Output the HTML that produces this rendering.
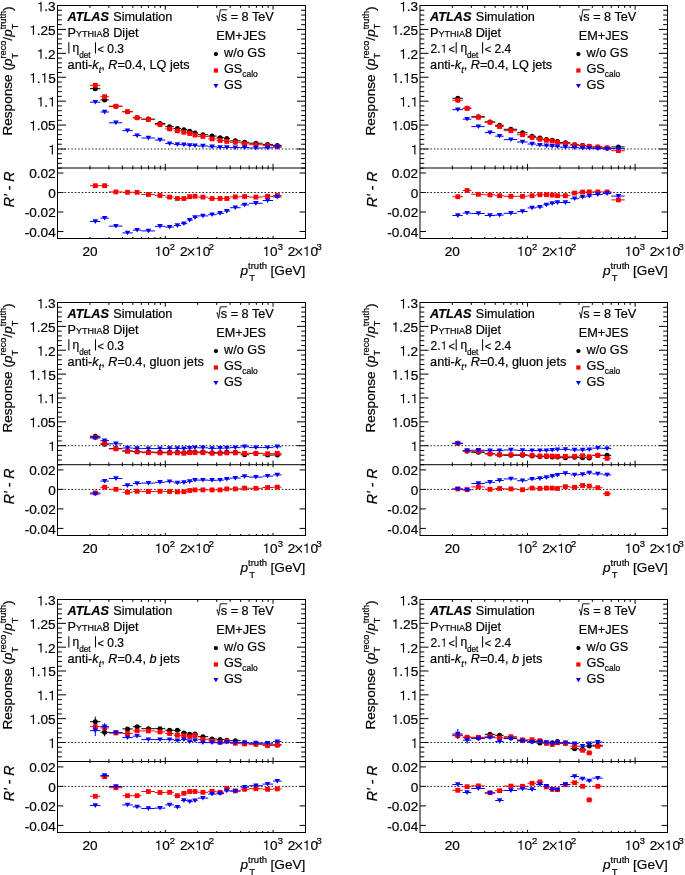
<!DOCTYPE html>
<html><head><meta charset="utf-8"><style>
html,body{margin:0;padding:0;background:#fff;width:685px;height:875px;overflow:hidden}
svg{display:block}
text{font-family:"Liberation Sans", sans-serif;fill:#000;stroke:#000;stroke-width:0.2px}
svg{will-change:transform}
.h{fill:none;stroke:none}
</style></head><body>
<svg width="685" height="875" viewBox="0 0 685 875">
<rect width="685" height="875" fill="#fff"/>
<rect x="57.5" y="5.5" width="248" height="233" fill="none" stroke="#000" stroke-width="1"/>
<line x1="57.5" y1="168" x2="305.5" y2="168" stroke="#000" stroke-width="1"/>
<line x1="57.5" y1="168.13" x2="61.8" y2="168.13" stroke="#000" stroke-width="1"/>
<line x1="305.5" y1="168.13" x2="301.2" y2="168.13" stroke="#000" stroke-width="1"/>
<line x1="57.5" y1="163.35" x2="61.8" y2="163.35" stroke="#000" stroke-width="1"/>
<line x1="305.5" y1="163.35" x2="301.2" y2="163.35" stroke="#000" stroke-width="1"/>
<line x1="57.5" y1="158.57" x2="61.8" y2="158.57" stroke="#000" stroke-width="1"/>
<line x1="305.5" y1="158.57" x2="301.2" y2="158.57" stroke="#000" stroke-width="1"/>
<line x1="57.5" y1="153.78" x2="61.8" y2="153.78" stroke="#000" stroke-width="1"/>
<line x1="305.5" y1="153.78" x2="301.2" y2="153.78" stroke="#000" stroke-width="1"/>
<line x1="57.5" y1="149" x2="66" y2="149" stroke="#000" stroke-width="1"/>
<line x1="305.5" y1="149" x2="297" y2="149" stroke="#000" stroke-width="1"/>
<line x1="57.5" y1="144.22" x2="61.8" y2="144.22" stroke="#000" stroke-width="1"/>
<line x1="305.5" y1="144.22" x2="301.2" y2="144.22" stroke="#000" stroke-width="1"/>
<line x1="57.5" y1="139.43" x2="61.8" y2="139.43" stroke="#000" stroke-width="1"/>
<line x1="305.5" y1="139.43" x2="301.2" y2="139.43" stroke="#000" stroke-width="1"/>
<line x1="57.5" y1="134.65" x2="61.8" y2="134.65" stroke="#000" stroke-width="1"/>
<line x1="305.5" y1="134.65" x2="301.2" y2="134.65" stroke="#000" stroke-width="1"/>
<line x1="57.5" y1="129.87" x2="61.8" y2="129.87" stroke="#000" stroke-width="1"/>
<line x1="305.5" y1="129.87" x2="301.2" y2="129.87" stroke="#000" stroke-width="1"/>
<line x1="57.5" y1="125.08" x2="66" y2="125.08" stroke="#000" stroke-width="1"/>
<line x1="305.5" y1="125.08" x2="297" y2="125.08" stroke="#000" stroke-width="1"/>
<line x1="57.5" y1="120.3" x2="61.8" y2="120.3" stroke="#000" stroke-width="1"/>
<line x1="305.5" y1="120.3" x2="301.2" y2="120.3" stroke="#000" stroke-width="1"/>
<line x1="57.5" y1="115.52" x2="61.8" y2="115.52" stroke="#000" stroke-width="1"/>
<line x1="305.5" y1="115.52" x2="301.2" y2="115.52" stroke="#000" stroke-width="1"/>
<line x1="57.5" y1="110.73" x2="61.8" y2="110.73" stroke="#000" stroke-width="1"/>
<line x1="305.5" y1="110.73" x2="301.2" y2="110.73" stroke="#000" stroke-width="1"/>
<line x1="57.5" y1="105.95" x2="61.8" y2="105.95" stroke="#000" stroke-width="1"/>
<line x1="305.5" y1="105.95" x2="301.2" y2="105.95" stroke="#000" stroke-width="1"/>
<line x1="57.5" y1="101.17" x2="66" y2="101.17" stroke="#000" stroke-width="1"/>
<line x1="305.5" y1="101.17" x2="297" y2="101.17" stroke="#000" stroke-width="1"/>
<line x1="57.5" y1="96.38" x2="61.8" y2="96.38" stroke="#000" stroke-width="1"/>
<line x1="305.5" y1="96.38" x2="301.2" y2="96.38" stroke="#000" stroke-width="1"/>
<line x1="57.5" y1="91.6" x2="61.8" y2="91.6" stroke="#000" stroke-width="1"/>
<line x1="305.5" y1="91.6" x2="301.2" y2="91.6" stroke="#000" stroke-width="1"/>
<line x1="57.5" y1="86.82" x2="61.8" y2="86.82" stroke="#000" stroke-width="1"/>
<line x1="305.5" y1="86.82" x2="301.2" y2="86.82" stroke="#000" stroke-width="1"/>
<line x1="57.5" y1="82.03" x2="61.8" y2="82.03" stroke="#000" stroke-width="1"/>
<line x1="305.5" y1="82.03" x2="301.2" y2="82.03" stroke="#000" stroke-width="1"/>
<line x1="57.5" y1="77.25" x2="66" y2="77.25" stroke="#000" stroke-width="1"/>
<line x1="305.5" y1="77.25" x2="297" y2="77.25" stroke="#000" stroke-width="1"/>
<line x1="57.5" y1="72.47" x2="61.8" y2="72.47" stroke="#000" stroke-width="1"/>
<line x1="305.5" y1="72.47" x2="301.2" y2="72.47" stroke="#000" stroke-width="1"/>
<line x1="57.5" y1="67.68" x2="61.8" y2="67.68" stroke="#000" stroke-width="1"/>
<line x1="305.5" y1="67.68" x2="301.2" y2="67.68" stroke="#000" stroke-width="1"/>
<line x1="57.5" y1="62.9" x2="61.8" y2="62.9" stroke="#000" stroke-width="1"/>
<line x1="305.5" y1="62.9" x2="301.2" y2="62.9" stroke="#000" stroke-width="1"/>
<line x1="57.5" y1="58.12" x2="61.8" y2="58.12" stroke="#000" stroke-width="1"/>
<line x1="305.5" y1="58.12" x2="301.2" y2="58.12" stroke="#000" stroke-width="1"/>
<line x1="57.5" y1="53.33" x2="66" y2="53.33" stroke="#000" stroke-width="1"/>
<line x1="305.5" y1="53.33" x2="297" y2="53.33" stroke="#000" stroke-width="1"/>
<line x1="57.5" y1="48.55" x2="61.8" y2="48.55" stroke="#000" stroke-width="1"/>
<line x1="305.5" y1="48.55" x2="301.2" y2="48.55" stroke="#000" stroke-width="1"/>
<line x1="57.5" y1="43.77" x2="61.8" y2="43.77" stroke="#000" stroke-width="1"/>
<line x1="305.5" y1="43.77" x2="301.2" y2="43.77" stroke="#000" stroke-width="1"/>
<line x1="57.5" y1="38.98" x2="61.8" y2="38.98" stroke="#000" stroke-width="1"/>
<line x1="305.5" y1="38.98" x2="301.2" y2="38.98" stroke="#000" stroke-width="1"/>
<line x1="57.5" y1="34.2" x2="61.8" y2="34.2" stroke="#000" stroke-width="1"/>
<line x1="305.5" y1="34.2" x2="301.2" y2="34.2" stroke="#000" stroke-width="1"/>
<line x1="57.5" y1="29.42" x2="66" y2="29.42" stroke="#000" stroke-width="1"/>
<line x1="305.5" y1="29.42" x2="297" y2="29.42" stroke="#000" stroke-width="1"/>
<line x1="57.5" y1="24.63" x2="61.8" y2="24.63" stroke="#000" stroke-width="1"/>
<line x1="305.5" y1="24.63" x2="301.2" y2="24.63" stroke="#000" stroke-width="1"/>
<line x1="57.5" y1="19.85" x2="61.8" y2="19.85" stroke="#000" stroke-width="1"/>
<line x1="305.5" y1="19.85" x2="301.2" y2="19.85" stroke="#000" stroke-width="1"/>
<line x1="57.5" y1="15.07" x2="61.8" y2="15.07" stroke="#000" stroke-width="1"/>
<line x1="305.5" y1="15.07" x2="301.2" y2="15.07" stroke="#000" stroke-width="1"/>
<line x1="57.5" y1="10.28" x2="61.8" y2="10.28" stroke="#000" stroke-width="1"/>
<line x1="305.5" y1="10.28" x2="301.2" y2="10.28" stroke="#000" stroke-width="1"/>
<line x1="57.5" y1="5.5" x2="66" y2="5.5" stroke="#000" stroke-width="1"/>
<line x1="305.5" y1="5.5" x2="297" y2="5.5" stroke="#000" stroke-width="1"/>
<line x1="57.5" y1="173" x2="63.4" y2="173" stroke="#000" stroke-width="1"/>
<line x1="305.5" y1="173" x2="299.6" y2="173" stroke="#000" stroke-width="1"/>
<line x1="57.5" y1="192.5" x2="63.4" y2="192.5" stroke="#000" stroke-width="1"/>
<line x1="305.5" y1="192.5" x2="299.6" y2="192.5" stroke="#000" stroke-width="1"/>
<line x1="57.5" y1="212" x2="63.4" y2="212" stroke="#000" stroke-width="1"/>
<line x1="305.5" y1="212" x2="299.6" y2="212" stroke="#000" stroke-width="1"/>
<line x1="57.5" y1="231.5" x2="63.4" y2="231.5" stroke="#000" stroke-width="1"/>
<line x1="305.5" y1="231.5" x2="299.6" y2="231.5" stroke="#000" stroke-width="1"/>
<line x1="89.94" y1="5.5" x2="89.94" y2="7.9" stroke="#000" stroke-width="1"/>
<line x1="89.94" y1="168" x2="89.94" y2="165.6" stroke="#000" stroke-width="1"/>
<line x1="89.94" y1="168" x2="89.94" y2="169.5" stroke="#000" stroke-width="1"/>
<line x1="89.94" y1="238.5" x2="89.94" y2="237" stroke="#000" stroke-width="1"/>
<line x1="108.92" y1="5.5" x2="108.92" y2="7.9" stroke="#000" stroke-width="1"/>
<line x1="108.92" y1="168" x2="108.92" y2="165.6" stroke="#000" stroke-width="1"/>
<line x1="108.92" y1="168" x2="108.92" y2="169.5" stroke="#000" stroke-width="1"/>
<line x1="108.92" y1="238.5" x2="108.92" y2="237" stroke="#000" stroke-width="1"/>
<line x1="122.39" y1="5.5" x2="122.39" y2="7.9" stroke="#000" stroke-width="1"/>
<line x1="122.39" y1="168" x2="122.39" y2="165.6" stroke="#000" stroke-width="1"/>
<line x1="122.39" y1="168" x2="122.39" y2="169.5" stroke="#000" stroke-width="1"/>
<line x1="122.39" y1="238.5" x2="122.39" y2="237" stroke="#000" stroke-width="1"/>
<line x1="132.83" y1="5.5" x2="132.83" y2="7.9" stroke="#000" stroke-width="1"/>
<line x1="132.83" y1="168" x2="132.83" y2="165.6" stroke="#000" stroke-width="1"/>
<line x1="132.83" y1="168" x2="132.83" y2="169.5" stroke="#000" stroke-width="1"/>
<line x1="132.83" y1="238.5" x2="132.83" y2="237" stroke="#000" stroke-width="1"/>
<line x1="141.37" y1="5.5" x2="141.37" y2="7.9" stroke="#000" stroke-width="1"/>
<line x1="141.37" y1="168" x2="141.37" y2="165.6" stroke="#000" stroke-width="1"/>
<line x1="141.37" y1="168" x2="141.37" y2="169.5" stroke="#000" stroke-width="1"/>
<line x1="141.37" y1="238.5" x2="141.37" y2="237" stroke="#000" stroke-width="1"/>
<line x1="148.58" y1="5.5" x2="148.58" y2="7.9" stroke="#000" stroke-width="1"/>
<line x1="148.58" y1="168" x2="148.58" y2="165.6" stroke="#000" stroke-width="1"/>
<line x1="148.58" y1="168" x2="148.58" y2="169.5" stroke="#000" stroke-width="1"/>
<line x1="148.58" y1="238.5" x2="148.58" y2="237" stroke="#000" stroke-width="1"/>
<line x1="154.83" y1="5.5" x2="154.83" y2="7.9" stroke="#000" stroke-width="1"/>
<line x1="154.83" y1="168" x2="154.83" y2="165.6" stroke="#000" stroke-width="1"/>
<line x1="154.83" y1="168" x2="154.83" y2="169.5" stroke="#000" stroke-width="1"/>
<line x1="154.83" y1="238.5" x2="154.83" y2="237" stroke="#000" stroke-width="1"/>
<line x1="160.35" y1="5.5" x2="160.35" y2="7.9" stroke="#000" stroke-width="1"/>
<line x1="160.35" y1="168" x2="160.35" y2="165.6" stroke="#000" stroke-width="1"/>
<line x1="160.35" y1="168" x2="160.35" y2="169.5" stroke="#000" stroke-width="1"/>
<line x1="160.35" y1="238.5" x2="160.35" y2="237" stroke="#000" stroke-width="1"/>
<line x1="165.28" y1="5.5" x2="165.28" y2="9.7" stroke="#000" stroke-width="1"/>
<line x1="165.28" y1="168" x2="165.28" y2="163.8" stroke="#000" stroke-width="1"/>
<line x1="165.28" y1="168" x2="165.28" y2="170.6" stroke="#000" stroke-width="1"/>
<line x1="165.28" y1="238.5" x2="165.28" y2="235.9" stroke="#000" stroke-width="1"/>
<line x1="197.72" y1="5.5" x2="197.72" y2="7.9" stroke="#000" stroke-width="1"/>
<line x1="197.72" y1="168" x2="197.72" y2="165.6" stroke="#000" stroke-width="1"/>
<line x1="197.72" y1="168" x2="197.72" y2="169.5" stroke="#000" stroke-width="1"/>
<line x1="197.72" y1="238.5" x2="197.72" y2="237" stroke="#000" stroke-width="1"/>
<line x1="216.7" y1="5.5" x2="216.7" y2="7.9" stroke="#000" stroke-width="1"/>
<line x1="216.7" y1="168" x2="216.7" y2="165.6" stroke="#000" stroke-width="1"/>
<line x1="216.7" y1="168" x2="216.7" y2="169.5" stroke="#000" stroke-width="1"/>
<line x1="216.7" y1="238.5" x2="216.7" y2="237" stroke="#000" stroke-width="1"/>
<line x1="230.17" y1="5.5" x2="230.17" y2="7.9" stroke="#000" stroke-width="1"/>
<line x1="230.17" y1="168" x2="230.17" y2="165.6" stroke="#000" stroke-width="1"/>
<line x1="230.17" y1="168" x2="230.17" y2="169.5" stroke="#000" stroke-width="1"/>
<line x1="230.17" y1="238.5" x2="230.17" y2="237" stroke="#000" stroke-width="1"/>
<line x1="240.61" y1="5.5" x2="240.61" y2="7.9" stroke="#000" stroke-width="1"/>
<line x1="240.61" y1="168" x2="240.61" y2="165.6" stroke="#000" stroke-width="1"/>
<line x1="240.61" y1="168" x2="240.61" y2="169.5" stroke="#000" stroke-width="1"/>
<line x1="240.61" y1="238.5" x2="240.61" y2="237" stroke="#000" stroke-width="1"/>
<line x1="249.15" y1="5.5" x2="249.15" y2="7.9" stroke="#000" stroke-width="1"/>
<line x1="249.15" y1="168" x2="249.15" y2="165.6" stroke="#000" stroke-width="1"/>
<line x1="249.15" y1="168" x2="249.15" y2="169.5" stroke="#000" stroke-width="1"/>
<line x1="249.15" y1="238.5" x2="249.15" y2="237" stroke="#000" stroke-width="1"/>
<line x1="256.36" y1="5.5" x2="256.36" y2="7.9" stroke="#000" stroke-width="1"/>
<line x1="256.36" y1="168" x2="256.36" y2="165.6" stroke="#000" stroke-width="1"/>
<line x1="256.36" y1="168" x2="256.36" y2="169.5" stroke="#000" stroke-width="1"/>
<line x1="256.36" y1="238.5" x2="256.36" y2="237" stroke="#000" stroke-width="1"/>
<line x1="262.61" y1="5.5" x2="262.61" y2="7.9" stroke="#000" stroke-width="1"/>
<line x1="262.61" y1="168" x2="262.61" y2="165.6" stroke="#000" stroke-width="1"/>
<line x1="262.61" y1="168" x2="262.61" y2="169.5" stroke="#000" stroke-width="1"/>
<line x1="262.61" y1="238.5" x2="262.61" y2="237" stroke="#000" stroke-width="1"/>
<line x1="268.12" y1="5.5" x2="268.12" y2="7.9" stroke="#000" stroke-width="1"/>
<line x1="268.12" y1="168" x2="268.12" y2="165.6" stroke="#000" stroke-width="1"/>
<line x1="268.12" y1="168" x2="268.12" y2="169.5" stroke="#000" stroke-width="1"/>
<line x1="268.12" y1="238.5" x2="268.12" y2="237" stroke="#000" stroke-width="1"/>
<line x1="273.06" y1="5.5" x2="273.06" y2="9.7" stroke="#000" stroke-width="1"/>
<line x1="273.06" y1="168" x2="273.06" y2="163.8" stroke="#000" stroke-width="1"/>
<line x1="273.06" y1="168" x2="273.06" y2="170.6" stroke="#000" stroke-width="1"/>
<line x1="273.06" y1="238.5" x2="273.06" y2="235.9" stroke="#000" stroke-width="1"/>
<line x1="57.5" y1="149" x2="305.5" y2="149" stroke="#222" stroke-width="1" stroke-dasharray="1.5 1.95"/>
<line x1="57.5" y1="192.5" x2="305.5" y2="192.5" stroke="#222" stroke-width="1" stroke-dasharray="1.65 1.8"/>
<text x="55.7" y="11.4" text-anchor="end" font-size="13.6" ><tspan class="h">1</tspan>.3</text>
<path d="M41.58,11.4 L41.58,1.76 L40.83,1.76 C40.57,2.78 40.36,2.9 39.12,3.04 L38.15,3.16 L38.15,4.06 L40.44,4.06 L40.44,11.4 Z" fill="#000"/>
<text x="55.7" y="34.82" text-anchor="end" font-size="13.6" ><tspan class="h">1</tspan>.25</text>
<path d="M34.02,34.82 L34.02,25.17 L33.27,25.17 C33.01,26.19 32.79,26.32 31.55,26.45 L30.59,26.58 L30.59,27.47 L32.87,27.47 L32.87,34.82 Z" fill="#000"/>
<text x="55.7" y="58.73" text-anchor="end" font-size="13.6" ><tspan class="h">1</tspan>.2</text>
<path d="M41.58,58.73 L41.58,49.09 L40.83,49.09 C40.57,50.11 40.36,50.23 39.12,50.37 L38.15,50.49 L38.15,51.39 L40.44,51.39 L40.44,58.73 Z" fill="#000"/>
<text x="55.7" y="82.65" text-anchor="end" font-size="13.6" ><tspan class="h">1</tspan>.<tspan class="h">1</tspan>5</text>
<path d="M34.02,82.65 L34.02,73.01 L33.27,73.01 C33.01,74.03 32.79,74.15 31.55,74.29 L30.59,74.41 L30.59,75.31 L32.87,75.31 L32.87,82.65 Z" fill="#000"/>
<path d="M45.36,82.65 L45.36,73.01 L44.61,73.01 C44.35,74.03 44.13,74.15 42.9,74.29 L41.93,74.41 L41.93,75.31 L44.22,75.31 L44.22,82.65 Z" fill="#000"/>
<text x="55.7" y="106.57" text-anchor="end" font-size="13.6" ><tspan class="h">1</tspan>.<tspan class="h">1</tspan></text>
<path d="M41.58,106.57 L41.58,96.92 L40.83,96.92 C40.57,97.94 40.36,98.07 39.12,98.2 L38.15,98.33 L38.15,99.22 L40.44,99.22 L40.44,106.57 Z" fill="#000"/>
<path d="M52.92,106.57 L52.92,96.92 L52.17,96.92 C51.92,97.94 51.7,98.07 50.46,98.2 L49.5,98.33 L49.5,99.22 L51.78,99.22 L51.78,106.57 Z" fill="#000"/>
<text x="55.7" y="130.48" text-anchor="end" font-size="13.6" ><tspan class="h">1</tspan>.05</text>
<path d="M34.02,130.48 L34.02,120.84 L33.27,120.84 C33.01,121.86 32.79,121.98 31.55,122.12 L30.59,122.24 L30.59,123.14 L32.87,123.14 L32.87,130.48 Z" fill="#000"/>
<text x="55.7" y="154.4" text-anchor="end" font-size="13.6" ><tspan class="h">1</tspan></text>
<path d="M52.92,154.4 L52.92,144.76 L52.17,144.76 C51.92,145.78 51.7,145.9 50.46,146.04 L49.5,146.16 L49.5,147.06 L51.78,147.06 L51.78,154.4 Z" fill="#000"/>
<text x="55.7" y="178.4" text-anchor="end" font-size="13.6" >0.02</text>
<text x="55.7" y="197.9" text-anchor="end" font-size="13.6" >0</text>
<text x="55.7" y="217.4" text-anchor="end" font-size="13.6" >-0.02</text>
<text x="55.7" y="236.9" text-anchor="end" font-size="13.6" >-0.04</text>
<text x="89.94" y="256" text-anchor="middle" font-size="13.6" >20</text>
<text x="154.57" y="256" text-anchor="start" font-size="13.6" ><tspan class="h">1</tspan>0</text>
<path d="M159.36,256 L159.36,246.36 L158.61,246.36 C158.35,247.38 158.13,247.5 156.9,247.64 L155.93,247.76 L155.93,248.66 L158.22,248.66 L158.22,256 Z" fill="#000"/>
<text x="169.7" y="249.8" text-anchor="start" font-size="9.5" >2</text>
<text x="262.55" y="256" text-anchor="start" font-size="13.6" ><tspan class="h">1</tspan>0</text>
<path d="M267.34,256 L267.34,246.36 L266.59,246.36 C266.33,247.38 266.11,247.5 264.87,247.64 L263.91,247.76 L263.91,248.66 L266.19,248.66 L266.19,256 Z" fill="#000"/>
<text x="277.68" y="249.8" text-anchor="start" font-size="9.5" >3</text>
<text x="180.07" y="256" text-anchor="start" font-size="13.6" >2</text>
<path d="M187.67,248.3 L194.27,255.3 M194.27,248.3 L187.67,255.3" stroke="#000" stroke-width="1.05" fill="none"/>
<text x="195.07" y="256" text-anchor="start" font-size="13.6" ><tspan class="h">1</tspan>0</text>
<path d="M199.86,256 L199.86,246.36 L199.11,246.36 C198.85,247.38 198.64,247.5 197.4,247.64 L196.43,247.76 L196.43,248.66 L198.72,248.66 L198.72,256 Z" fill="#000"/>
<text x="208.82" y="249.8" text-anchor="start" font-size="9.5" >2</text>
<text x="287.85" y="256" text-anchor="start" font-size="13.6" >2</text>
<path d="M295.45,248.3 L302.05,255.3 M302.05,248.3 L295.45,255.3" stroke="#000" stroke-width="1.05" fill="none"/>
<text x="302.85" y="256" text-anchor="start" font-size="13.6" ><tspan class="h">1</tspan>0</text>
<path d="M307.64,256 L307.64,246.36 L306.89,246.36 C306.63,247.38 306.41,247.5 305.18,247.64 L304.21,247.76 L304.21,248.66 L306.49,248.66 L306.49,256 Z" fill="#000"/>
<text x="316.6" y="249.8" text-anchor="start" font-size="9.5" >3</text>
<text x="240.5" y="274.7" font-size="13.6"><tspan font-style="italic">p</tspan><tspan font-size="9.5" dy="-5.5">truth</tspan></text>
<text x="249.3" y="281" font-size="9.5">T</text>
<text x="305.3" y="274.7" font-size="13.6" text-anchor="end">[GeV]</text>
<text transform="translate(12.4,135.6) rotate(-90)" font-size="13.6">Response (<tspan font-style="italic">p</tspan><tspan font-size="9" dy="5.4">T</tspan><tspan font-size="9.2" dx="-5.5" dy="-11.4">reco</tspan><tspan dy="6">/</tspan><tspan font-style="italic">p</tspan><tspan font-size="9" dy="5.4">T</tspan><tspan font-size="9.2" dx="-5.5" dy="-11.4">truth</tspan><tspan dy="6">)</tspan></text>
<text transform="translate(14.4,207.3) rotate(-90)" font-size="14.2" font-style="italic">R' - R</text>
<text x="67.6" y="20.7" font-size="12.7"><tspan font-weight="bold" font-style="italic">ATLAS</tspan></text>
<text x="113.2" y="20.7" font-size="12.7">Simulation</text>
<text x="67.6" y="36.7" font-size="12.7">P<tspan font-size="9.0">YTHIA</tspan>8 Dijet</text>
<text x="72.6" y="51.6" font-size="12.0">η</text>
<text x="79.2" y="57.6" font-size="8.2">det</text>
<text x="97.5" y="52.8" font-size="10.8">&lt;</text>
<text x="107.3" y="52.8" font-size="12.0">0.3</text>
<line x1="68.85" y1="42.3" x2="68.85" y2="53.4" stroke="#000" stroke-width="1.05"/>
<line x1="95.5" y1="42.3" x2="95.5" y2="53.4" stroke="#000" stroke-width="1.05"/>
<text x="67.6" y="69.3" font-size="12.7">anti-<tspan font-style="italic">k</tspan><tspan font-style="italic" font-size="9" dy="3.3">t</tspan><tspan dy="-3.3">, </tspan><tspan font-style="italic">R</tspan>=0.4, LQ jets</text>
<path d="M216.4,16.2 l0.9,-0.5 l1.3,5.6 l1.7,-11.5 h6.9" fill="none" stroke="#000" stroke-width="0.9"/>
<text x="220.8" y="20.8" font-size="12.7">s = 8 TeV</text>
<text x="216.2" y="40.2" font-size="12.7">EM+JES</text>
<circle cx="215.9" cy="54.1" r="2.15" fill="#000"/>
<text x="224" y="56.5" font-size="12.7">w/o GS</text>
<rect x="213.8" y="68.4" width="4.2" height="4.2" fill="#f00"/>
<text x="224" y="73.2" font-size="12.7">GS<tspan font-size="8.4" dy="3.6">calo</tspan></text>
<path d="M213.4,84 h5 l-2.5,4.3 z" fill="#00f"/>
<text x="224" y="89" font-size="12.7">GS</text>
<line x1="89.94" y1="88.7" x2="100.39" y2="88.7" stroke="#000" stroke-width="1"/>
<line x1="100.39" y1="99.9" x2="108.92" y2="99.9" stroke="#000" stroke-width="1"/>
<line x1="108.92" y1="106.3" x2="122.39" y2="106.3" stroke="#000" stroke-width="1"/>
<line x1="122.39" y1="111.7" x2="132.83" y2="111.7" stroke="#000" stroke-width="1"/>
<line x1="132.83" y1="117.7" x2="141.37" y2="117.7" stroke="#000" stroke-width="1"/>
<line x1="141.37" y1="119.1" x2="154.83" y2="119.1" stroke="#000" stroke-width="1"/>
<line x1="154.83" y1="123.5" x2="165.28" y2="123.5" stroke="#000" stroke-width="1"/>
<line x1="165.28" y1="126.7" x2="173.81" y2="126.7" stroke="#000" stroke-width="1"/>
<line x1="173.81" y1="128.5" x2="181.03" y2="128.5" stroke="#000" stroke-width="1"/>
<line x1="181.03" y1="129.7" x2="187.28" y2="129.7" stroke="#000" stroke-width="1"/>
<line x1="187.28" y1="131.3" x2="192.79" y2="131.3" stroke="#000" stroke-width="1"/>
<line x1="192.79" y1="132.9" x2="197.72" y2="132.9" stroke="#000" stroke-width="1"/>
<line x1="197.72" y1="134.7" x2="208.17" y2="134.7" stroke="#000" stroke-width="1"/>
<line x1="208.17" y1="136.1" x2="216.7" y2="136.1" stroke="#000" stroke-width="1"/>
<line x1="216.7" y1="137.7" x2="223.92" y2="137.7" stroke="#000" stroke-width="1"/>
<line x1="223.92" y1="138.5" x2="230.17" y2="138.5" stroke="#000" stroke-width="1"/>
<line x1="230.17" y1="140.8" x2="240.61" y2="140.8" stroke="#000" stroke-width="1"/>
<line x1="240.61" y1="142.2" x2="249.15" y2="142.2" stroke="#000" stroke-width="1"/>
<line x1="249.15" y1="143.2" x2="262.61" y2="143.2" stroke="#000" stroke-width="1"/>
<line x1="262.61" y1="144.4" x2="273.06" y2="144.4" stroke="#000" stroke-width="1"/>
<line x1="273.06" y1="145.4" x2="281.59" y2="145.4" stroke="#000" stroke-width="1"/>
<circle cx="95.3" cy="88.7" r="2.5" fill="#000"/>
<circle cx="104.6" cy="99.9" r="2.5" fill="#000"/>
<circle cx="115.9" cy="106.3" r="2.5" fill="#000"/>
<circle cx="127.5" cy="111.7" r="2.5" fill="#000"/>
<circle cx="137.1" cy="117.7" r="2.5" fill="#000"/>
<circle cx="148.4" cy="119.1" r="2.5" fill="#000"/>
<circle cx="160" cy="123.5" r="2.5" fill="#000"/>
<circle cx="169.6" cy="126.7" r="2.5" fill="#000"/>
<circle cx="177.4" cy="128.5" r="2.5" fill="#000"/>
<circle cx="183.9" cy="129.7" r="2.5" fill="#000"/>
<circle cx="189.7" cy="131.3" r="2.5" fill="#000"/>
<circle cx="195" cy="132.9" r="2.5" fill="#000"/>
<circle cx="202.9" cy="134.7" r="2.5" fill="#000"/>
<circle cx="212.1" cy="136.1" r="2.5" fill="#000"/>
<circle cx="220.1" cy="137.7" r="2.5" fill="#000"/>
<circle cx="226.8" cy="138.5" r="2.5" fill="#000"/>
<circle cx="235.3" cy="140.8" r="2.5" fill="#000"/>
<circle cx="244.6" cy="142.2" r="2.5" fill="#000"/>
<circle cx="255.9" cy="143.2" r="2.5" fill="#000"/>
<circle cx="267.6" cy="144.4" r="2.5" fill="#000"/>
<circle cx="277.3" cy="145.4" r="2.5" fill="#000"/>
<line x1="89.94" y1="85.3" x2="100.39" y2="85.3" stroke="#f00" stroke-width="1"/>
<line x1="100.39" y1="96.7" x2="108.92" y2="96.7" stroke="#f00" stroke-width="1"/>
<line x1="108.92" y1="106.3" x2="122.39" y2="106.3" stroke="#f00" stroke-width="1"/>
<line x1="122.39" y1="111.7" x2="132.83" y2="111.7" stroke="#f00" stroke-width="1"/>
<line x1="132.83" y1="117.7" x2="141.37" y2="117.7" stroke="#f00" stroke-width="1"/>
<line x1="141.37" y1="119.5" x2="154.83" y2="119.5" stroke="#f00" stroke-width="1"/>
<line x1="154.83" y1="124.7" x2="165.28" y2="124.7" stroke="#f00" stroke-width="1"/>
<line x1="165.28" y1="128.9" x2="173.81" y2="128.9" stroke="#f00" stroke-width="1"/>
<line x1="173.81" y1="130.9" x2="181.03" y2="130.9" stroke="#f00" stroke-width="1"/>
<line x1="181.03" y1="132.3" x2="187.28" y2="132.3" stroke="#f00" stroke-width="1"/>
<line x1="187.28" y1="133.5" x2="192.79" y2="133.5" stroke="#f00" stroke-width="1"/>
<line x1="192.79" y1="135.1" x2="197.72" y2="135.1" stroke="#f00" stroke-width="1"/>
<line x1="197.72" y1="136.4" x2="208.17" y2="136.4" stroke="#f00" stroke-width="1"/>
<line x1="208.17" y1="138.9" x2="216.7" y2="138.9" stroke="#f00" stroke-width="1"/>
<line x1="216.7" y1="140.5" x2="223.92" y2="140.5" stroke="#f00" stroke-width="1"/>
<line x1="223.92" y1="141.4" x2="230.17" y2="141.4" stroke="#f00" stroke-width="1"/>
<line x1="230.17" y1="142.3" x2="240.61" y2="142.3" stroke="#f00" stroke-width="1"/>
<line x1="240.61" y1="143.8" x2="249.15" y2="143.8" stroke="#f00" stroke-width="1"/>
<line x1="249.15" y1="144.7" x2="262.61" y2="144.7" stroke="#f00" stroke-width="1"/>
<line x1="262.61" y1="145.7" x2="273.06" y2="145.7" stroke="#f00" stroke-width="1"/>
<line x1="273.06" y1="146.7" x2="281.59" y2="146.7" stroke="#f00" stroke-width="1"/>
<rect x="92.9" y="82.9" width="4.8" height="4.8" fill="#f00"/>
<rect x="102.2" y="94.3" width="4.8" height="4.8" fill="#f00"/>
<rect x="113.5" y="103.9" width="4.8" height="4.8" fill="#f00"/>
<rect x="125.1" y="109.3" width="4.8" height="4.8" fill="#f00"/>
<rect x="134.7" y="115.3" width="4.8" height="4.8" fill="#f00"/>
<rect x="146" y="117.1" width="4.8" height="4.8" fill="#f00"/>
<rect x="157.6" y="122.3" width="4.8" height="4.8" fill="#f00"/>
<rect x="167.2" y="126.5" width="4.8" height="4.8" fill="#f00"/>
<rect x="175" y="128.5" width="4.8" height="4.8" fill="#f00"/>
<rect x="181.5" y="129.9" width="4.8" height="4.8" fill="#f00"/>
<rect x="187.3" y="131.1" width="4.8" height="4.8" fill="#f00"/>
<rect x="192.6" y="132.7" width="4.8" height="4.8" fill="#f00"/>
<rect x="200.5" y="134" width="4.8" height="4.8" fill="#f00"/>
<rect x="209.7" y="136.5" width="4.8" height="4.8" fill="#f00"/>
<rect x="217.7" y="138.1" width="4.8" height="4.8" fill="#f00"/>
<rect x="224.4" y="139" width="4.8" height="4.8" fill="#f00"/>
<rect x="232.9" y="139.9" width="4.8" height="4.8" fill="#f00"/>
<rect x="242.2" y="141.4" width="4.8" height="4.8" fill="#f00"/>
<rect x="253.5" y="142.3" width="4.8" height="4.8" fill="#f00"/>
<rect x="265.2" y="143.3" width="4.8" height="4.8" fill="#f00"/>
<rect x="274.9" y="144.3" width="4.8" height="4.8" fill="#f00"/>
<line x1="89.94" y1="102.2" x2="100.39" y2="102.2" stroke="#00f" stroke-width="1"/>
<line x1="100.39" y1="112" x2="108.92" y2="112" stroke="#00f" stroke-width="1"/>
<line x1="108.92" y1="122.8" x2="122.39" y2="122.8" stroke="#00f" stroke-width="1"/>
<line x1="122.39" y1="130.6" x2="132.83" y2="130.6" stroke="#00f" stroke-width="1"/>
<line x1="132.83" y1="135.6" x2="141.37" y2="135.6" stroke="#00f" stroke-width="1"/>
<line x1="141.37" y1="138" x2="154.83" y2="138" stroke="#00f" stroke-width="1"/>
<line x1="154.83" y1="140" x2="165.28" y2="140" stroke="#00f" stroke-width="1"/>
<line x1="165.28" y1="143.6" x2="173.81" y2="143.6" stroke="#00f" stroke-width="1"/>
<line x1="173.81" y1="144.4" x2="181.03" y2="144.4" stroke="#00f" stroke-width="1"/>
<line x1="181.03" y1="144.8" x2="187.28" y2="144.8" stroke="#00f" stroke-width="1"/>
<line x1="187.28" y1="145.4" x2="192.79" y2="145.4" stroke="#00f" stroke-width="1"/>
<line x1="192.79" y1="145.6" x2="197.72" y2="145.6" stroke="#00f" stroke-width="1"/>
<line x1="197.72" y1="146" x2="208.17" y2="146" stroke="#00f" stroke-width="1"/>
<line x1="208.17" y1="146.8" x2="216.7" y2="146.8" stroke="#00f" stroke-width="1"/>
<line x1="216.7" y1="147.4" x2="223.92" y2="147.4" stroke="#00f" stroke-width="1"/>
<line x1="223.92" y1="147.4" x2="230.17" y2="147.4" stroke="#00f" stroke-width="1"/>
<line x1="230.17" y1="147.6" x2="240.61" y2="147.6" stroke="#00f" stroke-width="1"/>
<line x1="240.61" y1="147.6" x2="249.15" y2="147.6" stroke="#00f" stroke-width="1"/>
<line x1="249.15" y1="148" x2="262.61" y2="148" stroke="#00f" stroke-width="1"/>
<line x1="262.61" y1="147.8" x2="273.06" y2="147.8" stroke="#00f" stroke-width="1"/>
<line x1="273.06" y1="147" x2="281.59" y2="147" stroke="#00f" stroke-width="1"/>
<path d="M92.5,100 h5.6 l-2.8,4.6 z" fill="#00f"/>
<path d="M101.8,109.8 h5.6 l-2.8,4.6 z" fill="#00f"/>
<path d="M113.1,120.6 h5.6 l-2.8,4.6 z" fill="#00f"/>
<path d="M124.7,128.4 h5.6 l-2.8,4.6 z" fill="#00f"/>
<path d="M134.3,133.4 h5.6 l-2.8,4.6 z" fill="#00f"/>
<path d="M145.6,135.8 h5.6 l-2.8,4.6 z" fill="#00f"/>
<path d="M157.2,137.8 h5.6 l-2.8,4.6 z" fill="#00f"/>
<path d="M166.8,141.4 h5.6 l-2.8,4.6 z" fill="#00f"/>
<path d="M174.6,142.2 h5.6 l-2.8,4.6 z" fill="#00f"/>
<path d="M181.1,142.6 h5.6 l-2.8,4.6 z" fill="#00f"/>
<path d="M186.9,143.2 h5.6 l-2.8,4.6 z" fill="#00f"/>
<path d="M192.2,143.4 h5.6 l-2.8,4.6 z" fill="#00f"/>
<path d="M200.1,143.8 h5.6 l-2.8,4.6 z" fill="#00f"/>
<path d="M209.3,144.6 h5.6 l-2.8,4.6 z" fill="#00f"/>
<path d="M217.3,145.2 h5.6 l-2.8,4.6 z" fill="#00f"/>
<path d="M224,145.2 h5.6 l-2.8,4.6 z" fill="#00f"/>
<path d="M232.5,145.4 h5.6 l-2.8,4.6 z" fill="#00f"/>
<path d="M241.8,145.4 h5.6 l-2.8,4.6 z" fill="#00f"/>
<path d="M253.1,145.8 h5.6 l-2.8,4.6 z" fill="#00f"/>
<path d="M264.8,145.6 h5.6 l-2.8,4.6 z" fill="#00f"/>
<path d="M274.5,144.8 h5.6 l-2.8,4.6 z" fill="#00f"/>
<line x1="89.94" y1="185.7" x2="100.39" y2="185.7" stroke="#f00" stroke-width="1"/>
<line x1="100.39" y1="185.7" x2="108.92" y2="185.7" stroke="#f00" stroke-width="1"/>
<line x1="108.92" y1="191.9" x2="122.39" y2="191.9" stroke="#f00" stroke-width="1"/>
<line x1="122.39" y1="192.3" x2="132.83" y2="192.3" stroke="#f00" stroke-width="1"/>
<line x1="132.83" y1="192.3" x2="141.37" y2="192.3" stroke="#f00" stroke-width="1"/>
<line x1="141.37" y1="194.5" x2="154.83" y2="194.5" stroke="#f00" stroke-width="1"/>
<line x1="154.83" y1="195.5" x2="165.28" y2="195.5" stroke="#f00" stroke-width="1"/>
<line x1="165.28" y1="197.1" x2="173.81" y2="197.1" stroke="#f00" stroke-width="1"/>
<line x1="173.81" y1="198.5" x2="181.03" y2="198.5" stroke="#f00" stroke-width="1"/>
<line x1="181.03" y1="198.5" x2="187.28" y2="198.5" stroke="#f00" stroke-width="1"/>
<line x1="187.28" y1="196.7" x2="192.79" y2="196.7" stroke="#f00" stroke-width="1"/>
<line x1="192.79" y1="196.3" x2="197.72" y2="196.3" stroke="#f00" stroke-width="1"/>
<line x1="197.72" y1="197.1" x2="208.17" y2="197.1" stroke="#f00" stroke-width="1"/>
<line x1="208.17" y1="198.5" x2="216.7" y2="198.5" stroke="#f00" stroke-width="1"/>
<line x1="216.7" y1="198.5" x2="223.92" y2="198.5" stroke="#f00" stroke-width="1"/>
<line x1="223.92" y1="198.5" x2="230.17" y2="198.5" stroke="#f00" stroke-width="1"/>
<line x1="230.17" y1="196.9" x2="240.61" y2="196.9" stroke="#f00" stroke-width="1"/>
<line x1="240.61" y1="196.5" x2="249.15" y2="196.5" stroke="#f00" stroke-width="1"/>
<line x1="249.15" y1="197.1" x2="262.61" y2="197.1" stroke="#f00" stroke-width="1"/>
<line x1="262.61" y1="196.3" x2="273.06" y2="196.3" stroke="#f00" stroke-width="1"/>
<line x1="273.06" y1="195.5" x2="281.59" y2="195.5" stroke="#f00" stroke-width="1"/>
<rect x="92.9" y="183.3" width="4.8" height="4.8" fill="#f00"/>
<rect x="102.2" y="183.3" width="4.8" height="4.8" fill="#f00"/>
<rect x="113.5" y="189.5" width="4.8" height="4.8" fill="#f00"/>
<rect x="125.1" y="189.9" width="4.8" height="4.8" fill="#f00"/>
<rect x="134.7" y="189.9" width="4.8" height="4.8" fill="#f00"/>
<rect x="146" y="192.1" width="4.8" height="4.8" fill="#f00"/>
<rect x="157.6" y="193.1" width="4.8" height="4.8" fill="#f00"/>
<rect x="167.2" y="194.7" width="4.8" height="4.8" fill="#f00"/>
<rect x="175" y="196.1" width="4.8" height="4.8" fill="#f00"/>
<rect x="181.5" y="196.1" width="4.8" height="4.8" fill="#f00"/>
<rect x="187.3" y="194.3" width="4.8" height="4.8" fill="#f00"/>
<rect x="192.6" y="193.9" width="4.8" height="4.8" fill="#f00"/>
<rect x="200.5" y="194.7" width="4.8" height="4.8" fill="#f00"/>
<rect x="209.7" y="196.1" width="4.8" height="4.8" fill="#f00"/>
<rect x="217.7" y="196.1" width="4.8" height="4.8" fill="#f00"/>
<rect x="224.4" y="196.1" width="4.8" height="4.8" fill="#f00"/>
<rect x="232.9" y="194.5" width="4.8" height="4.8" fill="#f00"/>
<rect x="242.2" y="194.1" width="4.8" height="4.8" fill="#f00"/>
<rect x="253.5" y="194.7" width="4.8" height="4.8" fill="#f00"/>
<rect x="265.2" y="193.9" width="4.8" height="4.8" fill="#f00"/>
<rect x="274.9" y="193.1" width="4.8" height="4.8" fill="#f00"/>
<line x1="89.94" y1="221.5" x2="100.39" y2="221.5" stroke="#00f" stroke-width="1"/>
<line x1="100.39" y1="218.1" x2="108.92" y2="218.1" stroke="#00f" stroke-width="1"/>
<line x1="108.92" y1="226.1" x2="122.39" y2="226.1" stroke="#00f" stroke-width="1"/>
<line x1="122.39" y1="232.9" x2="132.83" y2="232.9" stroke="#00f" stroke-width="1"/>
<line x1="132.83" y1="230.1" x2="141.37" y2="230.1" stroke="#00f" stroke-width="1"/>
<line x1="141.37" y1="230.9" x2="154.83" y2="230.9" stroke="#00f" stroke-width="1"/>
<line x1="154.83" y1="226.3" x2="165.28" y2="226.3" stroke="#00f" stroke-width="1"/>
<line x1="165.28" y1="227.1" x2="173.81" y2="227.1" stroke="#00f" stroke-width="1"/>
<line x1="173.81" y1="225.5" x2="181.03" y2="225.5" stroke="#00f" stroke-width="1"/>
<line x1="181.03" y1="223.7" x2="187.28" y2="223.7" stroke="#00f" stroke-width="1"/>
<line x1="187.28" y1="220.1" x2="192.79" y2="220.1" stroke="#00f" stroke-width="1"/>
<line x1="192.79" y1="217.5" x2="197.72" y2="217.5" stroke="#00f" stroke-width="1"/>
<line x1="197.72" y1="215.9" x2="208.17" y2="215.9" stroke="#00f" stroke-width="1"/>
<line x1="208.17" y1="214.7" x2="216.7" y2="214.7" stroke="#00f" stroke-width="1"/>
<line x1="216.7" y1="213.3" x2="223.92" y2="213.3" stroke="#00f" stroke-width="1"/>
<line x1="223.92" y1="211.1" x2="230.17" y2="211.1" stroke="#00f" stroke-width="1"/>
<line x1="230.17" y1="207.7" x2="240.61" y2="207.7" stroke="#00f" stroke-width="1"/>
<line x1="240.61" y1="204.9" x2="249.15" y2="204.9" stroke="#00f" stroke-width="1"/>
<line x1="249.15" y1="203.3" x2="262.61" y2="203.3" stroke="#00f" stroke-width="1"/>
<line x1="262.61" y1="200.5" x2="273.06" y2="200.5" stroke="#00f" stroke-width="1"/>
<line x1="273.06" y1="196.9" x2="281.59" y2="196.9" stroke="#00f" stroke-width="1"/>
<path d="M92.5,219.3 h5.6 l-2.8,4.6 z" fill="#00f"/>
<path d="M101.8,215.9 h5.6 l-2.8,4.6 z" fill="#00f"/>
<path d="M113.1,223.9 h5.6 l-2.8,4.6 z" fill="#00f"/>
<path d="M124.7,230.7 h5.6 l-2.8,4.6 z" fill="#00f"/>
<path d="M134.3,227.9 h5.6 l-2.8,4.6 z" fill="#00f"/>
<path d="M145.6,228.7 h5.6 l-2.8,4.6 z" fill="#00f"/>
<path d="M157.2,224.1 h5.6 l-2.8,4.6 z" fill="#00f"/>
<path d="M166.8,224.9 h5.6 l-2.8,4.6 z" fill="#00f"/>
<path d="M174.6,223.3 h5.6 l-2.8,4.6 z" fill="#00f"/>
<path d="M181.1,221.5 h5.6 l-2.8,4.6 z" fill="#00f"/>
<path d="M186.9,217.9 h5.6 l-2.8,4.6 z" fill="#00f"/>
<path d="M192.2,215.3 h5.6 l-2.8,4.6 z" fill="#00f"/>
<path d="M200.1,213.7 h5.6 l-2.8,4.6 z" fill="#00f"/>
<path d="M209.3,212.5 h5.6 l-2.8,4.6 z" fill="#00f"/>
<path d="M217.3,211.1 h5.6 l-2.8,4.6 z" fill="#00f"/>
<path d="M224,208.9 h5.6 l-2.8,4.6 z" fill="#00f"/>
<path d="M232.5,205.5 h5.6 l-2.8,4.6 z" fill="#00f"/>
<path d="M241.8,202.7 h5.6 l-2.8,4.6 z" fill="#00f"/>
<path d="M253.1,201.1 h5.6 l-2.8,4.6 z" fill="#00f"/>
<path d="M264.8,198.3 h5.6 l-2.8,4.6 z" fill="#00f"/>
<path d="M274.5,194.7 h5.6 l-2.8,4.6 z" fill="#00f"/>
<rect x="420" y="5.5" width="247.5" height="233" fill="none" stroke="#000" stroke-width="1"/>
<line x1="420" y1="168" x2="667.5" y2="168" stroke="#000" stroke-width="1"/>
<line x1="420" y1="168.13" x2="424.3" y2="168.13" stroke="#000" stroke-width="1"/>
<line x1="667.5" y1="168.13" x2="663.2" y2="168.13" stroke="#000" stroke-width="1"/>
<line x1="420" y1="163.35" x2="424.3" y2="163.35" stroke="#000" stroke-width="1"/>
<line x1="667.5" y1="163.35" x2="663.2" y2="163.35" stroke="#000" stroke-width="1"/>
<line x1="420" y1="158.57" x2="424.3" y2="158.57" stroke="#000" stroke-width="1"/>
<line x1="667.5" y1="158.57" x2="663.2" y2="158.57" stroke="#000" stroke-width="1"/>
<line x1="420" y1="153.78" x2="424.3" y2="153.78" stroke="#000" stroke-width="1"/>
<line x1="667.5" y1="153.78" x2="663.2" y2="153.78" stroke="#000" stroke-width="1"/>
<line x1="420" y1="149" x2="428.5" y2="149" stroke="#000" stroke-width="1"/>
<line x1="667.5" y1="149" x2="659" y2="149" stroke="#000" stroke-width="1"/>
<line x1="420" y1="144.22" x2="424.3" y2="144.22" stroke="#000" stroke-width="1"/>
<line x1="667.5" y1="144.22" x2="663.2" y2="144.22" stroke="#000" stroke-width="1"/>
<line x1="420" y1="139.43" x2="424.3" y2="139.43" stroke="#000" stroke-width="1"/>
<line x1="667.5" y1="139.43" x2="663.2" y2="139.43" stroke="#000" stroke-width="1"/>
<line x1="420" y1="134.65" x2="424.3" y2="134.65" stroke="#000" stroke-width="1"/>
<line x1="667.5" y1="134.65" x2="663.2" y2="134.65" stroke="#000" stroke-width="1"/>
<line x1="420" y1="129.87" x2="424.3" y2="129.87" stroke="#000" stroke-width="1"/>
<line x1="667.5" y1="129.87" x2="663.2" y2="129.87" stroke="#000" stroke-width="1"/>
<line x1="420" y1="125.08" x2="428.5" y2="125.08" stroke="#000" stroke-width="1"/>
<line x1="667.5" y1="125.08" x2="659" y2="125.08" stroke="#000" stroke-width="1"/>
<line x1="420" y1="120.3" x2="424.3" y2="120.3" stroke="#000" stroke-width="1"/>
<line x1="667.5" y1="120.3" x2="663.2" y2="120.3" stroke="#000" stroke-width="1"/>
<line x1="420" y1="115.52" x2="424.3" y2="115.52" stroke="#000" stroke-width="1"/>
<line x1="667.5" y1="115.52" x2="663.2" y2="115.52" stroke="#000" stroke-width="1"/>
<line x1="420" y1="110.73" x2="424.3" y2="110.73" stroke="#000" stroke-width="1"/>
<line x1="667.5" y1="110.73" x2="663.2" y2="110.73" stroke="#000" stroke-width="1"/>
<line x1="420" y1="105.95" x2="424.3" y2="105.95" stroke="#000" stroke-width="1"/>
<line x1="667.5" y1="105.95" x2="663.2" y2="105.95" stroke="#000" stroke-width="1"/>
<line x1="420" y1="101.17" x2="428.5" y2="101.17" stroke="#000" stroke-width="1"/>
<line x1="667.5" y1="101.17" x2="659" y2="101.17" stroke="#000" stroke-width="1"/>
<line x1="420" y1="96.38" x2="424.3" y2="96.38" stroke="#000" stroke-width="1"/>
<line x1="667.5" y1="96.38" x2="663.2" y2="96.38" stroke="#000" stroke-width="1"/>
<line x1="420" y1="91.6" x2="424.3" y2="91.6" stroke="#000" stroke-width="1"/>
<line x1="667.5" y1="91.6" x2="663.2" y2="91.6" stroke="#000" stroke-width="1"/>
<line x1="420" y1="86.82" x2="424.3" y2="86.82" stroke="#000" stroke-width="1"/>
<line x1="667.5" y1="86.82" x2="663.2" y2="86.82" stroke="#000" stroke-width="1"/>
<line x1="420" y1="82.03" x2="424.3" y2="82.03" stroke="#000" stroke-width="1"/>
<line x1="667.5" y1="82.03" x2="663.2" y2="82.03" stroke="#000" stroke-width="1"/>
<line x1="420" y1="77.25" x2="428.5" y2="77.25" stroke="#000" stroke-width="1"/>
<line x1="667.5" y1="77.25" x2="659" y2="77.25" stroke="#000" stroke-width="1"/>
<line x1="420" y1="72.47" x2="424.3" y2="72.47" stroke="#000" stroke-width="1"/>
<line x1="667.5" y1="72.47" x2="663.2" y2="72.47" stroke="#000" stroke-width="1"/>
<line x1="420" y1="67.68" x2="424.3" y2="67.68" stroke="#000" stroke-width="1"/>
<line x1="667.5" y1="67.68" x2="663.2" y2="67.68" stroke="#000" stroke-width="1"/>
<line x1="420" y1="62.9" x2="424.3" y2="62.9" stroke="#000" stroke-width="1"/>
<line x1="667.5" y1="62.9" x2="663.2" y2="62.9" stroke="#000" stroke-width="1"/>
<line x1="420" y1="58.12" x2="424.3" y2="58.12" stroke="#000" stroke-width="1"/>
<line x1="667.5" y1="58.12" x2="663.2" y2="58.12" stroke="#000" stroke-width="1"/>
<line x1="420" y1="53.33" x2="428.5" y2="53.33" stroke="#000" stroke-width="1"/>
<line x1="667.5" y1="53.33" x2="659" y2="53.33" stroke="#000" stroke-width="1"/>
<line x1="420" y1="48.55" x2="424.3" y2="48.55" stroke="#000" stroke-width="1"/>
<line x1="667.5" y1="48.55" x2="663.2" y2="48.55" stroke="#000" stroke-width="1"/>
<line x1="420" y1="43.77" x2="424.3" y2="43.77" stroke="#000" stroke-width="1"/>
<line x1="667.5" y1="43.77" x2="663.2" y2="43.77" stroke="#000" stroke-width="1"/>
<line x1="420" y1="38.98" x2="424.3" y2="38.98" stroke="#000" stroke-width="1"/>
<line x1="667.5" y1="38.98" x2="663.2" y2="38.98" stroke="#000" stroke-width="1"/>
<line x1="420" y1="34.2" x2="424.3" y2="34.2" stroke="#000" stroke-width="1"/>
<line x1="667.5" y1="34.2" x2="663.2" y2="34.2" stroke="#000" stroke-width="1"/>
<line x1="420" y1="29.42" x2="428.5" y2="29.42" stroke="#000" stroke-width="1"/>
<line x1="667.5" y1="29.42" x2="659" y2="29.42" stroke="#000" stroke-width="1"/>
<line x1="420" y1="24.63" x2="424.3" y2="24.63" stroke="#000" stroke-width="1"/>
<line x1="667.5" y1="24.63" x2="663.2" y2="24.63" stroke="#000" stroke-width="1"/>
<line x1="420" y1="19.85" x2="424.3" y2="19.85" stroke="#000" stroke-width="1"/>
<line x1="667.5" y1="19.85" x2="663.2" y2="19.85" stroke="#000" stroke-width="1"/>
<line x1="420" y1="15.07" x2="424.3" y2="15.07" stroke="#000" stroke-width="1"/>
<line x1="667.5" y1="15.07" x2="663.2" y2="15.07" stroke="#000" stroke-width="1"/>
<line x1="420" y1="10.28" x2="424.3" y2="10.28" stroke="#000" stroke-width="1"/>
<line x1="667.5" y1="10.28" x2="663.2" y2="10.28" stroke="#000" stroke-width="1"/>
<line x1="420" y1="5.5" x2="428.5" y2="5.5" stroke="#000" stroke-width="1"/>
<line x1="667.5" y1="5.5" x2="659" y2="5.5" stroke="#000" stroke-width="1"/>
<line x1="420" y1="173" x2="425.9" y2="173" stroke="#000" stroke-width="1"/>
<line x1="667.5" y1="173" x2="661.6" y2="173" stroke="#000" stroke-width="1"/>
<line x1="420" y1="192.5" x2="425.9" y2="192.5" stroke="#000" stroke-width="1"/>
<line x1="667.5" y1="192.5" x2="661.6" y2="192.5" stroke="#000" stroke-width="1"/>
<line x1="420" y1="212" x2="425.9" y2="212" stroke="#000" stroke-width="1"/>
<line x1="667.5" y1="212" x2="661.6" y2="212" stroke="#000" stroke-width="1"/>
<line x1="420" y1="231.5" x2="425.9" y2="231.5" stroke="#000" stroke-width="1"/>
<line x1="667.5" y1="231.5" x2="661.6" y2="231.5" stroke="#000" stroke-width="1"/>
<line x1="452.38" y1="5.5" x2="452.38" y2="7.9" stroke="#000" stroke-width="1"/>
<line x1="452.38" y1="168" x2="452.38" y2="165.6" stroke="#000" stroke-width="1"/>
<line x1="452.38" y1="168" x2="452.38" y2="169.5" stroke="#000" stroke-width="1"/>
<line x1="452.38" y1="238.5" x2="452.38" y2="237" stroke="#000" stroke-width="1"/>
<line x1="471.32" y1="5.5" x2="471.32" y2="7.9" stroke="#000" stroke-width="1"/>
<line x1="471.32" y1="168" x2="471.32" y2="165.6" stroke="#000" stroke-width="1"/>
<line x1="471.32" y1="168" x2="471.32" y2="169.5" stroke="#000" stroke-width="1"/>
<line x1="471.32" y1="238.5" x2="471.32" y2="237" stroke="#000" stroke-width="1"/>
<line x1="484.76" y1="5.5" x2="484.76" y2="7.9" stroke="#000" stroke-width="1"/>
<line x1="484.76" y1="168" x2="484.76" y2="165.6" stroke="#000" stroke-width="1"/>
<line x1="484.76" y1="168" x2="484.76" y2="169.5" stroke="#000" stroke-width="1"/>
<line x1="484.76" y1="238.5" x2="484.76" y2="237" stroke="#000" stroke-width="1"/>
<line x1="495.18" y1="5.5" x2="495.18" y2="7.9" stroke="#000" stroke-width="1"/>
<line x1="495.18" y1="168" x2="495.18" y2="165.6" stroke="#000" stroke-width="1"/>
<line x1="495.18" y1="168" x2="495.18" y2="169.5" stroke="#000" stroke-width="1"/>
<line x1="495.18" y1="238.5" x2="495.18" y2="237" stroke="#000" stroke-width="1"/>
<line x1="503.7" y1="5.5" x2="503.7" y2="7.9" stroke="#000" stroke-width="1"/>
<line x1="503.7" y1="168" x2="503.7" y2="165.6" stroke="#000" stroke-width="1"/>
<line x1="503.7" y1="168" x2="503.7" y2="169.5" stroke="#000" stroke-width="1"/>
<line x1="503.7" y1="238.5" x2="503.7" y2="237" stroke="#000" stroke-width="1"/>
<line x1="510.9" y1="5.5" x2="510.9" y2="7.9" stroke="#000" stroke-width="1"/>
<line x1="510.9" y1="168" x2="510.9" y2="165.6" stroke="#000" stroke-width="1"/>
<line x1="510.9" y1="168" x2="510.9" y2="169.5" stroke="#000" stroke-width="1"/>
<line x1="510.9" y1="238.5" x2="510.9" y2="237" stroke="#000" stroke-width="1"/>
<line x1="517.14" y1="5.5" x2="517.14" y2="7.9" stroke="#000" stroke-width="1"/>
<line x1="517.14" y1="168" x2="517.14" y2="165.6" stroke="#000" stroke-width="1"/>
<line x1="517.14" y1="168" x2="517.14" y2="169.5" stroke="#000" stroke-width="1"/>
<line x1="517.14" y1="238.5" x2="517.14" y2="237" stroke="#000" stroke-width="1"/>
<line x1="522.64" y1="5.5" x2="522.64" y2="7.9" stroke="#000" stroke-width="1"/>
<line x1="522.64" y1="168" x2="522.64" y2="165.6" stroke="#000" stroke-width="1"/>
<line x1="522.64" y1="168" x2="522.64" y2="169.5" stroke="#000" stroke-width="1"/>
<line x1="522.64" y1="238.5" x2="522.64" y2="237" stroke="#000" stroke-width="1"/>
<line x1="527.56" y1="5.5" x2="527.56" y2="9.7" stroke="#000" stroke-width="1"/>
<line x1="527.56" y1="168" x2="527.56" y2="163.8" stroke="#000" stroke-width="1"/>
<line x1="527.56" y1="168" x2="527.56" y2="170.6" stroke="#000" stroke-width="1"/>
<line x1="527.56" y1="238.5" x2="527.56" y2="235.9" stroke="#000" stroke-width="1"/>
<line x1="559.94" y1="5.5" x2="559.94" y2="7.9" stroke="#000" stroke-width="1"/>
<line x1="559.94" y1="168" x2="559.94" y2="165.6" stroke="#000" stroke-width="1"/>
<line x1="559.94" y1="168" x2="559.94" y2="169.5" stroke="#000" stroke-width="1"/>
<line x1="559.94" y1="238.5" x2="559.94" y2="237" stroke="#000" stroke-width="1"/>
<line x1="578.88" y1="5.5" x2="578.88" y2="7.9" stroke="#000" stroke-width="1"/>
<line x1="578.88" y1="168" x2="578.88" y2="165.6" stroke="#000" stroke-width="1"/>
<line x1="578.88" y1="168" x2="578.88" y2="169.5" stroke="#000" stroke-width="1"/>
<line x1="578.88" y1="238.5" x2="578.88" y2="237" stroke="#000" stroke-width="1"/>
<line x1="592.32" y1="5.5" x2="592.32" y2="7.9" stroke="#000" stroke-width="1"/>
<line x1="592.32" y1="168" x2="592.32" y2="165.6" stroke="#000" stroke-width="1"/>
<line x1="592.32" y1="168" x2="592.32" y2="169.5" stroke="#000" stroke-width="1"/>
<line x1="592.32" y1="238.5" x2="592.32" y2="237" stroke="#000" stroke-width="1"/>
<line x1="602.74" y1="5.5" x2="602.74" y2="7.9" stroke="#000" stroke-width="1"/>
<line x1="602.74" y1="168" x2="602.74" y2="165.6" stroke="#000" stroke-width="1"/>
<line x1="602.74" y1="168" x2="602.74" y2="169.5" stroke="#000" stroke-width="1"/>
<line x1="602.74" y1="238.5" x2="602.74" y2="237" stroke="#000" stroke-width="1"/>
<line x1="611.26" y1="5.5" x2="611.26" y2="7.9" stroke="#000" stroke-width="1"/>
<line x1="611.26" y1="168" x2="611.26" y2="165.6" stroke="#000" stroke-width="1"/>
<line x1="611.26" y1="168" x2="611.26" y2="169.5" stroke="#000" stroke-width="1"/>
<line x1="611.26" y1="238.5" x2="611.26" y2="237" stroke="#000" stroke-width="1"/>
<line x1="618.46" y1="5.5" x2="618.46" y2="7.9" stroke="#000" stroke-width="1"/>
<line x1="618.46" y1="168" x2="618.46" y2="165.6" stroke="#000" stroke-width="1"/>
<line x1="618.46" y1="168" x2="618.46" y2="169.5" stroke="#000" stroke-width="1"/>
<line x1="618.46" y1="238.5" x2="618.46" y2="237" stroke="#000" stroke-width="1"/>
<line x1="624.7" y1="5.5" x2="624.7" y2="7.9" stroke="#000" stroke-width="1"/>
<line x1="624.7" y1="168" x2="624.7" y2="165.6" stroke="#000" stroke-width="1"/>
<line x1="624.7" y1="168" x2="624.7" y2="169.5" stroke="#000" stroke-width="1"/>
<line x1="624.7" y1="238.5" x2="624.7" y2="237" stroke="#000" stroke-width="1"/>
<line x1="630.2" y1="5.5" x2="630.2" y2="7.9" stroke="#000" stroke-width="1"/>
<line x1="630.2" y1="168" x2="630.2" y2="165.6" stroke="#000" stroke-width="1"/>
<line x1="630.2" y1="168" x2="630.2" y2="169.5" stroke="#000" stroke-width="1"/>
<line x1="630.2" y1="238.5" x2="630.2" y2="237" stroke="#000" stroke-width="1"/>
<line x1="635.12" y1="5.5" x2="635.12" y2="9.7" stroke="#000" stroke-width="1"/>
<line x1="635.12" y1="168" x2="635.12" y2="163.8" stroke="#000" stroke-width="1"/>
<line x1="635.12" y1="168" x2="635.12" y2="170.6" stroke="#000" stroke-width="1"/>
<line x1="635.12" y1="238.5" x2="635.12" y2="235.9" stroke="#000" stroke-width="1"/>
<line x1="420" y1="149" x2="667.5" y2="149" stroke="#222" stroke-width="1" stroke-dasharray="1.5 1.95"/>
<line x1="420" y1="192.5" x2="667.5" y2="192.5" stroke="#222" stroke-width="1" stroke-dasharray="1.65 1.8"/>
<text x="418.2" y="11.4" text-anchor="end" font-size="13.6" ><tspan class="h">1</tspan>.3</text>
<path d="M404.08,11.4 L404.08,1.76 L403.33,1.76 C403.07,2.78 402.86,2.9 401.62,3.04 L400.65,3.16 L400.65,4.06 L402.94,4.06 L402.94,11.4 Z" fill="#000"/>
<text x="418.2" y="34.82" text-anchor="end" font-size="13.6" ><tspan class="h">1</tspan>.25</text>
<path d="M396.52,34.82 L396.52,25.17 L395.77,25.17 C395.51,26.19 395.29,26.32 394.05,26.45 L393.09,26.58 L393.09,27.47 L395.37,27.47 L395.37,34.82 Z" fill="#000"/>
<text x="418.2" y="58.73" text-anchor="end" font-size="13.6" ><tspan class="h">1</tspan>.2</text>
<path d="M404.08,58.73 L404.08,49.09 L403.33,49.09 C403.07,50.11 402.86,50.23 401.62,50.37 L400.65,50.49 L400.65,51.39 L402.94,51.39 L402.94,58.73 Z" fill="#000"/>
<text x="418.2" y="82.65" text-anchor="end" font-size="13.6" ><tspan class="h">1</tspan>.<tspan class="h">1</tspan>5</text>
<path d="M396.52,82.65 L396.52,73.01 L395.77,73.01 C395.51,74.03 395.29,74.15 394.05,74.29 L393.09,74.41 L393.09,75.31 L395.37,75.31 L395.37,82.65 Z" fill="#000"/>
<path d="M407.86,82.65 L407.86,73.01 L407.11,73.01 C406.85,74.03 406.63,74.15 405.4,74.29 L404.43,74.41 L404.43,75.31 L406.72,75.31 L406.72,82.65 Z" fill="#000"/>
<text x="418.2" y="106.57" text-anchor="end" font-size="13.6" ><tspan class="h">1</tspan>.<tspan class="h">1</tspan></text>
<path d="M404.08,106.57 L404.08,96.92 L403.33,96.92 C403.07,97.94 402.86,98.07 401.62,98.2 L400.65,98.33 L400.65,99.22 L402.94,99.22 L402.94,106.57 Z" fill="#000"/>
<path d="M415.42,106.57 L415.42,96.92 L414.67,96.92 C414.42,97.94 414.2,98.07 412.96,98.2 L412,98.33 L412,99.22 L414.28,99.22 L414.28,106.57 Z" fill="#000"/>
<text x="418.2" y="130.48" text-anchor="end" font-size="13.6" ><tspan class="h">1</tspan>.05</text>
<path d="M396.52,130.48 L396.52,120.84 L395.77,120.84 C395.51,121.86 395.29,121.98 394.05,122.12 L393.09,122.24 L393.09,123.14 L395.37,123.14 L395.37,130.48 Z" fill="#000"/>
<text x="418.2" y="154.4" text-anchor="end" font-size="13.6" ><tspan class="h">1</tspan></text>
<path d="M415.42,154.4 L415.42,144.76 L414.67,144.76 C414.42,145.78 414.2,145.9 412.96,146.04 L412,146.16 L412,147.06 L414.28,147.06 L414.28,154.4 Z" fill="#000"/>
<text x="418.2" y="178.4" text-anchor="end" font-size="13.6" >0.02</text>
<text x="418.2" y="197.9" text-anchor="end" font-size="13.6" >0</text>
<text x="418.2" y="217.4" text-anchor="end" font-size="13.6" >-0.02</text>
<text x="418.2" y="236.9" text-anchor="end" font-size="13.6" >-0.04</text>
<text x="452.38" y="256" text-anchor="middle" font-size="13.6" >20</text>
<text x="516.85" y="256" text-anchor="start" font-size="13.6" ><tspan class="h">1</tspan>0</text>
<path d="M521.64,256 L521.64,246.36 L520.89,246.36 C520.64,247.38 520.42,247.5 519.18,247.64 L518.21,247.76 L518.21,248.66 L520.5,248.66 L520.5,256 Z" fill="#000"/>
<text x="531.98" y="249.8" text-anchor="start" font-size="9.5" >2</text>
<text x="624.61" y="256" text-anchor="start" font-size="13.6" ><tspan class="h">1</tspan>0</text>
<path d="M629.4,256 L629.4,246.36 L628.65,246.36 C628.4,247.38 628.18,247.5 626.94,247.64 L625.97,247.76 L625.97,248.66 L628.26,248.66 L628.26,256 Z" fill="#000"/>
<text x="639.74" y="249.8" text-anchor="start" font-size="9.5" >3</text>
<text x="542.29" y="256" text-anchor="start" font-size="13.6" >2</text>
<path d="M549.89,248.3 L556.49,255.3 M556.49,248.3 L549.89,255.3" stroke="#000" stroke-width="1.05" fill="none"/>
<text x="557.29" y="256" text-anchor="start" font-size="13.6" ><tspan class="h">1</tspan>0</text>
<path d="M562.08,256 L562.08,246.36 L561.33,246.36 C561.07,247.38 560.85,247.5 559.62,247.64 L558.65,247.76 L558.65,248.66 L560.93,248.66 L560.93,256 Z" fill="#000"/>
<text x="571.04" y="249.8" text-anchor="start" font-size="9.5" >2</text>
<text x="649.85" y="256" text-anchor="start" font-size="13.6" >2</text>
<path d="M657.45,248.3 L664.05,255.3 M664.05,248.3 L657.45,255.3" stroke="#000" stroke-width="1.05" fill="none"/>
<text x="664.85" y="256" text-anchor="start" font-size="13.6" ><tspan class="h">1</tspan>0</text>
<path d="M669.64,256 L669.64,246.36 L668.89,246.36 C668.63,247.38 668.41,247.5 667.18,247.64 L666.21,247.76 L666.21,248.66 L668.49,248.66 L668.49,256 Z" fill="#000"/>
<text x="678.6" y="249.8" text-anchor="start" font-size="9.5" >3</text>
<text x="603" y="274.7" font-size="13.6"><tspan font-style="italic">p</tspan><tspan font-size="9.5" dy="-5.5">truth</tspan></text>
<text x="611.8" y="281" font-size="9.5">T</text>
<text x="667.8" y="274.7" font-size="13.6" text-anchor="end">[GeV]</text>
<text transform="translate(374.9,135.6) rotate(-90)" font-size="13.6">Response (<tspan font-style="italic">p</tspan><tspan font-size="9" dy="5.4">T</tspan><tspan font-size="9.2" dx="-5.5" dy="-11.4">reco</tspan><tspan dy="6">/</tspan><tspan font-style="italic">p</tspan><tspan font-size="9" dy="5.4">T</tspan><tspan font-size="9.2" dx="-5.5" dy="-11.4">truth</tspan><tspan dy="6">)</tspan></text>
<text transform="translate(376.9,207.3) rotate(-90)" font-size="14.2" font-style="italic">R' - R</text>
<text x="430.1" y="20.7" font-size="12.7"><tspan font-weight="bold" font-style="italic">ATLAS</tspan></text>
<text x="475.7" y="20.7" font-size="12.7">Simulation</text>
<text x="430.1" y="36.7" font-size="12.7">P<tspan font-size="9.0">YTHIA</tspan>8 Dijet</text>
<text x="430.5" y="52.8" font-size="12.0">2.<tspan class="h">1</tspan></text>
<path d="M444.73,52.8 L444.73,44.29 L444.07,44.29 C443.84,45.19 443.65,45.3 442.56,45.42 L441.71,45.53 L441.71,46.32 L443.72,46.32 L443.72,52.8 Z" fill="#000"/>
<text x="448.6" y="52.8" font-size="10.8">&lt;</text>
<text x="460.4" y="51.6" font-size="12.0">η</text>
<text x="467" y="57.6" font-size="8.2">det</text>
<text x="484.8" y="52.8" font-size="10.8">&lt;</text>
<text x="494.6" y="52.8" font-size="12.0">2.4</text>
<line x1="456.2" y1="42.3" x2="456.2" y2="53.4" stroke="#000" stroke-width="1.05"/>
<line x1="482.6" y1="42.3" x2="482.6" y2="53.4" stroke="#000" stroke-width="1.05"/>
<text x="430.1" y="69.3" font-size="12.7">anti-<tspan font-style="italic">k</tspan><tspan font-style="italic" font-size="9" dy="3.3">t</tspan><tspan dy="-3.3">, </tspan><tspan font-style="italic">R</tspan>=0.4, LQ jets</text>
<path d="M578.9,16.2 l0.9,-0.5 l1.3,5.6 l1.7,-11.5 h6.9" fill="none" stroke="#000" stroke-width="0.9"/>
<text x="583.3" y="20.8" font-size="12.7">s = 8 TeV</text>
<text x="578.7" y="40.2" font-size="12.7">EM+JES</text>
<circle cx="578.4" cy="54.1" r="2.15" fill="#000"/>
<text x="586.5" y="56.5" font-size="12.7">w/o GS</text>
<rect x="576.3" y="68.4" width="4.2" height="4.2" fill="#f00"/>
<text x="586.5" y="73.2" font-size="12.7">GS<tspan font-size="8.4" dy="3.6">calo</tspan></text>
<path d="M575.9,84 h5 l-2.5,4.3 z" fill="#00f"/>
<text x="586.5" y="89" font-size="12.7">GS</text>
<line x1="452.38" y1="98.3" x2="462.8" y2="98.3" stroke="#000" stroke-width="1"/>
<line x1="462.8" y1="108.3" x2="471.32" y2="108.3" stroke="#000" stroke-width="1"/>
<line x1="471.32" y1="116.7" x2="484.76" y2="116.7" stroke="#000" stroke-width="1"/>
<line x1="484.76" y1="121.9" x2="495.18" y2="121.9" stroke="#000" stroke-width="1"/>
<line x1="495.18" y1="125.3" x2="503.7" y2="125.3" stroke="#000" stroke-width="1"/>
<line x1="503.7" y1="129.3" x2="517.14" y2="129.3" stroke="#000" stroke-width="1"/>
<line x1="517.14" y1="132.7" x2="527.56" y2="132.7" stroke="#000" stroke-width="1"/>
<line x1="527.56" y1="136.3" x2="536.08" y2="136.3" stroke="#000" stroke-width="1"/>
<line x1="536.08" y1="137.9" x2="543.28" y2="137.9" stroke="#000" stroke-width="1"/>
<line x1="543.28" y1="139.5" x2="549.52" y2="139.5" stroke="#000" stroke-width="1"/>
<line x1="549.52" y1="140.3" x2="555.02" y2="140.3" stroke="#000" stroke-width="1"/>
<line x1="555.02" y1="141.5" x2="559.94" y2="141.5" stroke="#000" stroke-width="1"/>
<line x1="559.94" y1="142.7" x2="570.36" y2="142.7" stroke="#000" stroke-width="1"/>
<line x1="570.36" y1="144.7" x2="578.88" y2="144.7" stroke="#000" stroke-width="1"/>
<line x1="578.88" y1="145.5" x2="586.08" y2="145.5" stroke="#000" stroke-width="1"/>
<line x1="586.08" y1="146.3" x2="592.32" y2="146.3" stroke="#000" stroke-width="1"/>
<line x1="592.32" y1="147.1" x2="602.74" y2="147.1" stroke="#000" stroke-width="1"/>
<line x1="602.74" y1="147.9" x2="611.26" y2="147.9" stroke="#000" stroke-width="1"/>
<line x1="611.26" y1="146.9" x2="624.7" y2="146.9" stroke="#000" stroke-width="1"/>
<circle cx="457.8" cy="98.3" r="2.5" fill="#000"/>
<circle cx="467.1" cy="108.3" r="2.5" fill="#000"/>
<circle cx="478.4" cy="116.7" r="2.5" fill="#000"/>
<circle cx="490" cy="121.9" r="2.5" fill="#000"/>
<circle cx="499.6" cy="125.3" r="2.5" fill="#000"/>
<circle cx="510.9" cy="129.3" r="2.5" fill="#000"/>
<circle cx="522.5" cy="132.7" r="2.5" fill="#000"/>
<circle cx="532.1" cy="136.3" r="2.5" fill="#000"/>
<circle cx="539.9" cy="137.9" r="2.5" fill="#000"/>
<circle cx="546.4" cy="139.5" r="2.5" fill="#000"/>
<circle cx="552.2" cy="140.3" r="2.5" fill="#000"/>
<circle cx="557.5" cy="141.5" r="2.5" fill="#000"/>
<circle cx="565.4" cy="142.7" r="2.5" fill="#000"/>
<circle cx="574.6" cy="144.7" r="2.5" fill="#000"/>
<circle cx="582.6" cy="145.5" r="2.5" fill="#000"/>
<circle cx="589.3" cy="146.3" r="2.5" fill="#000"/>
<circle cx="597.8" cy="147.1" r="2.5" fill="#000"/>
<circle cx="607.1" cy="147.9" r="2.5" fill="#000"/>
<circle cx="618.4" cy="146.9" r="2.5" fill="#000"/>
<line x1="452.38" y1="100.3" x2="462.8" y2="100.3" stroke="#f00" stroke-width="1"/>
<line x1="462.8" y1="108.3" x2="471.32" y2="108.3" stroke="#f00" stroke-width="1"/>
<line x1="471.32" y1="117.3" x2="484.76" y2="117.3" stroke="#f00" stroke-width="1"/>
<line x1="484.76" y1="122.3" x2="495.18" y2="122.3" stroke="#f00" stroke-width="1"/>
<line x1="495.18" y1="126.5" x2="503.7" y2="126.5" stroke="#f00" stroke-width="1"/>
<line x1="503.7" y1="130.7" x2="517.14" y2="130.7" stroke="#f00" stroke-width="1"/>
<line x1="517.14" y1="134.7" x2="527.56" y2="134.7" stroke="#f00" stroke-width="1"/>
<line x1="527.56" y1="137.5" x2="536.08" y2="137.5" stroke="#f00" stroke-width="1"/>
<line x1="536.08" y1="139.3" x2="543.28" y2="139.3" stroke="#f00" stroke-width="1"/>
<line x1="543.28" y1="140.3" x2="549.52" y2="140.3" stroke="#f00" stroke-width="1"/>
<line x1="549.52" y1="141.1" x2="555.02" y2="141.1" stroke="#f00" stroke-width="1"/>
<line x1="555.02" y1="142.3" x2="559.94" y2="142.3" stroke="#f00" stroke-width="1"/>
<line x1="559.94" y1="143.7" x2="570.36" y2="143.7" stroke="#f00" stroke-width="1"/>
<line x1="570.36" y1="145.1" x2="578.88" y2="145.1" stroke="#f00" stroke-width="1"/>
<line x1="578.88" y1="145.9" x2="586.08" y2="145.9" stroke="#f00" stroke-width="1"/>
<line x1="586.08" y1="146.5" x2="592.32" y2="146.5" stroke="#f00" stroke-width="1"/>
<line x1="592.32" y1="147.1" x2="602.74" y2="147.1" stroke="#f00" stroke-width="1"/>
<line x1="602.74" y1="147.9" x2="611.26" y2="147.9" stroke="#f00" stroke-width="1"/>
<line x1="611.26" y1="150.7" x2="624.7" y2="150.7" stroke="#f00" stroke-width="1"/>
<rect x="455.4" y="97.9" width="4.8" height="4.8" fill="#f00"/>
<rect x="464.7" y="105.9" width="4.8" height="4.8" fill="#f00"/>
<rect x="476" y="114.9" width="4.8" height="4.8" fill="#f00"/>
<rect x="487.6" y="119.9" width="4.8" height="4.8" fill="#f00"/>
<rect x="497.2" y="124.1" width="4.8" height="4.8" fill="#f00"/>
<rect x="508.5" y="128.3" width="4.8" height="4.8" fill="#f00"/>
<rect x="520.1" y="132.3" width="4.8" height="4.8" fill="#f00"/>
<rect x="529.7" y="135.1" width="4.8" height="4.8" fill="#f00"/>
<rect x="537.5" y="136.9" width="4.8" height="4.8" fill="#f00"/>
<rect x="544" y="137.9" width="4.8" height="4.8" fill="#f00"/>
<rect x="549.8" y="138.7" width="4.8" height="4.8" fill="#f00"/>
<rect x="555.1" y="139.9" width="4.8" height="4.8" fill="#f00"/>
<rect x="563" y="141.3" width="4.8" height="4.8" fill="#f00"/>
<rect x="572.2" y="142.7" width="4.8" height="4.8" fill="#f00"/>
<rect x="580.2" y="143.5" width="4.8" height="4.8" fill="#f00"/>
<rect x="586.9" y="144.1" width="4.8" height="4.8" fill="#f00"/>
<rect x="595.4" y="144.7" width="4.8" height="4.8" fill="#f00"/>
<rect x="604.7" y="145.5" width="4.8" height="4.8" fill="#f00"/>
<rect x="616" y="148.3" width="4.8" height="4.8" fill="#f00"/>
<line x1="452.38" y1="109.6" x2="462.8" y2="109.6" stroke="#00f" stroke-width="1"/>
<line x1="462.8" y1="119.2" x2="471.32" y2="119.2" stroke="#00f" stroke-width="1"/>
<line x1="471.32" y1="126.6" x2="484.76" y2="126.6" stroke="#00f" stroke-width="1"/>
<line x1="484.76" y1="132.6" x2="495.18" y2="132.6" stroke="#00f" stroke-width="1"/>
<line x1="495.18" y1="136.2" x2="503.7" y2="136.2" stroke="#00f" stroke-width="1"/>
<line x1="503.7" y1="139.6" x2="517.14" y2="139.6" stroke="#00f" stroke-width="1"/>
<line x1="517.14" y1="142" x2="527.56" y2="142" stroke="#00f" stroke-width="1"/>
<line x1="527.56" y1="144" x2="536.08" y2="144" stroke="#00f" stroke-width="1"/>
<line x1="536.08" y1="145.2" x2="543.28" y2="145.2" stroke="#00f" stroke-width="1"/>
<line x1="543.28" y1="145.8" x2="549.52" y2="145.8" stroke="#00f" stroke-width="1"/>
<line x1="549.52" y1="146.2" x2="555.02" y2="146.2" stroke="#00f" stroke-width="1"/>
<line x1="555.02" y1="146.6" x2="559.94" y2="146.6" stroke="#00f" stroke-width="1"/>
<line x1="559.94" y1="147.2" x2="570.36" y2="147.2" stroke="#00f" stroke-width="1"/>
<line x1="570.36" y1="147.6" x2="578.88" y2="147.6" stroke="#00f" stroke-width="1"/>
<line x1="578.88" y1="148.2" x2="586.08" y2="148.2" stroke="#00f" stroke-width="1"/>
<line x1="586.08" y1="148.2" x2="592.32" y2="148.2" stroke="#00f" stroke-width="1"/>
<line x1="592.32" y1="148.6" x2="602.74" y2="148.6" stroke="#00f" stroke-width="1"/>
<line x1="602.74" y1="149" x2="611.26" y2="149" stroke="#00f" stroke-width="1"/>
<line x1="611.26" y1="148.6" x2="624.7" y2="148.6" stroke="#00f" stroke-width="1"/>
<path d="M455,107.4 h5.6 l-2.8,4.6 z" fill="#00f"/>
<path d="M464.3,117 h5.6 l-2.8,4.6 z" fill="#00f"/>
<path d="M475.6,124.4 h5.6 l-2.8,4.6 z" fill="#00f"/>
<path d="M487.2,130.4 h5.6 l-2.8,4.6 z" fill="#00f"/>
<path d="M496.8,134 h5.6 l-2.8,4.6 z" fill="#00f"/>
<path d="M508.1,137.4 h5.6 l-2.8,4.6 z" fill="#00f"/>
<path d="M519.7,139.8 h5.6 l-2.8,4.6 z" fill="#00f"/>
<path d="M529.3,141.8 h5.6 l-2.8,4.6 z" fill="#00f"/>
<path d="M537.1,143 h5.6 l-2.8,4.6 z" fill="#00f"/>
<path d="M543.6,143.6 h5.6 l-2.8,4.6 z" fill="#00f"/>
<path d="M549.4,144 h5.6 l-2.8,4.6 z" fill="#00f"/>
<path d="M554.7,144.4 h5.6 l-2.8,4.6 z" fill="#00f"/>
<path d="M562.6,145 h5.6 l-2.8,4.6 z" fill="#00f"/>
<path d="M571.8,145.4 h5.6 l-2.8,4.6 z" fill="#00f"/>
<path d="M579.8,146 h5.6 l-2.8,4.6 z" fill="#00f"/>
<path d="M586.5,146 h5.6 l-2.8,4.6 z" fill="#00f"/>
<path d="M595,146.4 h5.6 l-2.8,4.6 z" fill="#00f"/>
<path d="M604.3,146.8 h5.6 l-2.8,4.6 z" fill="#00f"/>
<path d="M615.6,146.4 h5.6 l-2.8,4.6 z" fill="#00f"/>
<line x1="452.38" y1="196.7" x2="462.8" y2="196.7" stroke="#f00" stroke-width="1"/>
<line x1="462.8" y1="190.5" x2="471.32" y2="190.5" stroke="#f00" stroke-width="1"/>
<line x1="471.32" y1="194.3" x2="484.76" y2="194.3" stroke="#f00" stroke-width="1"/>
<line x1="484.76" y1="194.9" x2="495.18" y2="194.9" stroke="#f00" stroke-width="1"/>
<line x1="495.18" y1="195.7" x2="503.7" y2="195.7" stroke="#f00" stroke-width="1"/>
<line x1="503.7" y1="196.3" x2="517.14" y2="196.3" stroke="#f00" stroke-width="1"/>
<line x1="517.14" y1="196.3" x2="527.56" y2="196.3" stroke="#f00" stroke-width="1"/>
<line x1="527.56" y1="195.7" x2="536.08" y2="195.7" stroke="#f00" stroke-width="1"/>
<line x1="536.08" y1="194.7" x2="543.28" y2="194.7" stroke="#f00" stroke-width="1"/>
<line x1="543.28" y1="194.7" x2="549.52" y2="194.7" stroke="#f00" stroke-width="1"/>
<line x1="549.52" y1="195.1" x2="555.02" y2="195.1" stroke="#f00" stroke-width="1"/>
<line x1="555.02" y1="195.7" x2="559.94" y2="195.7" stroke="#f00" stroke-width="1"/>
<line x1="559.94" y1="195.7" x2="570.36" y2="195.7" stroke="#f00" stroke-width="1"/>
<line x1="570.36" y1="193.1" x2="578.88" y2="193.1" stroke="#f00" stroke-width="1"/>
<line x1="578.88" y1="192.1" x2="586.08" y2="192.1" stroke="#f00" stroke-width="1"/>
<line x1="586.08" y1="191.9" x2="592.32" y2="191.9" stroke="#f00" stroke-width="1"/>
<line x1="592.32" y1="191.9" x2="602.74" y2="191.9" stroke="#f00" stroke-width="1"/>
<line x1="602.74" y1="191.9" x2="611.26" y2="191.9" stroke="#f00" stroke-width="1"/>
<line x1="611.26" y1="199.9" x2="624.7" y2="199.9" stroke="#f00" stroke-width="1"/>
<rect x="455.4" y="194.3" width="4.8" height="4.8" fill="#f00"/>
<rect x="464.7" y="188.1" width="4.8" height="4.8" fill="#f00"/>
<rect x="476" y="191.9" width="4.8" height="4.8" fill="#f00"/>
<rect x="487.6" y="192.5" width="4.8" height="4.8" fill="#f00"/>
<rect x="497.2" y="193.3" width="4.8" height="4.8" fill="#f00"/>
<rect x="508.5" y="193.9" width="4.8" height="4.8" fill="#f00"/>
<rect x="520.1" y="193.9" width="4.8" height="4.8" fill="#f00"/>
<rect x="529.7" y="193.3" width="4.8" height="4.8" fill="#f00"/>
<rect x="537.5" y="192.3" width="4.8" height="4.8" fill="#f00"/>
<rect x="544" y="192.3" width="4.8" height="4.8" fill="#f00"/>
<rect x="549.8" y="192.7" width="4.8" height="4.8" fill="#f00"/>
<rect x="555.1" y="193.3" width="4.8" height="4.8" fill="#f00"/>
<rect x="563" y="193.3" width="4.8" height="4.8" fill="#f00"/>
<rect x="572.2" y="190.7" width="4.8" height="4.8" fill="#f00"/>
<rect x="580.2" y="189.7" width="4.8" height="4.8" fill="#f00"/>
<rect x="586.9" y="189.5" width="4.8" height="4.8" fill="#f00"/>
<rect x="595.4" y="189.5" width="4.8" height="4.8" fill="#f00"/>
<rect x="604.7" y="189.5" width="4.8" height="4.8" fill="#f00"/>
<rect x="616" y="197.5" width="4.8" height="4.8" fill="#f00"/>
<line x1="452.38" y1="215.5" x2="462.8" y2="215.5" stroke="#00f" stroke-width="1"/>
<line x1="462.8" y1="213.1" x2="471.32" y2="213.1" stroke="#00f" stroke-width="1"/>
<line x1="471.32" y1="213.5" x2="484.76" y2="213.5" stroke="#00f" stroke-width="1"/>
<line x1="484.76" y1="215.5" x2="495.18" y2="215.5" stroke="#00f" stroke-width="1"/>
<line x1="495.18" y1="215.1" x2="503.7" y2="215.1" stroke="#00f" stroke-width="1"/>
<line x1="503.7" y1="213.3" x2="517.14" y2="213.3" stroke="#00f" stroke-width="1"/>
<line x1="517.14" y1="211.5" x2="527.56" y2="211.5" stroke="#00f" stroke-width="1"/>
<line x1="527.56" y1="207.9" x2="536.08" y2="207.9" stroke="#00f" stroke-width="1"/>
<line x1="536.08" y1="207.1" x2="543.28" y2="207.1" stroke="#00f" stroke-width="1"/>
<line x1="543.28" y1="204.9" x2="549.52" y2="204.9" stroke="#00f" stroke-width="1"/>
<line x1="549.52" y1="203.5" x2="555.02" y2="203.5" stroke="#00f" stroke-width="1"/>
<line x1="555.02" y1="202.5" x2="559.94" y2="202.5" stroke="#00f" stroke-width="1"/>
<line x1="559.94" y1="202.5" x2="570.36" y2="202.5" stroke="#00f" stroke-width="1"/>
<line x1="570.36" y1="198.7" x2="578.88" y2="198.7" stroke="#00f" stroke-width="1"/>
<line x1="578.88" y1="197.1" x2="586.08" y2="197.1" stroke="#00f" stroke-width="1"/>
<line x1="586.08" y1="196.1" x2="592.32" y2="196.1" stroke="#00f" stroke-width="1"/>
<line x1="592.32" y1="194.5" x2="602.74" y2="194.5" stroke="#00f" stroke-width="1"/>
<line x1="602.74" y1="193.5" x2="611.26" y2="193.5" stroke="#00f" stroke-width="1"/>
<line x1="611.26" y1="196.1" x2="624.7" y2="196.1" stroke="#00f" stroke-width="1"/>
<path d="M455,213.3 h5.6 l-2.8,4.6 z" fill="#00f"/>
<path d="M464.3,210.9 h5.6 l-2.8,4.6 z" fill="#00f"/>
<path d="M475.6,211.3 h5.6 l-2.8,4.6 z" fill="#00f"/>
<path d="M487.2,213.3 h5.6 l-2.8,4.6 z" fill="#00f"/>
<path d="M496.8,212.9 h5.6 l-2.8,4.6 z" fill="#00f"/>
<path d="M508.1,211.1 h5.6 l-2.8,4.6 z" fill="#00f"/>
<path d="M519.7,209.3 h5.6 l-2.8,4.6 z" fill="#00f"/>
<path d="M529.3,205.7 h5.6 l-2.8,4.6 z" fill="#00f"/>
<path d="M537.1,204.9 h5.6 l-2.8,4.6 z" fill="#00f"/>
<path d="M543.6,202.7 h5.6 l-2.8,4.6 z" fill="#00f"/>
<path d="M549.4,201.3 h5.6 l-2.8,4.6 z" fill="#00f"/>
<path d="M554.7,200.3 h5.6 l-2.8,4.6 z" fill="#00f"/>
<path d="M562.6,200.3 h5.6 l-2.8,4.6 z" fill="#00f"/>
<path d="M571.8,196.5 h5.6 l-2.8,4.6 z" fill="#00f"/>
<path d="M579.8,194.9 h5.6 l-2.8,4.6 z" fill="#00f"/>
<path d="M586.5,193.9 h5.6 l-2.8,4.6 z" fill="#00f"/>
<path d="M595,192.3 h5.6 l-2.8,4.6 z" fill="#00f"/>
<path d="M604.3,191.3 h5.6 l-2.8,4.6 z" fill="#00f"/>
<path d="M615.6,193.9 h5.6 l-2.8,4.6 z" fill="#00f"/>
<rect x="57.5" y="302.5" width="248" height="233" fill="none" stroke="#000" stroke-width="1"/>
<line x1="57.5" y1="464.7" x2="305.5" y2="464.7" stroke="#000" stroke-width="1"/>
<line x1="57.5" y1="464.79" x2="61.8" y2="464.79" stroke="#000" stroke-width="1"/>
<line x1="305.5" y1="464.79" x2="301.2" y2="464.79" stroke="#000" stroke-width="1"/>
<line x1="57.5" y1="460.02" x2="61.8" y2="460.02" stroke="#000" stroke-width="1"/>
<line x1="305.5" y1="460.02" x2="301.2" y2="460.02" stroke="#000" stroke-width="1"/>
<line x1="57.5" y1="455.25" x2="61.8" y2="455.25" stroke="#000" stroke-width="1"/>
<line x1="305.5" y1="455.25" x2="301.2" y2="455.25" stroke="#000" stroke-width="1"/>
<line x1="57.5" y1="450.47" x2="61.8" y2="450.47" stroke="#000" stroke-width="1"/>
<line x1="305.5" y1="450.47" x2="301.2" y2="450.47" stroke="#000" stroke-width="1"/>
<line x1="57.5" y1="445.7" x2="66" y2="445.7" stroke="#000" stroke-width="1"/>
<line x1="305.5" y1="445.7" x2="297" y2="445.7" stroke="#000" stroke-width="1"/>
<line x1="57.5" y1="440.93" x2="61.8" y2="440.93" stroke="#000" stroke-width="1"/>
<line x1="305.5" y1="440.93" x2="301.2" y2="440.93" stroke="#000" stroke-width="1"/>
<line x1="57.5" y1="436.15" x2="61.8" y2="436.15" stroke="#000" stroke-width="1"/>
<line x1="305.5" y1="436.15" x2="301.2" y2="436.15" stroke="#000" stroke-width="1"/>
<line x1="57.5" y1="431.38" x2="61.8" y2="431.38" stroke="#000" stroke-width="1"/>
<line x1="305.5" y1="431.38" x2="301.2" y2="431.38" stroke="#000" stroke-width="1"/>
<line x1="57.5" y1="426.61" x2="61.8" y2="426.61" stroke="#000" stroke-width="1"/>
<line x1="305.5" y1="426.61" x2="301.2" y2="426.61" stroke="#000" stroke-width="1"/>
<line x1="57.5" y1="421.83" x2="66" y2="421.83" stroke="#000" stroke-width="1"/>
<line x1="305.5" y1="421.83" x2="297" y2="421.83" stroke="#000" stroke-width="1"/>
<line x1="57.5" y1="417.06" x2="61.8" y2="417.06" stroke="#000" stroke-width="1"/>
<line x1="305.5" y1="417.06" x2="301.2" y2="417.06" stroke="#000" stroke-width="1"/>
<line x1="57.5" y1="412.29" x2="61.8" y2="412.29" stroke="#000" stroke-width="1"/>
<line x1="305.5" y1="412.29" x2="301.2" y2="412.29" stroke="#000" stroke-width="1"/>
<line x1="57.5" y1="407.51" x2="61.8" y2="407.51" stroke="#000" stroke-width="1"/>
<line x1="305.5" y1="407.51" x2="301.2" y2="407.51" stroke="#000" stroke-width="1"/>
<line x1="57.5" y1="402.74" x2="61.8" y2="402.74" stroke="#000" stroke-width="1"/>
<line x1="305.5" y1="402.74" x2="301.2" y2="402.74" stroke="#000" stroke-width="1"/>
<line x1="57.5" y1="397.97" x2="66" y2="397.97" stroke="#000" stroke-width="1"/>
<line x1="305.5" y1="397.97" x2="297" y2="397.97" stroke="#000" stroke-width="1"/>
<line x1="57.5" y1="393.19" x2="61.8" y2="393.19" stroke="#000" stroke-width="1"/>
<line x1="305.5" y1="393.19" x2="301.2" y2="393.19" stroke="#000" stroke-width="1"/>
<line x1="57.5" y1="388.42" x2="61.8" y2="388.42" stroke="#000" stroke-width="1"/>
<line x1="305.5" y1="388.42" x2="301.2" y2="388.42" stroke="#000" stroke-width="1"/>
<line x1="57.5" y1="383.65" x2="61.8" y2="383.65" stroke="#000" stroke-width="1"/>
<line x1="305.5" y1="383.65" x2="301.2" y2="383.65" stroke="#000" stroke-width="1"/>
<line x1="57.5" y1="378.87" x2="61.8" y2="378.87" stroke="#000" stroke-width="1"/>
<line x1="305.5" y1="378.87" x2="301.2" y2="378.87" stroke="#000" stroke-width="1"/>
<line x1="57.5" y1="374.1" x2="66" y2="374.1" stroke="#000" stroke-width="1"/>
<line x1="305.5" y1="374.1" x2="297" y2="374.1" stroke="#000" stroke-width="1"/>
<line x1="57.5" y1="369.33" x2="61.8" y2="369.33" stroke="#000" stroke-width="1"/>
<line x1="305.5" y1="369.33" x2="301.2" y2="369.33" stroke="#000" stroke-width="1"/>
<line x1="57.5" y1="364.55" x2="61.8" y2="364.55" stroke="#000" stroke-width="1"/>
<line x1="305.5" y1="364.55" x2="301.2" y2="364.55" stroke="#000" stroke-width="1"/>
<line x1="57.5" y1="359.78" x2="61.8" y2="359.78" stroke="#000" stroke-width="1"/>
<line x1="305.5" y1="359.78" x2="301.2" y2="359.78" stroke="#000" stroke-width="1"/>
<line x1="57.5" y1="355.01" x2="61.8" y2="355.01" stroke="#000" stroke-width="1"/>
<line x1="305.5" y1="355.01" x2="301.2" y2="355.01" stroke="#000" stroke-width="1"/>
<line x1="57.5" y1="350.23" x2="66" y2="350.23" stroke="#000" stroke-width="1"/>
<line x1="305.5" y1="350.23" x2="297" y2="350.23" stroke="#000" stroke-width="1"/>
<line x1="57.5" y1="345.46" x2="61.8" y2="345.46" stroke="#000" stroke-width="1"/>
<line x1="305.5" y1="345.46" x2="301.2" y2="345.46" stroke="#000" stroke-width="1"/>
<line x1="57.5" y1="340.69" x2="61.8" y2="340.69" stroke="#000" stroke-width="1"/>
<line x1="305.5" y1="340.69" x2="301.2" y2="340.69" stroke="#000" stroke-width="1"/>
<line x1="57.5" y1="335.91" x2="61.8" y2="335.91" stroke="#000" stroke-width="1"/>
<line x1="305.5" y1="335.91" x2="301.2" y2="335.91" stroke="#000" stroke-width="1"/>
<line x1="57.5" y1="331.14" x2="61.8" y2="331.14" stroke="#000" stroke-width="1"/>
<line x1="305.5" y1="331.14" x2="301.2" y2="331.14" stroke="#000" stroke-width="1"/>
<line x1="57.5" y1="326.37" x2="66" y2="326.37" stroke="#000" stroke-width="1"/>
<line x1="305.5" y1="326.37" x2="297" y2="326.37" stroke="#000" stroke-width="1"/>
<line x1="57.5" y1="321.59" x2="61.8" y2="321.59" stroke="#000" stroke-width="1"/>
<line x1="305.5" y1="321.59" x2="301.2" y2="321.59" stroke="#000" stroke-width="1"/>
<line x1="57.5" y1="316.82" x2="61.8" y2="316.82" stroke="#000" stroke-width="1"/>
<line x1="305.5" y1="316.82" x2="301.2" y2="316.82" stroke="#000" stroke-width="1"/>
<line x1="57.5" y1="312.05" x2="61.8" y2="312.05" stroke="#000" stroke-width="1"/>
<line x1="305.5" y1="312.05" x2="301.2" y2="312.05" stroke="#000" stroke-width="1"/>
<line x1="57.5" y1="307.27" x2="61.8" y2="307.27" stroke="#000" stroke-width="1"/>
<line x1="305.5" y1="307.27" x2="301.2" y2="307.27" stroke="#000" stroke-width="1"/>
<line x1="57.5" y1="302.5" x2="66" y2="302.5" stroke="#000" stroke-width="1"/>
<line x1="305.5" y1="302.5" x2="297" y2="302.5" stroke="#000" stroke-width="1"/>
<line x1="57.5" y1="469.9" x2="63.4" y2="469.9" stroke="#000" stroke-width="1"/>
<line x1="305.5" y1="469.9" x2="299.6" y2="469.9" stroke="#000" stroke-width="1"/>
<line x1="57.5" y1="489.4" x2="63.4" y2="489.4" stroke="#000" stroke-width="1"/>
<line x1="305.5" y1="489.4" x2="299.6" y2="489.4" stroke="#000" stroke-width="1"/>
<line x1="57.5" y1="508.9" x2="63.4" y2="508.9" stroke="#000" stroke-width="1"/>
<line x1="305.5" y1="508.9" x2="299.6" y2="508.9" stroke="#000" stroke-width="1"/>
<line x1="57.5" y1="528.4" x2="63.4" y2="528.4" stroke="#000" stroke-width="1"/>
<line x1="305.5" y1="528.4" x2="299.6" y2="528.4" stroke="#000" stroke-width="1"/>
<line x1="89.94" y1="302.5" x2="89.94" y2="304.9" stroke="#000" stroke-width="1"/>
<line x1="89.94" y1="464.7" x2="89.94" y2="462.3" stroke="#000" stroke-width="1"/>
<line x1="89.94" y1="464.7" x2="89.94" y2="466.2" stroke="#000" stroke-width="1"/>
<line x1="89.94" y1="535.5" x2="89.94" y2="534" stroke="#000" stroke-width="1"/>
<line x1="108.92" y1="302.5" x2="108.92" y2="304.9" stroke="#000" stroke-width="1"/>
<line x1="108.92" y1="464.7" x2="108.92" y2="462.3" stroke="#000" stroke-width="1"/>
<line x1="108.92" y1="464.7" x2="108.92" y2="466.2" stroke="#000" stroke-width="1"/>
<line x1="108.92" y1="535.5" x2="108.92" y2="534" stroke="#000" stroke-width="1"/>
<line x1="122.39" y1="302.5" x2="122.39" y2="304.9" stroke="#000" stroke-width="1"/>
<line x1="122.39" y1="464.7" x2="122.39" y2="462.3" stroke="#000" stroke-width="1"/>
<line x1="122.39" y1="464.7" x2="122.39" y2="466.2" stroke="#000" stroke-width="1"/>
<line x1="122.39" y1="535.5" x2="122.39" y2="534" stroke="#000" stroke-width="1"/>
<line x1="132.83" y1="302.5" x2="132.83" y2="304.9" stroke="#000" stroke-width="1"/>
<line x1="132.83" y1="464.7" x2="132.83" y2="462.3" stroke="#000" stroke-width="1"/>
<line x1="132.83" y1="464.7" x2="132.83" y2="466.2" stroke="#000" stroke-width="1"/>
<line x1="132.83" y1="535.5" x2="132.83" y2="534" stroke="#000" stroke-width="1"/>
<line x1="141.37" y1="302.5" x2="141.37" y2="304.9" stroke="#000" stroke-width="1"/>
<line x1="141.37" y1="464.7" x2="141.37" y2="462.3" stroke="#000" stroke-width="1"/>
<line x1="141.37" y1="464.7" x2="141.37" y2="466.2" stroke="#000" stroke-width="1"/>
<line x1="141.37" y1="535.5" x2="141.37" y2="534" stroke="#000" stroke-width="1"/>
<line x1="148.58" y1="302.5" x2="148.58" y2="304.9" stroke="#000" stroke-width="1"/>
<line x1="148.58" y1="464.7" x2="148.58" y2="462.3" stroke="#000" stroke-width="1"/>
<line x1="148.58" y1="464.7" x2="148.58" y2="466.2" stroke="#000" stroke-width="1"/>
<line x1="148.58" y1="535.5" x2="148.58" y2="534" stroke="#000" stroke-width="1"/>
<line x1="154.83" y1="302.5" x2="154.83" y2="304.9" stroke="#000" stroke-width="1"/>
<line x1="154.83" y1="464.7" x2="154.83" y2="462.3" stroke="#000" stroke-width="1"/>
<line x1="154.83" y1="464.7" x2="154.83" y2="466.2" stroke="#000" stroke-width="1"/>
<line x1="154.83" y1="535.5" x2="154.83" y2="534" stroke="#000" stroke-width="1"/>
<line x1="160.35" y1="302.5" x2="160.35" y2="304.9" stroke="#000" stroke-width="1"/>
<line x1="160.35" y1="464.7" x2="160.35" y2="462.3" stroke="#000" stroke-width="1"/>
<line x1="160.35" y1="464.7" x2="160.35" y2="466.2" stroke="#000" stroke-width="1"/>
<line x1="160.35" y1="535.5" x2="160.35" y2="534" stroke="#000" stroke-width="1"/>
<line x1="165.28" y1="302.5" x2="165.28" y2="306.7" stroke="#000" stroke-width="1"/>
<line x1="165.28" y1="464.7" x2="165.28" y2="460.5" stroke="#000" stroke-width="1"/>
<line x1="165.28" y1="464.7" x2="165.28" y2="467.3" stroke="#000" stroke-width="1"/>
<line x1="165.28" y1="535.5" x2="165.28" y2="532.9" stroke="#000" stroke-width="1"/>
<line x1="197.72" y1="302.5" x2="197.72" y2="304.9" stroke="#000" stroke-width="1"/>
<line x1="197.72" y1="464.7" x2="197.72" y2="462.3" stroke="#000" stroke-width="1"/>
<line x1="197.72" y1="464.7" x2="197.72" y2="466.2" stroke="#000" stroke-width="1"/>
<line x1="197.72" y1="535.5" x2="197.72" y2="534" stroke="#000" stroke-width="1"/>
<line x1="216.7" y1="302.5" x2="216.7" y2="304.9" stroke="#000" stroke-width="1"/>
<line x1="216.7" y1="464.7" x2="216.7" y2="462.3" stroke="#000" stroke-width="1"/>
<line x1="216.7" y1="464.7" x2="216.7" y2="466.2" stroke="#000" stroke-width="1"/>
<line x1="216.7" y1="535.5" x2="216.7" y2="534" stroke="#000" stroke-width="1"/>
<line x1="230.17" y1="302.5" x2="230.17" y2="304.9" stroke="#000" stroke-width="1"/>
<line x1="230.17" y1="464.7" x2="230.17" y2="462.3" stroke="#000" stroke-width="1"/>
<line x1="230.17" y1="464.7" x2="230.17" y2="466.2" stroke="#000" stroke-width="1"/>
<line x1="230.17" y1="535.5" x2="230.17" y2="534" stroke="#000" stroke-width="1"/>
<line x1="240.61" y1="302.5" x2="240.61" y2="304.9" stroke="#000" stroke-width="1"/>
<line x1="240.61" y1="464.7" x2="240.61" y2="462.3" stroke="#000" stroke-width="1"/>
<line x1="240.61" y1="464.7" x2="240.61" y2="466.2" stroke="#000" stroke-width="1"/>
<line x1="240.61" y1="535.5" x2="240.61" y2="534" stroke="#000" stroke-width="1"/>
<line x1="249.15" y1="302.5" x2="249.15" y2="304.9" stroke="#000" stroke-width="1"/>
<line x1="249.15" y1="464.7" x2="249.15" y2="462.3" stroke="#000" stroke-width="1"/>
<line x1="249.15" y1="464.7" x2="249.15" y2="466.2" stroke="#000" stroke-width="1"/>
<line x1="249.15" y1="535.5" x2="249.15" y2="534" stroke="#000" stroke-width="1"/>
<line x1="256.36" y1="302.5" x2="256.36" y2="304.9" stroke="#000" stroke-width="1"/>
<line x1="256.36" y1="464.7" x2="256.36" y2="462.3" stroke="#000" stroke-width="1"/>
<line x1="256.36" y1="464.7" x2="256.36" y2="466.2" stroke="#000" stroke-width="1"/>
<line x1="256.36" y1="535.5" x2="256.36" y2="534" stroke="#000" stroke-width="1"/>
<line x1="262.61" y1="302.5" x2="262.61" y2="304.9" stroke="#000" stroke-width="1"/>
<line x1="262.61" y1="464.7" x2="262.61" y2="462.3" stroke="#000" stroke-width="1"/>
<line x1="262.61" y1="464.7" x2="262.61" y2="466.2" stroke="#000" stroke-width="1"/>
<line x1="262.61" y1="535.5" x2="262.61" y2="534" stroke="#000" stroke-width="1"/>
<line x1="268.12" y1="302.5" x2="268.12" y2="304.9" stroke="#000" stroke-width="1"/>
<line x1="268.12" y1="464.7" x2="268.12" y2="462.3" stroke="#000" stroke-width="1"/>
<line x1="268.12" y1="464.7" x2="268.12" y2="466.2" stroke="#000" stroke-width="1"/>
<line x1="268.12" y1="535.5" x2="268.12" y2="534" stroke="#000" stroke-width="1"/>
<line x1="273.06" y1="302.5" x2="273.06" y2="306.7" stroke="#000" stroke-width="1"/>
<line x1="273.06" y1="464.7" x2="273.06" y2="460.5" stroke="#000" stroke-width="1"/>
<line x1="273.06" y1="464.7" x2="273.06" y2="467.3" stroke="#000" stroke-width="1"/>
<line x1="273.06" y1="535.5" x2="273.06" y2="532.9" stroke="#000" stroke-width="1"/>
<line x1="57.5" y1="445.7" x2="305.5" y2="445.7" stroke="#222" stroke-width="1" stroke-dasharray="1.5 1.95"/>
<line x1="57.5" y1="489.4" x2="305.5" y2="489.4" stroke="#222" stroke-width="1" stroke-dasharray="1.65 1.8"/>
<text x="55.7" y="308.4" text-anchor="end" font-size="13.6" ><tspan class="h">1</tspan>.3</text>
<path d="M41.58,308.4 L41.58,298.76 L40.83,298.76 C40.57,299.78 40.36,299.9 39.12,300.04 L38.15,300.16 L38.15,301.06 L40.44,301.06 L40.44,308.4 Z" fill="#000"/>
<text x="55.7" y="331.77" text-anchor="end" font-size="13.6" ><tspan class="h">1</tspan>.25</text>
<path d="M34.02,331.77 L34.02,322.12 L33.27,322.12 C33.01,323.14 32.79,323.27 31.55,323.4 L30.59,323.53 L30.59,324.42 L32.87,324.42 L32.87,331.77 Z" fill="#000"/>
<text x="55.7" y="355.63" text-anchor="end" font-size="13.6" ><tspan class="h">1</tspan>.2</text>
<path d="M41.58,355.63 L41.58,345.99 L40.83,345.99 C40.57,347.01 40.36,347.13 39.12,347.27 L38.15,347.39 L38.15,348.29 L40.44,348.29 L40.44,355.63 Z" fill="#000"/>
<text x="55.7" y="379.5" text-anchor="end" font-size="13.6" ><tspan class="h">1</tspan>.<tspan class="h">1</tspan>5</text>
<path d="M34.02,379.5 L34.02,369.86 L33.27,369.86 C33.01,370.88 32.79,371 31.55,371.14 L30.59,371.26 L30.59,372.16 L32.87,372.16 L32.87,379.5 Z" fill="#000"/>
<path d="M45.36,379.5 L45.36,369.86 L44.61,369.86 C44.35,370.88 44.13,371 42.9,371.14 L41.93,371.26 L41.93,372.16 L44.22,372.16 L44.22,379.5 Z" fill="#000"/>
<text x="55.7" y="403.37" text-anchor="end" font-size="13.6" ><tspan class="h">1</tspan>.<tspan class="h">1</tspan></text>
<path d="M41.58,403.37 L41.58,393.72 L40.83,393.72 C40.57,394.74 40.36,394.87 39.12,395 L38.15,395.13 L38.15,396.02 L40.44,396.02 L40.44,403.37 Z" fill="#000"/>
<path d="M52.92,403.37 L52.92,393.72 L52.17,393.72 C51.92,394.74 51.7,394.87 50.46,395 L49.5,395.13 L49.5,396.02 L51.78,396.02 L51.78,403.37 Z" fill="#000"/>
<text x="55.7" y="427.23" text-anchor="end" font-size="13.6" ><tspan class="h">1</tspan>.05</text>
<path d="M34.02,427.23 L34.02,417.59 L33.27,417.59 C33.01,418.61 32.79,418.73 31.55,418.87 L30.59,418.99 L30.59,419.89 L32.87,419.89 L32.87,427.23 Z" fill="#000"/>
<text x="55.7" y="451.1" text-anchor="end" font-size="13.6" ><tspan class="h">1</tspan></text>
<path d="M52.92,451.1 L52.92,441.46 L52.17,441.46 C51.92,442.48 51.7,442.6 50.46,442.74 L49.5,442.86 L49.5,443.76 L51.78,443.76 L51.78,451.1 Z" fill="#000"/>
<text x="55.7" y="475.3" text-anchor="end" font-size="13.6" >0.02</text>
<text x="55.7" y="494.8" text-anchor="end" font-size="13.6" >0</text>
<text x="55.7" y="514.3" text-anchor="end" font-size="13.6" >-0.02</text>
<text x="55.7" y="533.8" text-anchor="end" font-size="13.6" >-0.04</text>
<text x="89.94" y="553" text-anchor="middle" font-size="13.6" >20</text>
<text x="154.57" y="553" text-anchor="start" font-size="13.6" ><tspan class="h">1</tspan>0</text>
<path d="M159.36,553 L159.36,543.36 L158.61,543.36 C158.35,544.38 158.13,544.5 156.9,544.64 L155.93,544.76 L155.93,545.66 L158.22,545.66 L158.22,553 Z" fill="#000"/>
<text x="169.7" y="546.8" text-anchor="start" font-size="9.5" >2</text>
<text x="262.55" y="553" text-anchor="start" font-size="13.6" ><tspan class="h">1</tspan>0</text>
<path d="M267.34,553 L267.34,543.36 L266.59,543.36 C266.33,544.38 266.11,544.5 264.87,544.64 L263.91,544.76 L263.91,545.66 L266.19,545.66 L266.19,553 Z" fill="#000"/>
<text x="277.68" y="546.8" text-anchor="start" font-size="9.5" >3</text>
<text x="180.07" y="553" text-anchor="start" font-size="13.6" >2</text>
<path d="M187.67,545.3 L194.27,552.3 M194.27,545.3 L187.67,552.3" stroke="#000" stroke-width="1.05" fill="none"/>
<text x="195.07" y="553" text-anchor="start" font-size="13.6" ><tspan class="h">1</tspan>0</text>
<path d="M199.86,553 L199.86,543.36 L199.11,543.36 C198.85,544.38 198.64,544.5 197.4,544.64 L196.43,544.76 L196.43,545.66 L198.72,545.66 L198.72,553 Z" fill="#000"/>
<text x="208.82" y="546.8" text-anchor="start" font-size="9.5" >2</text>
<text x="287.85" y="553" text-anchor="start" font-size="13.6" >2</text>
<path d="M295.45,545.3 L302.05,552.3 M302.05,545.3 L295.45,552.3" stroke="#000" stroke-width="1.05" fill="none"/>
<text x="302.85" y="553" text-anchor="start" font-size="13.6" ><tspan class="h">1</tspan>0</text>
<path d="M307.64,553 L307.64,543.36 L306.89,543.36 C306.63,544.38 306.41,544.5 305.18,544.64 L304.21,544.76 L304.21,545.66 L306.49,545.66 L306.49,553 Z" fill="#000"/>
<text x="316.6" y="546.8" text-anchor="start" font-size="9.5" >3</text>
<text x="240.5" y="571.7" font-size="13.6"><tspan font-style="italic">p</tspan><tspan font-size="9.5" dy="-5.5">truth</tspan></text>
<text x="249.3" y="578" font-size="9.5">T</text>
<text x="305.3" y="571.7" font-size="13.6" text-anchor="end">[GeV]</text>
<text transform="translate(12.4,432.6) rotate(-90)" font-size="13.6">Response (<tspan font-style="italic">p</tspan><tspan font-size="9" dy="5.4">T</tspan><tspan font-size="9.2" dx="-5.5" dy="-11.4">reco</tspan><tspan dy="6">/</tspan><tspan font-style="italic">p</tspan><tspan font-size="9" dy="5.4">T</tspan><tspan font-size="9.2" dx="-5.5" dy="-11.4">truth</tspan><tspan dy="6">)</tspan></text>
<text transform="translate(14.4,504.3) rotate(-90)" font-size="14.2" font-style="italic">R' - R</text>
<text x="67.6" y="317.7" font-size="12.7"><tspan font-weight="bold" font-style="italic">ATLAS</tspan></text>
<text x="113.2" y="317.7" font-size="12.7">Simulation</text>
<text x="67.6" y="333.7" font-size="12.7">P<tspan font-size="9.0">YTHIA</tspan>8 Dijet</text>
<text x="72.6" y="348.6" font-size="12.0">η</text>
<text x="79.2" y="354.6" font-size="8.2">det</text>
<text x="97.5" y="349.8" font-size="10.8">&lt;</text>
<text x="107.3" y="349.8" font-size="12.0">0.3</text>
<line x1="68.85" y1="339.3" x2="68.85" y2="350.4" stroke="#000" stroke-width="1.05"/>
<line x1="95.5" y1="339.3" x2="95.5" y2="350.4" stroke="#000" stroke-width="1.05"/>
<text x="67.6" y="366.3" font-size="12.7">anti-<tspan font-style="italic">k</tspan><tspan font-style="italic" font-size="9" dy="3.3">t</tspan><tspan dy="-3.3">, </tspan><tspan font-style="italic">R</tspan>=0.4, gluon jets</text>
<path d="M216.4,313.2 l0.9,-0.5 l1.3,5.6 l1.7,-11.5 h6.9" fill="none" stroke="#000" stroke-width="0.9"/>
<text x="220.8" y="317.8" font-size="12.7">s = 8 TeV</text>
<text x="216.2" y="337.2" font-size="12.7">EM+JES</text>
<circle cx="215.9" cy="351.1" r="2.15" fill="#000"/>
<text x="224" y="353.5" font-size="12.7">w/o GS</text>
<rect x="213.8" y="365.4" width="4.2" height="4.2" fill="#f00"/>
<text x="224" y="370.2" font-size="12.7">GS<tspan font-size="8.4" dy="3.6">calo</tspan></text>
<path d="M213.4,381 h5 l-2.5,4.3 z" fill="#00f"/>
<text x="224" y="386" font-size="12.7">GS</text>
<line x1="89.94" y1="436.3" x2="100.39" y2="436.3" stroke="#000" stroke-width="1"/>
<line x1="100.39" y1="444.3" x2="108.92" y2="444.3" stroke="#000" stroke-width="1"/>
<line x1="108.92" y1="448.5" x2="122.39" y2="448.5" stroke="#000" stroke-width="1"/>
<line x1="122.39" y1="450.9" x2="132.83" y2="450.9" stroke="#000" stroke-width="1"/>
<line x1="132.83" y1="451.5" x2="141.37" y2="451.5" stroke="#000" stroke-width="1"/>
<line x1="141.37" y1="452.1" x2="154.83" y2="452.1" stroke="#000" stroke-width="1"/>
<line x1="154.83" y1="452.3" x2="165.28" y2="452.3" stroke="#000" stroke-width="1"/>
<line x1="165.28" y1="452.3" x2="173.81" y2="452.3" stroke="#000" stroke-width="1"/>
<line x1="173.81" y1="452.3" x2="181.03" y2="452.3" stroke="#000" stroke-width="1"/>
<line x1="181.03" y1="452.7" x2="187.28" y2="452.7" stroke="#000" stroke-width="1"/>
<line x1="187.28" y1="452.1" x2="192.79" y2="452.1" stroke="#000" stroke-width="1"/>
<line x1="192.79" y1="452.1" x2="197.72" y2="452.1" stroke="#000" stroke-width="1"/>
<line x1="197.72" y1="452.1" x2="208.17" y2="452.1" stroke="#000" stroke-width="1"/>
<line x1="208.17" y1="452.7" x2="216.7" y2="452.7" stroke="#000" stroke-width="1"/>
<line x1="216.7" y1="452.7" x2="223.92" y2="452.7" stroke="#000" stroke-width="1"/>
<line x1="223.92" y1="452.3" x2="230.17" y2="452.3" stroke="#000" stroke-width="1"/>
<line x1="230.17" y1="452.3" x2="240.61" y2="452.3" stroke="#000" stroke-width="1"/>
<line x1="240.61" y1="454.7" x2="249.15" y2="454.7" stroke="#000" stroke-width="1"/>
<line x1="249.15" y1="453.3" x2="262.61" y2="453.3" stroke="#000" stroke-width="1"/>
<line x1="262.61" y1="455.1" x2="273.06" y2="455.1" stroke="#000" stroke-width="1"/>
<line x1="273.06" y1="454.9" x2="281.59" y2="454.9" stroke="#000" stroke-width="1"/>
<circle cx="95.3" cy="436.3" r="2.5" fill="#000"/>
<circle cx="104.6" cy="444.3" r="2.5" fill="#000"/>
<circle cx="115.9" cy="448.5" r="2.5" fill="#000"/>
<circle cx="127.5" cy="450.9" r="2.5" fill="#000"/>
<circle cx="137.1" cy="451.5" r="2.5" fill="#000"/>
<circle cx="148.4" cy="452.1" r="2.5" fill="#000"/>
<circle cx="160" cy="452.3" r="2.5" fill="#000"/>
<circle cx="169.6" cy="452.3" r="2.5" fill="#000"/>
<circle cx="177.4" cy="452.3" r="2.5" fill="#000"/>
<circle cx="183.9" cy="452.7" r="2.5" fill="#000"/>
<circle cx="189.7" cy="452.1" r="2.5" fill="#000"/>
<circle cx="195" cy="452.1" r="2.5" fill="#000"/>
<circle cx="202.9" cy="452.1" r="2.5" fill="#000"/>
<circle cx="212.1" cy="452.7" r="2.5" fill="#000"/>
<circle cx="220.1" cy="452.7" r="2.5" fill="#000"/>
<circle cx="226.8" cy="452.3" r="2.5" fill="#000"/>
<circle cx="235.3" cy="452.3" r="2.5" fill="#000"/>
<circle cx="244.6" cy="454.7" r="2.5" fill="#000"/>
<circle cx="255.9" cy="453.3" r="2.5" fill="#000"/>
<circle cx="267.6" cy="455.1" r="2.5" fill="#000"/>
<circle cx="277.3" cy="454.9" r="2.5" fill="#000"/>
<line x1="89.94" y1="437.3" x2="100.39" y2="437.3" stroke="#f00" stroke-width="1"/>
<line x1="100.39" y1="443.3" x2="108.92" y2="443.3" stroke="#f00" stroke-width="1"/>
<line x1="108.92" y1="448.9" x2="122.39" y2="448.9" stroke="#f00" stroke-width="1"/>
<line x1="122.39" y1="451.3" x2="132.83" y2="451.3" stroke="#f00" stroke-width="1"/>
<line x1="132.83" y1="451.9" x2="141.37" y2="451.9" stroke="#f00" stroke-width="1"/>
<line x1="141.37" y1="452.7" x2="154.83" y2="452.7" stroke="#f00" stroke-width="1"/>
<line x1="154.83" y1="452.9" x2="165.28" y2="452.9" stroke="#f00" stroke-width="1"/>
<line x1="165.28" y1="452.9" x2="173.81" y2="452.9" stroke="#f00" stroke-width="1"/>
<line x1="173.81" y1="452.9" x2="181.03" y2="452.9" stroke="#f00" stroke-width="1"/>
<line x1="181.03" y1="453.3" x2="187.28" y2="453.3" stroke="#f00" stroke-width="1"/>
<line x1="187.28" y1="452.7" x2="192.79" y2="452.7" stroke="#f00" stroke-width="1"/>
<line x1="192.79" y1="452.7" x2="197.72" y2="452.7" stroke="#f00" stroke-width="1"/>
<line x1="197.72" y1="452.7" x2="208.17" y2="452.7" stroke="#f00" stroke-width="1"/>
<line x1="208.17" y1="453.3" x2="216.7" y2="453.3" stroke="#f00" stroke-width="1"/>
<line x1="216.7" y1="453.3" x2="223.92" y2="453.3" stroke="#f00" stroke-width="1"/>
<line x1="223.92" y1="452.9" x2="230.17" y2="452.9" stroke="#f00" stroke-width="1"/>
<line x1="230.17" y1="452.9" x2="240.61" y2="452.9" stroke="#f00" stroke-width="1"/>
<line x1="240.61" y1="453.3" x2="249.15" y2="453.3" stroke="#f00" stroke-width="1"/>
<line x1="249.15" y1="453.5" x2="262.61" y2="453.5" stroke="#f00" stroke-width="1"/>
<line x1="262.61" y1="453.7" x2="273.06" y2="453.7" stroke="#f00" stroke-width="1"/>
<line x1="273.06" y1="453.3" x2="281.59" y2="453.3" stroke="#f00" stroke-width="1"/>
<rect x="92.9" y="434.9" width="4.8" height="4.8" fill="#f00"/>
<rect x="102.2" y="440.9" width="4.8" height="4.8" fill="#f00"/>
<rect x="113.5" y="446.5" width="4.8" height="4.8" fill="#f00"/>
<rect x="125.1" y="448.9" width="4.8" height="4.8" fill="#f00"/>
<rect x="134.7" y="449.5" width="4.8" height="4.8" fill="#f00"/>
<rect x="146" y="450.3" width="4.8" height="4.8" fill="#f00"/>
<rect x="157.6" y="450.5" width="4.8" height="4.8" fill="#f00"/>
<rect x="167.2" y="450.5" width="4.8" height="4.8" fill="#f00"/>
<rect x="175" y="450.5" width="4.8" height="4.8" fill="#f00"/>
<rect x="181.5" y="450.9" width="4.8" height="4.8" fill="#f00"/>
<rect x="187.3" y="450.3" width="4.8" height="4.8" fill="#f00"/>
<rect x="192.6" y="450.3" width="4.8" height="4.8" fill="#f00"/>
<rect x="200.5" y="450.3" width="4.8" height="4.8" fill="#f00"/>
<rect x="209.7" y="450.9" width="4.8" height="4.8" fill="#f00"/>
<rect x="217.7" y="450.9" width="4.8" height="4.8" fill="#f00"/>
<rect x="224.4" y="450.5" width="4.8" height="4.8" fill="#f00"/>
<rect x="232.9" y="450.5" width="4.8" height="4.8" fill="#f00"/>
<rect x="242.2" y="450.9" width="4.8" height="4.8" fill="#f00"/>
<rect x="253.5" y="451.1" width="4.8" height="4.8" fill="#f00"/>
<rect x="265.2" y="451.3" width="4.8" height="4.8" fill="#f00"/>
<rect x="274.9" y="450.9" width="4.8" height="4.8" fill="#f00"/>
<line x1="89.94" y1="438" x2="100.39" y2="438" stroke="#00f" stroke-width="1"/>
<line x1="100.39" y1="440.6" x2="108.92" y2="440.6" stroke="#00f" stroke-width="1"/>
<line x1="108.92" y1="443.8" x2="122.39" y2="443.8" stroke="#00f" stroke-width="1"/>
<line x1="122.39" y1="448" x2="132.83" y2="448" stroke="#00f" stroke-width="1"/>
<line x1="132.83" y1="448.4" x2="141.37" y2="448.4" stroke="#00f" stroke-width="1"/>
<line x1="141.37" y1="448.6" x2="154.83" y2="448.6" stroke="#00f" stroke-width="1"/>
<line x1="154.83" y1="448.6" x2="165.28" y2="448.6" stroke="#00f" stroke-width="1"/>
<line x1="165.28" y1="448.4" x2="173.81" y2="448.4" stroke="#00f" stroke-width="1"/>
<line x1="173.81" y1="448.4" x2="181.03" y2="448.4" stroke="#00f" stroke-width="1"/>
<line x1="181.03" y1="448.6" x2="187.28" y2="448.6" stroke="#00f" stroke-width="1"/>
<line x1="187.28" y1="448.2" x2="192.79" y2="448.2" stroke="#00f" stroke-width="1"/>
<line x1="192.79" y1="447.6" x2="197.72" y2="447.6" stroke="#00f" stroke-width="1"/>
<line x1="197.72" y1="447.8" x2="208.17" y2="447.8" stroke="#00f" stroke-width="1"/>
<line x1="208.17" y1="448.4" x2="216.7" y2="448.4" stroke="#00f" stroke-width="1"/>
<line x1="216.7" y1="448.2" x2="223.92" y2="448.2" stroke="#00f" stroke-width="1"/>
<line x1="223.92" y1="448" x2="230.17" y2="448" stroke="#00f" stroke-width="1"/>
<line x1="230.17" y1="447.6" x2="240.61" y2="447.6" stroke="#00f" stroke-width="1"/>
<line x1="240.61" y1="446.8" x2="249.15" y2="446.8" stroke="#00f" stroke-width="1"/>
<line x1="249.15" y1="447.6" x2="262.61" y2="447.6" stroke="#00f" stroke-width="1"/>
<line x1="262.61" y1="447.6" x2="273.06" y2="447.6" stroke="#00f" stroke-width="1"/>
<line x1="273.06" y1="446.8" x2="281.59" y2="446.8" stroke="#00f" stroke-width="1"/>
<path d="M92.5,435.8 h5.6 l-2.8,4.6 z" fill="#00f"/>
<path d="M101.8,438.4 h5.6 l-2.8,4.6 z" fill="#00f"/>
<path d="M113.1,441.6 h5.6 l-2.8,4.6 z" fill="#00f"/>
<path d="M124.7,445.8 h5.6 l-2.8,4.6 z" fill="#00f"/>
<path d="M134.3,446.2 h5.6 l-2.8,4.6 z" fill="#00f"/>
<path d="M145.6,446.4 h5.6 l-2.8,4.6 z" fill="#00f"/>
<path d="M157.2,446.4 h5.6 l-2.8,4.6 z" fill="#00f"/>
<path d="M166.8,446.2 h5.6 l-2.8,4.6 z" fill="#00f"/>
<path d="M174.6,446.2 h5.6 l-2.8,4.6 z" fill="#00f"/>
<path d="M181.1,446.4 h5.6 l-2.8,4.6 z" fill="#00f"/>
<path d="M186.9,446 h5.6 l-2.8,4.6 z" fill="#00f"/>
<path d="M192.2,445.4 h5.6 l-2.8,4.6 z" fill="#00f"/>
<path d="M200.1,445.6 h5.6 l-2.8,4.6 z" fill="#00f"/>
<path d="M209.3,446.2 h5.6 l-2.8,4.6 z" fill="#00f"/>
<path d="M217.3,446 h5.6 l-2.8,4.6 z" fill="#00f"/>
<path d="M224,445.8 h5.6 l-2.8,4.6 z" fill="#00f"/>
<path d="M232.5,445.4 h5.6 l-2.8,4.6 z" fill="#00f"/>
<path d="M241.8,444.6 h5.6 l-2.8,4.6 z" fill="#00f"/>
<path d="M253.1,445.4 h5.6 l-2.8,4.6 z" fill="#00f"/>
<path d="M264.8,445.4 h5.6 l-2.8,4.6 z" fill="#00f"/>
<path d="M274.5,444.6 h5.6 l-2.8,4.6 z" fill="#00f"/>
<line x1="89.94" y1="492.9" x2="100.39" y2="492.9" stroke="#f00" stroke-width="1"/>
<line x1="100.39" y1="487.3" x2="108.92" y2="487.3" stroke="#f00" stroke-width="1"/>
<line x1="108.92" y1="489.3" x2="122.39" y2="489.3" stroke="#f00" stroke-width="1"/>
<line x1="122.39" y1="492.3" x2="132.83" y2="492.3" stroke="#f00" stroke-width="1"/>
<line x1="132.83" y1="491.3" x2="141.37" y2="491.3" stroke="#f00" stroke-width="1"/>
<line x1="141.37" y1="491.5" x2="154.83" y2="491.5" stroke="#f00" stroke-width="1"/>
<line x1="154.83" y1="491.3" x2="165.28" y2="491.3" stroke="#f00" stroke-width="1"/>
<line x1="165.28" y1="491.5" x2="173.81" y2="491.5" stroke="#f00" stroke-width="1"/>
<line x1="173.81" y1="491.9" x2="181.03" y2="491.9" stroke="#f00" stroke-width="1"/>
<line x1="181.03" y1="491.7" x2="187.28" y2="491.7" stroke="#f00" stroke-width="1"/>
<line x1="187.28" y1="490.5" x2="192.79" y2="490.5" stroke="#f00" stroke-width="1"/>
<line x1="192.79" y1="489.9" x2="197.72" y2="489.9" stroke="#f00" stroke-width="1"/>
<line x1="197.72" y1="489.9" x2="208.17" y2="489.9" stroke="#f00" stroke-width="1"/>
<line x1="208.17" y1="489.9" x2="216.7" y2="489.9" stroke="#f00" stroke-width="1"/>
<line x1="216.7" y1="489.9" x2="223.92" y2="489.9" stroke="#f00" stroke-width="1"/>
<line x1="223.92" y1="488.9" x2="230.17" y2="488.9" stroke="#f00" stroke-width="1"/>
<line x1="230.17" y1="488.9" x2="240.61" y2="488.9" stroke="#f00" stroke-width="1"/>
<line x1="240.61" y1="488.1" x2="249.15" y2="488.1" stroke="#f00" stroke-width="1"/>
<line x1="249.15" y1="488.3" x2="262.61" y2="488.3" stroke="#f00" stroke-width="1"/>
<line x1="262.61" y1="487.5" x2="273.06" y2="487.5" stroke="#f00" stroke-width="1"/>
<line x1="273.06" y1="487.1" x2="281.59" y2="487.1" stroke="#f00" stroke-width="1"/>
<rect x="92.9" y="490.5" width="4.8" height="4.8" fill="#f00"/>
<rect x="102.2" y="484.9" width="4.8" height="4.8" fill="#f00"/>
<rect x="113.5" y="486.9" width="4.8" height="4.8" fill="#f00"/>
<rect x="125.1" y="489.9" width="4.8" height="4.8" fill="#f00"/>
<rect x="134.7" y="488.9" width="4.8" height="4.8" fill="#f00"/>
<rect x="146" y="489.1" width="4.8" height="4.8" fill="#f00"/>
<rect x="157.6" y="488.9" width="4.8" height="4.8" fill="#f00"/>
<rect x="167.2" y="489.1" width="4.8" height="4.8" fill="#f00"/>
<rect x="175" y="489.5" width="4.8" height="4.8" fill="#f00"/>
<rect x="181.5" y="489.3" width="4.8" height="4.8" fill="#f00"/>
<rect x="187.3" y="488.1" width="4.8" height="4.8" fill="#f00"/>
<rect x="192.6" y="487.5" width="4.8" height="4.8" fill="#f00"/>
<rect x="200.5" y="487.5" width="4.8" height="4.8" fill="#f00"/>
<rect x="209.7" y="487.5" width="4.8" height="4.8" fill="#f00"/>
<rect x="217.7" y="487.5" width="4.8" height="4.8" fill="#f00"/>
<rect x="224.4" y="486.5" width="4.8" height="4.8" fill="#f00"/>
<rect x="232.9" y="486.5" width="4.8" height="4.8" fill="#f00"/>
<rect x="242.2" y="485.7" width="4.8" height="4.8" fill="#f00"/>
<rect x="253.5" y="485.9" width="4.8" height="4.8" fill="#f00"/>
<rect x="265.2" y="485.1" width="4.8" height="4.8" fill="#f00"/>
<rect x="274.9" y="484.7" width="4.8" height="4.8" fill="#f00"/>
<line x1="89.94" y1="493.9" x2="100.39" y2="493.9" stroke="#00f" stroke-width="1"/>
<line x1="100.39" y1="481.1" x2="108.92" y2="481.1" stroke="#00f" stroke-width="1"/>
<line x1="108.92" y1="478.5" x2="122.39" y2="478.5" stroke="#00f" stroke-width="1"/>
<line x1="122.39" y1="485.5" x2="132.83" y2="485.5" stroke="#00f" stroke-width="1"/>
<line x1="132.83" y1="483.5" x2="141.37" y2="483.5" stroke="#00f" stroke-width="1"/>
<line x1="141.37" y1="483.1" x2="154.83" y2="483.1" stroke="#00f" stroke-width="1"/>
<line x1="154.83" y1="482.3" x2="165.28" y2="482.3" stroke="#00f" stroke-width="1"/>
<line x1="165.28" y1="481.7" x2="173.81" y2="481.7" stroke="#00f" stroke-width="1"/>
<line x1="173.81" y1="482.9" x2="181.03" y2="482.9" stroke="#00f" stroke-width="1"/>
<line x1="181.03" y1="482.5" x2="187.28" y2="482.5" stroke="#00f" stroke-width="1"/>
<line x1="187.28" y1="481.5" x2="192.79" y2="481.5" stroke="#00f" stroke-width="1"/>
<line x1="192.79" y1="480.1" x2="197.72" y2="480.1" stroke="#00f" stroke-width="1"/>
<line x1="197.72" y1="480.1" x2="208.17" y2="480.1" stroke="#00f" stroke-width="1"/>
<line x1="208.17" y1="480.3" x2="216.7" y2="480.3" stroke="#00f" stroke-width="1"/>
<line x1="216.7" y1="480.1" x2="223.92" y2="480.1" stroke="#00f" stroke-width="1"/>
<line x1="223.92" y1="479.1" x2="230.17" y2="479.1" stroke="#00f" stroke-width="1"/>
<line x1="230.17" y1="478.1" x2="240.61" y2="478.1" stroke="#00f" stroke-width="1"/>
<line x1="240.61" y1="476.5" x2="249.15" y2="476.5" stroke="#00f" stroke-width="1"/>
<line x1="249.15" y1="477.1" x2="262.61" y2="477.1" stroke="#00f" stroke-width="1"/>
<line x1="262.61" y1="476.1" x2="273.06" y2="476.1" stroke="#00f" stroke-width="1"/>
<line x1="273.06" y1="474.9" x2="281.59" y2="474.9" stroke="#00f" stroke-width="1"/>
<path d="M92.5,491.7 h5.6 l-2.8,4.6 z" fill="#00f"/>
<path d="M101.8,478.9 h5.6 l-2.8,4.6 z" fill="#00f"/>
<path d="M113.1,476.3 h5.6 l-2.8,4.6 z" fill="#00f"/>
<path d="M124.7,483.3 h5.6 l-2.8,4.6 z" fill="#00f"/>
<path d="M134.3,481.3 h5.6 l-2.8,4.6 z" fill="#00f"/>
<path d="M145.6,480.9 h5.6 l-2.8,4.6 z" fill="#00f"/>
<path d="M157.2,480.1 h5.6 l-2.8,4.6 z" fill="#00f"/>
<path d="M166.8,479.5 h5.6 l-2.8,4.6 z" fill="#00f"/>
<path d="M174.6,480.7 h5.6 l-2.8,4.6 z" fill="#00f"/>
<path d="M181.1,480.3 h5.6 l-2.8,4.6 z" fill="#00f"/>
<path d="M186.9,479.3 h5.6 l-2.8,4.6 z" fill="#00f"/>
<path d="M192.2,477.9 h5.6 l-2.8,4.6 z" fill="#00f"/>
<path d="M200.1,477.9 h5.6 l-2.8,4.6 z" fill="#00f"/>
<path d="M209.3,478.1 h5.6 l-2.8,4.6 z" fill="#00f"/>
<path d="M217.3,477.9 h5.6 l-2.8,4.6 z" fill="#00f"/>
<path d="M224,476.9 h5.6 l-2.8,4.6 z" fill="#00f"/>
<path d="M232.5,475.9 h5.6 l-2.8,4.6 z" fill="#00f"/>
<path d="M241.8,474.3 h5.6 l-2.8,4.6 z" fill="#00f"/>
<path d="M253.1,474.9 h5.6 l-2.8,4.6 z" fill="#00f"/>
<path d="M264.8,473.9 h5.6 l-2.8,4.6 z" fill="#00f"/>
<path d="M274.5,472.7 h5.6 l-2.8,4.6 z" fill="#00f"/>
<rect x="420" y="302.5" width="247.5" height="233" fill="none" stroke="#000" stroke-width="1"/>
<line x1="420" y1="464.7" x2="667.5" y2="464.7" stroke="#000" stroke-width="1"/>
<line x1="420" y1="464.79" x2="424.3" y2="464.79" stroke="#000" stroke-width="1"/>
<line x1="667.5" y1="464.79" x2="663.2" y2="464.79" stroke="#000" stroke-width="1"/>
<line x1="420" y1="460.02" x2="424.3" y2="460.02" stroke="#000" stroke-width="1"/>
<line x1="667.5" y1="460.02" x2="663.2" y2="460.02" stroke="#000" stroke-width="1"/>
<line x1="420" y1="455.25" x2="424.3" y2="455.25" stroke="#000" stroke-width="1"/>
<line x1="667.5" y1="455.25" x2="663.2" y2="455.25" stroke="#000" stroke-width="1"/>
<line x1="420" y1="450.47" x2="424.3" y2="450.47" stroke="#000" stroke-width="1"/>
<line x1="667.5" y1="450.47" x2="663.2" y2="450.47" stroke="#000" stroke-width="1"/>
<line x1="420" y1="445.7" x2="428.5" y2="445.7" stroke="#000" stroke-width="1"/>
<line x1="667.5" y1="445.7" x2="659" y2="445.7" stroke="#000" stroke-width="1"/>
<line x1="420" y1="440.93" x2="424.3" y2="440.93" stroke="#000" stroke-width="1"/>
<line x1="667.5" y1="440.93" x2="663.2" y2="440.93" stroke="#000" stroke-width="1"/>
<line x1="420" y1="436.15" x2="424.3" y2="436.15" stroke="#000" stroke-width="1"/>
<line x1="667.5" y1="436.15" x2="663.2" y2="436.15" stroke="#000" stroke-width="1"/>
<line x1="420" y1="431.38" x2="424.3" y2="431.38" stroke="#000" stroke-width="1"/>
<line x1="667.5" y1="431.38" x2="663.2" y2="431.38" stroke="#000" stroke-width="1"/>
<line x1="420" y1="426.61" x2="424.3" y2="426.61" stroke="#000" stroke-width="1"/>
<line x1="667.5" y1="426.61" x2="663.2" y2="426.61" stroke="#000" stroke-width="1"/>
<line x1="420" y1="421.83" x2="428.5" y2="421.83" stroke="#000" stroke-width="1"/>
<line x1="667.5" y1="421.83" x2="659" y2="421.83" stroke="#000" stroke-width="1"/>
<line x1="420" y1="417.06" x2="424.3" y2="417.06" stroke="#000" stroke-width="1"/>
<line x1="667.5" y1="417.06" x2="663.2" y2="417.06" stroke="#000" stroke-width="1"/>
<line x1="420" y1="412.29" x2="424.3" y2="412.29" stroke="#000" stroke-width="1"/>
<line x1="667.5" y1="412.29" x2="663.2" y2="412.29" stroke="#000" stroke-width="1"/>
<line x1="420" y1="407.51" x2="424.3" y2="407.51" stroke="#000" stroke-width="1"/>
<line x1="667.5" y1="407.51" x2="663.2" y2="407.51" stroke="#000" stroke-width="1"/>
<line x1="420" y1="402.74" x2="424.3" y2="402.74" stroke="#000" stroke-width="1"/>
<line x1="667.5" y1="402.74" x2="663.2" y2="402.74" stroke="#000" stroke-width="1"/>
<line x1="420" y1="397.97" x2="428.5" y2="397.97" stroke="#000" stroke-width="1"/>
<line x1="667.5" y1="397.97" x2="659" y2="397.97" stroke="#000" stroke-width="1"/>
<line x1="420" y1="393.19" x2="424.3" y2="393.19" stroke="#000" stroke-width="1"/>
<line x1="667.5" y1="393.19" x2="663.2" y2="393.19" stroke="#000" stroke-width="1"/>
<line x1="420" y1="388.42" x2="424.3" y2="388.42" stroke="#000" stroke-width="1"/>
<line x1="667.5" y1="388.42" x2="663.2" y2="388.42" stroke="#000" stroke-width="1"/>
<line x1="420" y1="383.65" x2="424.3" y2="383.65" stroke="#000" stroke-width="1"/>
<line x1="667.5" y1="383.65" x2="663.2" y2="383.65" stroke="#000" stroke-width="1"/>
<line x1="420" y1="378.87" x2="424.3" y2="378.87" stroke="#000" stroke-width="1"/>
<line x1="667.5" y1="378.87" x2="663.2" y2="378.87" stroke="#000" stroke-width="1"/>
<line x1="420" y1="374.1" x2="428.5" y2="374.1" stroke="#000" stroke-width="1"/>
<line x1="667.5" y1="374.1" x2="659" y2="374.1" stroke="#000" stroke-width="1"/>
<line x1="420" y1="369.33" x2="424.3" y2="369.33" stroke="#000" stroke-width="1"/>
<line x1="667.5" y1="369.33" x2="663.2" y2="369.33" stroke="#000" stroke-width="1"/>
<line x1="420" y1="364.55" x2="424.3" y2="364.55" stroke="#000" stroke-width="1"/>
<line x1="667.5" y1="364.55" x2="663.2" y2="364.55" stroke="#000" stroke-width="1"/>
<line x1="420" y1="359.78" x2="424.3" y2="359.78" stroke="#000" stroke-width="1"/>
<line x1="667.5" y1="359.78" x2="663.2" y2="359.78" stroke="#000" stroke-width="1"/>
<line x1="420" y1="355.01" x2="424.3" y2="355.01" stroke="#000" stroke-width="1"/>
<line x1="667.5" y1="355.01" x2="663.2" y2="355.01" stroke="#000" stroke-width="1"/>
<line x1="420" y1="350.23" x2="428.5" y2="350.23" stroke="#000" stroke-width="1"/>
<line x1="667.5" y1="350.23" x2="659" y2="350.23" stroke="#000" stroke-width="1"/>
<line x1="420" y1="345.46" x2="424.3" y2="345.46" stroke="#000" stroke-width="1"/>
<line x1="667.5" y1="345.46" x2="663.2" y2="345.46" stroke="#000" stroke-width="1"/>
<line x1="420" y1="340.69" x2="424.3" y2="340.69" stroke="#000" stroke-width="1"/>
<line x1="667.5" y1="340.69" x2="663.2" y2="340.69" stroke="#000" stroke-width="1"/>
<line x1="420" y1="335.91" x2="424.3" y2="335.91" stroke="#000" stroke-width="1"/>
<line x1="667.5" y1="335.91" x2="663.2" y2="335.91" stroke="#000" stroke-width="1"/>
<line x1="420" y1="331.14" x2="424.3" y2="331.14" stroke="#000" stroke-width="1"/>
<line x1="667.5" y1="331.14" x2="663.2" y2="331.14" stroke="#000" stroke-width="1"/>
<line x1="420" y1="326.37" x2="428.5" y2="326.37" stroke="#000" stroke-width="1"/>
<line x1="667.5" y1="326.37" x2="659" y2="326.37" stroke="#000" stroke-width="1"/>
<line x1="420" y1="321.59" x2="424.3" y2="321.59" stroke="#000" stroke-width="1"/>
<line x1="667.5" y1="321.59" x2="663.2" y2="321.59" stroke="#000" stroke-width="1"/>
<line x1="420" y1="316.82" x2="424.3" y2="316.82" stroke="#000" stroke-width="1"/>
<line x1="667.5" y1="316.82" x2="663.2" y2="316.82" stroke="#000" stroke-width="1"/>
<line x1="420" y1="312.05" x2="424.3" y2="312.05" stroke="#000" stroke-width="1"/>
<line x1="667.5" y1="312.05" x2="663.2" y2="312.05" stroke="#000" stroke-width="1"/>
<line x1="420" y1="307.27" x2="424.3" y2="307.27" stroke="#000" stroke-width="1"/>
<line x1="667.5" y1="307.27" x2="663.2" y2="307.27" stroke="#000" stroke-width="1"/>
<line x1="420" y1="302.5" x2="428.5" y2="302.5" stroke="#000" stroke-width="1"/>
<line x1="667.5" y1="302.5" x2="659" y2="302.5" stroke="#000" stroke-width="1"/>
<line x1="420" y1="469.9" x2="425.9" y2="469.9" stroke="#000" stroke-width="1"/>
<line x1="667.5" y1="469.9" x2="661.6" y2="469.9" stroke="#000" stroke-width="1"/>
<line x1="420" y1="489.4" x2="425.9" y2="489.4" stroke="#000" stroke-width="1"/>
<line x1="667.5" y1="489.4" x2="661.6" y2="489.4" stroke="#000" stroke-width="1"/>
<line x1="420" y1="508.9" x2="425.9" y2="508.9" stroke="#000" stroke-width="1"/>
<line x1="667.5" y1="508.9" x2="661.6" y2="508.9" stroke="#000" stroke-width="1"/>
<line x1="420" y1="528.4" x2="425.9" y2="528.4" stroke="#000" stroke-width="1"/>
<line x1="667.5" y1="528.4" x2="661.6" y2="528.4" stroke="#000" stroke-width="1"/>
<line x1="452.38" y1="302.5" x2="452.38" y2="304.9" stroke="#000" stroke-width="1"/>
<line x1="452.38" y1="464.7" x2="452.38" y2="462.3" stroke="#000" stroke-width="1"/>
<line x1="452.38" y1="464.7" x2="452.38" y2="466.2" stroke="#000" stroke-width="1"/>
<line x1="452.38" y1="535.5" x2="452.38" y2="534" stroke="#000" stroke-width="1"/>
<line x1="471.32" y1="302.5" x2="471.32" y2="304.9" stroke="#000" stroke-width="1"/>
<line x1="471.32" y1="464.7" x2="471.32" y2="462.3" stroke="#000" stroke-width="1"/>
<line x1="471.32" y1="464.7" x2="471.32" y2="466.2" stroke="#000" stroke-width="1"/>
<line x1="471.32" y1="535.5" x2="471.32" y2="534" stroke="#000" stroke-width="1"/>
<line x1="484.76" y1="302.5" x2="484.76" y2="304.9" stroke="#000" stroke-width="1"/>
<line x1="484.76" y1="464.7" x2="484.76" y2="462.3" stroke="#000" stroke-width="1"/>
<line x1="484.76" y1="464.7" x2="484.76" y2="466.2" stroke="#000" stroke-width="1"/>
<line x1="484.76" y1="535.5" x2="484.76" y2="534" stroke="#000" stroke-width="1"/>
<line x1="495.18" y1="302.5" x2="495.18" y2="304.9" stroke="#000" stroke-width="1"/>
<line x1="495.18" y1="464.7" x2="495.18" y2="462.3" stroke="#000" stroke-width="1"/>
<line x1="495.18" y1="464.7" x2="495.18" y2="466.2" stroke="#000" stroke-width="1"/>
<line x1="495.18" y1="535.5" x2="495.18" y2="534" stroke="#000" stroke-width="1"/>
<line x1="503.7" y1="302.5" x2="503.7" y2="304.9" stroke="#000" stroke-width="1"/>
<line x1="503.7" y1="464.7" x2="503.7" y2="462.3" stroke="#000" stroke-width="1"/>
<line x1="503.7" y1="464.7" x2="503.7" y2="466.2" stroke="#000" stroke-width="1"/>
<line x1="503.7" y1="535.5" x2="503.7" y2="534" stroke="#000" stroke-width="1"/>
<line x1="510.9" y1="302.5" x2="510.9" y2="304.9" stroke="#000" stroke-width="1"/>
<line x1="510.9" y1="464.7" x2="510.9" y2="462.3" stroke="#000" stroke-width="1"/>
<line x1="510.9" y1="464.7" x2="510.9" y2="466.2" stroke="#000" stroke-width="1"/>
<line x1="510.9" y1="535.5" x2="510.9" y2="534" stroke="#000" stroke-width="1"/>
<line x1="517.14" y1="302.5" x2="517.14" y2="304.9" stroke="#000" stroke-width="1"/>
<line x1="517.14" y1="464.7" x2="517.14" y2="462.3" stroke="#000" stroke-width="1"/>
<line x1="517.14" y1="464.7" x2="517.14" y2="466.2" stroke="#000" stroke-width="1"/>
<line x1="517.14" y1="535.5" x2="517.14" y2="534" stroke="#000" stroke-width="1"/>
<line x1="522.64" y1="302.5" x2="522.64" y2="304.9" stroke="#000" stroke-width="1"/>
<line x1="522.64" y1="464.7" x2="522.64" y2="462.3" stroke="#000" stroke-width="1"/>
<line x1="522.64" y1="464.7" x2="522.64" y2="466.2" stroke="#000" stroke-width="1"/>
<line x1="522.64" y1="535.5" x2="522.64" y2="534" stroke="#000" stroke-width="1"/>
<line x1="527.56" y1="302.5" x2="527.56" y2="306.7" stroke="#000" stroke-width="1"/>
<line x1="527.56" y1="464.7" x2="527.56" y2="460.5" stroke="#000" stroke-width="1"/>
<line x1="527.56" y1="464.7" x2="527.56" y2="467.3" stroke="#000" stroke-width="1"/>
<line x1="527.56" y1="535.5" x2="527.56" y2="532.9" stroke="#000" stroke-width="1"/>
<line x1="559.94" y1="302.5" x2="559.94" y2="304.9" stroke="#000" stroke-width="1"/>
<line x1="559.94" y1="464.7" x2="559.94" y2="462.3" stroke="#000" stroke-width="1"/>
<line x1="559.94" y1="464.7" x2="559.94" y2="466.2" stroke="#000" stroke-width="1"/>
<line x1="559.94" y1="535.5" x2="559.94" y2="534" stroke="#000" stroke-width="1"/>
<line x1="578.88" y1="302.5" x2="578.88" y2="304.9" stroke="#000" stroke-width="1"/>
<line x1="578.88" y1="464.7" x2="578.88" y2="462.3" stroke="#000" stroke-width="1"/>
<line x1="578.88" y1="464.7" x2="578.88" y2="466.2" stroke="#000" stroke-width="1"/>
<line x1="578.88" y1="535.5" x2="578.88" y2="534" stroke="#000" stroke-width="1"/>
<line x1="592.32" y1="302.5" x2="592.32" y2="304.9" stroke="#000" stroke-width="1"/>
<line x1="592.32" y1="464.7" x2="592.32" y2="462.3" stroke="#000" stroke-width="1"/>
<line x1="592.32" y1="464.7" x2="592.32" y2="466.2" stroke="#000" stroke-width="1"/>
<line x1="592.32" y1="535.5" x2="592.32" y2="534" stroke="#000" stroke-width="1"/>
<line x1="602.74" y1="302.5" x2="602.74" y2="304.9" stroke="#000" stroke-width="1"/>
<line x1="602.74" y1="464.7" x2="602.74" y2="462.3" stroke="#000" stroke-width="1"/>
<line x1="602.74" y1="464.7" x2="602.74" y2="466.2" stroke="#000" stroke-width="1"/>
<line x1="602.74" y1="535.5" x2="602.74" y2="534" stroke="#000" stroke-width="1"/>
<line x1="611.26" y1="302.5" x2="611.26" y2="304.9" stroke="#000" stroke-width="1"/>
<line x1="611.26" y1="464.7" x2="611.26" y2="462.3" stroke="#000" stroke-width="1"/>
<line x1="611.26" y1="464.7" x2="611.26" y2="466.2" stroke="#000" stroke-width="1"/>
<line x1="611.26" y1="535.5" x2="611.26" y2="534" stroke="#000" stroke-width="1"/>
<line x1="618.46" y1="302.5" x2="618.46" y2="304.9" stroke="#000" stroke-width="1"/>
<line x1="618.46" y1="464.7" x2="618.46" y2="462.3" stroke="#000" stroke-width="1"/>
<line x1="618.46" y1="464.7" x2="618.46" y2="466.2" stroke="#000" stroke-width="1"/>
<line x1="618.46" y1="535.5" x2="618.46" y2="534" stroke="#000" stroke-width="1"/>
<line x1="624.7" y1="302.5" x2="624.7" y2="304.9" stroke="#000" stroke-width="1"/>
<line x1="624.7" y1="464.7" x2="624.7" y2="462.3" stroke="#000" stroke-width="1"/>
<line x1="624.7" y1="464.7" x2="624.7" y2="466.2" stroke="#000" stroke-width="1"/>
<line x1="624.7" y1="535.5" x2="624.7" y2="534" stroke="#000" stroke-width="1"/>
<line x1="630.2" y1="302.5" x2="630.2" y2="304.9" stroke="#000" stroke-width="1"/>
<line x1="630.2" y1="464.7" x2="630.2" y2="462.3" stroke="#000" stroke-width="1"/>
<line x1="630.2" y1="464.7" x2="630.2" y2="466.2" stroke="#000" stroke-width="1"/>
<line x1="630.2" y1="535.5" x2="630.2" y2="534" stroke="#000" stroke-width="1"/>
<line x1="635.12" y1="302.5" x2="635.12" y2="306.7" stroke="#000" stroke-width="1"/>
<line x1="635.12" y1="464.7" x2="635.12" y2="460.5" stroke="#000" stroke-width="1"/>
<line x1="635.12" y1="464.7" x2="635.12" y2="467.3" stroke="#000" stroke-width="1"/>
<line x1="635.12" y1="535.5" x2="635.12" y2="532.9" stroke="#000" stroke-width="1"/>
<line x1="420" y1="445.7" x2="667.5" y2="445.7" stroke="#222" stroke-width="1" stroke-dasharray="1.5 1.95"/>
<line x1="420" y1="489.4" x2="667.5" y2="489.4" stroke="#222" stroke-width="1" stroke-dasharray="1.65 1.8"/>
<text x="418.2" y="308.4" text-anchor="end" font-size="13.6" ><tspan class="h">1</tspan>.3</text>
<path d="M404.08,308.4 L404.08,298.76 L403.33,298.76 C403.07,299.78 402.86,299.9 401.62,300.04 L400.65,300.16 L400.65,301.06 L402.94,301.06 L402.94,308.4 Z" fill="#000"/>
<text x="418.2" y="331.77" text-anchor="end" font-size="13.6" ><tspan class="h">1</tspan>.25</text>
<path d="M396.52,331.77 L396.52,322.12 L395.77,322.12 C395.51,323.14 395.29,323.27 394.05,323.4 L393.09,323.53 L393.09,324.42 L395.37,324.42 L395.37,331.77 Z" fill="#000"/>
<text x="418.2" y="355.63" text-anchor="end" font-size="13.6" ><tspan class="h">1</tspan>.2</text>
<path d="M404.08,355.63 L404.08,345.99 L403.33,345.99 C403.07,347.01 402.86,347.13 401.62,347.27 L400.65,347.39 L400.65,348.29 L402.94,348.29 L402.94,355.63 Z" fill="#000"/>
<text x="418.2" y="379.5" text-anchor="end" font-size="13.6" ><tspan class="h">1</tspan>.<tspan class="h">1</tspan>5</text>
<path d="M396.52,379.5 L396.52,369.86 L395.77,369.86 C395.51,370.88 395.29,371 394.05,371.14 L393.09,371.26 L393.09,372.16 L395.37,372.16 L395.37,379.5 Z" fill="#000"/>
<path d="M407.86,379.5 L407.86,369.86 L407.11,369.86 C406.85,370.88 406.63,371 405.4,371.14 L404.43,371.26 L404.43,372.16 L406.72,372.16 L406.72,379.5 Z" fill="#000"/>
<text x="418.2" y="403.37" text-anchor="end" font-size="13.6" ><tspan class="h">1</tspan>.<tspan class="h">1</tspan></text>
<path d="M404.08,403.37 L404.08,393.72 L403.33,393.72 C403.07,394.74 402.86,394.87 401.62,395 L400.65,395.13 L400.65,396.02 L402.94,396.02 L402.94,403.37 Z" fill="#000"/>
<path d="M415.42,403.37 L415.42,393.72 L414.67,393.72 C414.42,394.74 414.2,394.87 412.96,395 L412,395.13 L412,396.02 L414.28,396.02 L414.28,403.37 Z" fill="#000"/>
<text x="418.2" y="427.23" text-anchor="end" font-size="13.6" ><tspan class="h">1</tspan>.05</text>
<path d="M396.52,427.23 L396.52,417.59 L395.77,417.59 C395.51,418.61 395.29,418.73 394.05,418.87 L393.09,418.99 L393.09,419.89 L395.37,419.89 L395.37,427.23 Z" fill="#000"/>
<text x="418.2" y="451.1" text-anchor="end" font-size="13.6" ><tspan class="h">1</tspan></text>
<path d="M415.42,451.1 L415.42,441.46 L414.67,441.46 C414.42,442.48 414.2,442.6 412.96,442.74 L412,442.86 L412,443.76 L414.28,443.76 L414.28,451.1 Z" fill="#000"/>
<text x="418.2" y="475.3" text-anchor="end" font-size="13.6" >0.02</text>
<text x="418.2" y="494.8" text-anchor="end" font-size="13.6" >0</text>
<text x="418.2" y="514.3" text-anchor="end" font-size="13.6" >-0.02</text>
<text x="418.2" y="533.8" text-anchor="end" font-size="13.6" >-0.04</text>
<text x="452.38" y="553" text-anchor="middle" font-size="13.6" >20</text>
<text x="516.85" y="553" text-anchor="start" font-size="13.6" ><tspan class="h">1</tspan>0</text>
<path d="M521.64,553 L521.64,543.36 L520.89,543.36 C520.64,544.38 520.42,544.5 519.18,544.64 L518.21,544.76 L518.21,545.66 L520.5,545.66 L520.5,553 Z" fill="#000"/>
<text x="531.98" y="546.8" text-anchor="start" font-size="9.5" >2</text>
<text x="624.61" y="553" text-anchor="start" font-size="13.6" ><tspan class="h">1</tspan>0</text>
<path d="M629.4,553 L629.4,543.36 L628.65,543.36 C628.4,544.38 628.18,544.5 626.94,544.64 L625.97,544.76 L625.97,545.66 L628.26,545.66 L628.26,553 Z" fill="#000"/>
<text x="639.74" y="546.8" text-anchor="start" font-size="9.5" >3</text>
<text x="542.29" y="553" text-anchor="start" font-size="13.6" >2</text>
<path d="M549.89,545.3 L556.49,552.3 M556.49,545.3 L549.89,552.3" stroke="#000" stroke-width="1.05" fill="none"/>
<text x="557.29" y="553" text-anchor="start" font-size="13.6" ><tspan class="h">1</tspan>0</text>
<path d="M562.08,553 L562.08,543.36 L561.33,543.36 C561.07,544.38 560.85,544.5 559.62,544.64 L558.65,544.76 L558.65,545.66 L560.93,545.66 L560.93,553 Z" fill="#000"/>
<text x="571.04" y="546.8" text-anchor="start" font-size="9.5" >2</text>
<text x="649.85" y="553" text-anchor="start" font-size="13.6" >2</text>
<path d="M657.45,545.3 L664.05,552.3 M664.05,545.3 L657.45,552.3" stroke="#000" stroke-width="1.05" fill="none"/>
<text x="664.85" y="553" text-anchor="start" font-size="13.6" ><tspan class="h">1</tspan>0</text>
<path d="M669.64,553 L669.64,543.36 L668.89,543.36 C668.63,544.38 668.41,544.5 667.18,544.64 L666.21,544.76 L666.21,545.66 L668.49,545.66 L668.49,553 Z" fill="#000"/>
<text x="678.6" y="546.8" text-anchor="start" font-size="9.5" >3</text>
<text x="603" y="571.7" font-size="13.6"><tspan font-style="italic">p</tspan><tspan font-size="9.5" dy="-5.5">truth</tspan></text>
<text x="611.8" y="578" font-size="9.5">T</text>
<text x="667.8" y="571.7" font-size="13.6" text-anchor="end">[GeV]</text>
<text transform="translate(374.9,432.6) rotate(-90)" font-size="13.6">Response (<tspan font-style="italic">p</tspan><tspan font-size="9" dy="5.4">T</tspan><tspan font-size="9.2" dx="-5.5" dy="-11.4">reco</tspan><tspan dy="6">/</tspan><tspan font-style="italic">p</tspan><tspan font-size="9" dy="5.4">T</tspan><tspan font-size="9.2" dx="-5.5" dy="-11.4">truth</tspan><tspan dy="6">)</tspan></text>
<text transform="translate(376.9,504.3) rotate(-90)" font-size="14.2" font-style="italic">R' - R</text>
<text x="430.1" y="317.7" font-size="12.7"><tspan font-weight="bold" font-style="italic">ATLAS</tspan></text>
<text x="475.7" y="317.7" font-size="12.7">Simulation</text>
<text x="430.1" y="333.7" font-size="12.7">P<tspan font-size="9.0">YTHIA</tspan>8 Dijet</text>
<text x="430.5" y="349.8" font-size="12.0">2.<tspan class="h">1</tspan></text>
<path d="M444.73,349.8 L444.73,341.29 L444.07,341.29 C443.84,342.19 443.65,342.3 442.56,342.42 L441.71,342.53 L441.71,343.32 L443.72,343.32 L443.72,349.8 Z" fill="#000"/>
<text x="448.6" y="349.8" font-size="10.8">&lt;</text>
<text x="460.4" y="348.6" font-size="12.0">η</text>
<text x="467" y="354.6" font-size="8.2">det</text>
<text x="484.8" y="349.8" font-size="10.8">&lt;</text>
<text x="494.6" y="349.8" font-size="12.0">2.4</text>
<line x1="456.2" y1="339.3" x2="456.2" y2="350.4" stroke="#000" stroke-width="1.05"/>
<line x1="482.6" y1="339.3" x2="482.6" y2="350.4" stroke="#000" stroke-width="1.05"/>
<text x="430.1" y="366.3" font-size="12.7">anti-<tspan font-style="italic">k</tspan><tspan font-style="italic" font-size="9" dy="3.3">t</tspan><tspan dy="-3.3">, </tspan><tspan font-style="italic">R</tspan>=0.4, gluon jets</text>
<path d="M578.9,313.2 l0.9,-0.5 l1.3,5.6 l1.7,-11.5 h6.9" fill="none" stroke="#000" stroke-width="0.9"/>
<text x="583.3" y="317.8" font-size="12.7">s = 8 TeV</text>
<text x="578.7" y="337.2" font-size="12.7">EM+JES</text>
<circle cx="578.4" cy="351.1" r="2.15" fill="#000"/>
<text x="586.5" y="353.5" font-size="12.7">w/o GS</text>
<rect x="576.3" y="365.4" width="4.2" height="4.2" fill="#f00"/>
<text x="586.5" y="370.2" font-size="12.7">GS<tspan font-size="8.4" dy="3.6">calo</tspan></text>
<path d="M575.9,381 h5 l-2.5,4.3 z" fill="#00f"/>
<text x="586.5" y="386" font-size="12.7">GS</text>
<line x1="452.38" y1="443.3" x2="462.8" y2="443.3" stroke="#000" stroke-width="1"/>
<line x1="462.8" y1="450.9" x2="471.32" y2="450.9" stroke="#000" stroke-width="1"/>
<line x1="471.32" y1="452.3" x2="484.76" y2="452.3" stroke="#000" stroke-width="1"/>
<line x1="484.76" y1="453.7" x2="495.18" y2="453.7" stroke="#000" stroke-width="1"/>
<line x1="495.18" y1="455.1" x2="503.7" y2="455.1" stroke="#000" stroke-width="1"/>
<line x1="503.7" y1="455.3" x2="517.14" y2="455.3" stroke="#000" stroke-width="1"/>
<line x1="517.14" y1="455.3" x2="527.56" y2="455.3" stroke="#000" stroke-width="1"/>
<line x1="527.56" y1="455.9" x2="536.08" y2="455.9" stroke="#000" stroke-width="1"/>
<line x1="536.08" y1="456.5" x2="543.28" y2="456.5" stroke="#000" stroke-width="1"/>
<line x1="543.28" y1="456.5" x2="549.52" y2="456.5" stroke="#000" stroke-width="1"/>
<line x1="549.52" y1="456.9" x2="555.02" y2="456.9" stroke="#000" stroke-width="1"/>
<line x1="555.02" y1="456.9" x2="559.94" y2="456.9" stroke="#000" stroke-width="1"/>
<line x1="559.94" y1="457.7" x2="570.36" y2="457.7" stroke="#000" stroke-width="1"/>
<line x1="570.36" y1="457.3" x2="578.88" y2="457.3" stroke="#000" stroke-width="1"/>
<line x1="578.88" y1="457.7" x2="586.08" y2="457.7" stroke="#000" stroke-width="1"/>
<line x1="586.08" y1="457.9" x2="592.32" y2="457.9" stroke="#000" stroke-width="1"/>
<line x1="592.32" y1="455.3" x2="602.74" y2="455.3" stroke="#000" stroke-width="1"/>
<line x1="602.74" y1="455.3" x2="611.26" y2="455.3" stroke="#000" stroke-width="1"/>
<circle cx="457.8" cy="443.3" r="2.5" fill="#000"/>
<circle cx="467.1" cy="450.9" r="2.5" fill="#000"/>
<circle cx="478.4" cy="452.3" r="2.5" fill="#000"/>
<circle cx="490" cy="453.7" r="2.5" fill="#000"/>
<circle cx="499.6" cy="455.1" r="2.5" fill="#000"/>
<circle cx="510.9" cy="455.3" r="2.5" fill="#000"/>
<circle cx="522.5" cy="455.3" r="2.5" fill="#000"/>
<circle cx="532.1" cy="455.9" r="2.5" fill="#000"/>
<circle cx="539.9" cy="456.5" r="2.5" fill="#000"/>
<circle cx="546.4" cy="456.5" r="2.5" fill="#000"/>
<circle cx="552.2" cy="456.9" r="2.5" fill="#000"/>
<circle cx="557.5" cy="456.9" r="2.5" fill="#000"/>
<circle cx="565.4" cy="457.7" r="2.5" fill="#000"/>
<circle cx="574.6" cy="457.3" r="2.5" fill="#000"/>
<circle cx="582.6" cy="457.7" r="2.5" fill="#000"/>
<circle cx="589.3" cy="457.9" r="2.5" fill="#000"/>
<circle cx="597.8" cy="455.3" r="2.5" fill="#000"/>
<circle cx="607.1" cy="455.3" r="2.5" fill="#000"/>
<line x1="607.1" y1="455.8" x2="607.1" y2="460.8" stroke="#f00" stroke-width="1"/>
<line x1="452.38" y1="443.3" x2="462.8" y2="443.3" stroke="#f00" stroke-width="1"/>
<line x1="462.8" y1="450.9" x2="471.32" y2="450.9" stroke="#f00" stroke-width="1"/>
<line x1="471.32" y1="451.3" x2="484.76" y2="451.3" stroke="#f00" stroke-width="1"/>
<line x1="484.76" y1="453.9" x2="495.18" y2="453.9" stroke="#f00" stroke-width="1"/>
<line x1="495.18" y1="454.7" x2="503.7" y2="454.7" stroke="#f00" stroke-width="1"/>
<line x1="503.7" y1="454.7" x2="517.14" y2="454.7" stroke="#f00" stroke-width="1"/>
<line x1="517.14" y1="454.7" x2="527.56" y2="454.7" stroke="#f00" stroke-width="1"/>
<line x1="527.56" y1="455.3" x2="536.08" y2="455.3" stroke="#f00" stroke-width="1"/>
<line x1="536.08" y1="455.9" x2="543.28" y2="455.9" stroke="#f00" stroke-width="1"/>
<line x1="543.28" y1="455.9" x2="549.52" y2="455.9" stroke="#f00" stroke-width="1"/>
<line x1="549.52" y1="456.1" x2="555.02" y2="456.1" stroke="#f00" stroke-width="1"/>
<line x1="555.02" y1="456.3" x2="559.94" y2="456.3" stroke="#f00" stroke-width="1"/>
<line x1="559.94" y1="456.3" x2="570.36" y2="456.3" stroke="#f00" stroke-width="1"/>
<line x1="570.36" y1="456.3" x2="578.88" y2="456.3" stroke="#f00" stroke-width="1"/>
<line x1="578.88" y1="455.7" x2="586.08" y2="455.7" stroke="#f00" stroke-width="1"/>
<line x1="586.08" y1="456.7" x2="592.32" y2="456.7" stroke="#f00" stroke-width="1"/>
<line x1="592.32" y1="455.3" x2="602.74" y2="455.3" stroke="#f00" stroke-width="1"/>
<line x1="602.74" y1="458.3" x2="611.26" y2="458.3" stroke="#f00" stroke-width="1"/>
<rect x="455.4" y="440.9" width="4.8" height="4.8" fill="#f00"/>
<rect x="464.7" y="448.5" width="4.8" height="4.8" fill="#f00"/>
<rect x="476" y="448.9" width="4.8" height="4.8" fill="#f00"/>
<rect x="487.6" y="451.5" width="4.8" height="4.8" fill="#f00"/>
<rect x="497.2" y="452.3" width="4.8" height="4.8" fill="#f00"/>
<rect x="508.5" y="452.3" width="4.8" height="4.8" fill="#f00"/>
<rect x="520.1" y="452.3" width="4.8" height="4.8" fill="#f00"/>
<rect x="529.7" y="452.9" width="4.8" height="4.8" fill="#f00"/>
<rect x="537.5" y="453.5" width="4.8" height="4.8" fill="#f00"/>
<rect x="544" y="453.5" width="4.8" height="4.8" fill="#f00"/>
<rect x="549.8" y="453.7" width="4.8" height="4.8" fill="#f00"/>
<rect x="555.1" y="453.9" width="4.8" height="4.8" fill="#f00"/>
<rect x="563" y="453.9" width="4.8" height="4.8" fill="#f00"/>
<rect x="572.2" y="453.9" width="4.8" height="4.8" fill="#f00"/>
<rect x="580.2" y="453.3" width="4.8" height="4.8" fill="#f00"/>
<rect x="586.9" y="454.3" width="4.8" height="4.8" fill="#f00"/>
<rect x="595.4" y="452.9" width="4.8" height="4.8" fill="#f00"/>
<rect x="604.7" y="455.9" width="4.8" height="4.8" fill="#f00"/>
<line x1="452.38" y1="443.6" x2="462.8" y2="443.6" stroke="#00f" stroke-width="1"/>
<line x1="462.8" y1="450.8" x2="471.32" y2="450.8" stroke="#00f" stroke-width="1"/>
<line x1="471.32" y1="450.2" x2="484.76" y2="450.2" stroke="#00f" stroke-width="1"/>
<line x1="484.76" y1="450.6" x2="495.18" y2="450.6" stroke="#00f" stroke-width="1"/>
<line x1="495.18" y1="450.6" x2="503.7" y2="450.6" stroke="#00f" stroke-width="1"/>
<line x1="503.7" y1="450" x2="517.14" y2="450" stroke="#00f" stroke-width="1"/>
<line x1="517.14" y1="450.4" x2="527.56" y2="450.4" stroke="#00f" stroke-width="1"/>
<line x1="527.56" y1="450.6" x2="536.08" y2="450.6" stroke="#00f" stroke-width="1"/>
<line x1="536.08" y1="450.6" x2="543.28" y2="450.6" stroke="#00f" stroke-width="1"/>
<line x1="543.28" y1="450.6" x2="549.52" y2="450.6" stroke="#00f" stroke-width="1"/>
<line x1="549.52" y1="450.2" x2="555.02" y2="450.2" stroke="#00f" stroke-width="1"/>
<line x1="555.02" y1="449.6" x2="559.94" y2="449.6" stroke="#00f" stroke-width="1"/>
<line x1="559.94" y1="449.4" x2="570.36" y2="449.4" stroke="#00f" stroke-width="1"/>
<line x1="570.36" y1="450" x2="578.88" y2="450" stroke="#00f" stroke-width="1"/>
<line x1="578.88" y1="450" x2="586.08" y2="450" stroke="#00f" stroke-width="1"/>
<line x1="586.08" y1="449.6" x2="592.32" y2="449.6" stroke="#00f" stroke-width="1"/>
<line x1="592.32" y1="448.2" x2="602.74" y2="448.2" stroke="#00f" stroke-width="1"/>
<line x1="602.74" y1="448.6" x2="611.26" y2="448.6" stroke="#00f" stroke-width="1"/>
<path d="M455,441.4 h5.6 l-2.8,4.6 z" fill="#00f"/>
<path d="M464.3,448.6 h5.6 l-2.8,4.6 z" fill="#00f"/>
<path d="M475.6,448 h5.6 l-2.8,4.6 z" fill="#00f"/>
<path d="M487.2,448.4 h5.6 l-2.8,4.6 z" fill="#00f"/>
<path d="M496.8,448.4 h5.6 l-2.8,4.6 z" fill="#00f"/>
<path d="M508.1,447.8 h5.6 l-2.8,4.6 z" fill="#00f"/>
<path d="M519.7,448.2 h5.6 l-2.8,4.6 z" fill="#00f"/>
<path d="M529.3,448.4 h5.6 l-2.8,4.6 z" fill="#00f"/>
<path d="M537.1,448.4 h5.6 l-2.8,4.6 z" fill="#00f"/>
<path d="M543.6,448.4 h5.6 l-2.8,4.6 z" fill="#00f"/>
<path d="M549.4,448 h5.6 l-2.8,4.6 z" fill="#00f"/>
<path d="M554.7,447.4 h5.6 l-2.8,4.6 z" fill="#00f"/>
<path d="M562.6,447.2 h5.6 l-2.8,4.6 z" fill="#00f"/>
<path d="M571.8,447.8 h5.6 l-2.8,4.6 z" fill="#00f"/>
<path d="M579.8,447.8 h5.6 l-2.8,4.6 z" fill="#00f"/>
<path d="M586.5,447.4 h5.6 l-2.8,4.6 z" fill="#00f"/>
<path d="M595,446 h5.6 l-2.8,4.6 z" fill="#00f"/>
<path d="M604.3,446.4 h5.6 l-2.8,4.6 z" fill="#00f"/>
<line x1="452.38" y1="488.9" x2="462.8" y2="488.9" stroke="#f00" stroke-width="1"/>
<line x1="462.8" y1="489.7" x2="471.32" y2="489.7" stroke="#f00" stroke-width="1"/>
<line x1="471.32" y1="486.9" x2="484.76" y2="486.9" stroke="#f00" stroke-width="1"/>
<line x1="484.76" y1="489.3" x2="495.18" y2="489.3" stroke="#f00" stroke-width="1"/>
<line x1="495.18" y1="488.5" x2="503.7" y2="488.5" stroke="#f00" stroke-width="1"/>
<line x1="503.7" y1="488.9" x2="517.14" y2="488.9" stroke="#f00" stroke-width="1"/>
<line x1="517.14" y1="489.7" x2="527.56" y2="489.7" stroke="#f00" stroke-width="1"/>
<line x1="527.56" y1="488.1" x2="536.08" y2="488.1" stroke="#f00" stroke-width="1"/>
<line x1="536.08" y1="488.5" x2="543.28" y2="488.5" stroke="#f00" stroke-width="1"/>
<line x1="543.28" y1="488.1" x2="549.52" y2="488.1" stroke="#f00" stroke-width="1"/>
<line x1="549.52" y1="488.1" x2="555.02" y2="488.1" stroke="#f00" stroke-width="1"/>
<line x1="555.02" y1="488.5" x2="559.94" y2="488.5" stroke="#f00" stroke-width="1"/>
<line x1="559.94" y1="486.7" x2="570.36" y2="486.7" stroke="#f00" stroke-width="1"/>
<line x1="570.36" y1="487.3" x2="578.88" y2="487.3" stroke="#f00" stroke-width="1"/>
<line x1="578.88" y1="485.5" x2="586.08" y2="485.5" stroke="#f00" stroke-width="1"/>
<line x1="586.08" y1="486.1" x2="592.32" y2="486.1" stroke="#f00" stroke-width="1"/>
<line x1="592.32" y1="487.7" x2="602.74" y2="487.7" stroke="#f00" stroke-width="1"/>
<line x1="602.74" y1="493.7" x2="611.26" y2="493.7" stroke="#f00" stroke-width="1"/>
<rect x="455.4" y="486.5" width="4.8" height="4.8" fill="#f00"/>
<rect x="464.7" y="487.3" width="4.8" height="4.8" fill="#f00"/>
<rect x="476" y="484.5" width="4.8" height="4.8" fill="#f00"/>
<rect x="487.6" y="486.9" width="4.8" height="4.8" fill="#f00"/>
<rect x="497.2" y="486.1" width="4.8" height="4.8" fill="#f00"/>
<rect x="508.5" y="486.5" width="4.8" height="4.8" fill="#f00"/>
<rect x="520.1" y="487.3" width="4.8" height="4.8" fill="#f00"/>
<rect x="529.7" y="485.7" width="4.8" height="4.8" fill="#f00"/>
<rect x="537.5" y="486.1" width="4.8" height="4.8" fill="#f00"/>
<rect x="544" y="485.7" width="4.8" height="4.8" fill="#f00"/>
<rect x="549.8" y="485.7" width="4.8" height="4.8" fill="#f00"/>
<rect x="555.1" y="486.1" width="4.8" height="4.8" fill="#f00"/>
<rect x="563" y="484.3" width="4.8" height="4.8" fill="#f00"/>
<rect x="572.2" y="484.9" width="4.8" height="4.8" fill="#f00"/>
<rect x="580.2" y="483.1" width="4.8" height="4.8" fill="#f00"/>
<rect x="586.9" y="483.7" width="4.8" height="4.8" fill="#f00"/>
<rect x="595.4" y="485.3" width="4.8" height="4.8" fill="#f00"/>
<rect x="604.7" y="491.3" width="4.8" height="4.8" fill="#f00"/>
<line x1="452.38" y1="489.1" x2="462.8" y2="489.1" stroke="#00f" stroke-width="1"/>
<line x1="462.8" y1="489.9" x2="471.32" y2="489.9" stroke="#00f" stroke-width="1"/>
<line x1="471.32" y1="483.5" x2="484.76" y2="483.5" stroke="#00f" stroke-width="1"/>
<line x1="484.76" y1="482.3" x2="495.18" y2="482.3" stroke="#00f" stroke-width="1"/>
<line x1="495.18" y1="480.5" x2="503.7" y2="480.5" stroke="#00f" stroke-width="1"/>
<line x1="503.7" y1="478.9" x2="517.14" y2="478.9" stroke="#00f" stroke-width="1"/>
<line x1="517.14" y1="480.7" x2="527.56" y2="480.7" stroke="#00f" stroke-width="1"/>
<line x1="527.56" y1="479.1" x2="536.08" y2="479.1" stroke="#00f" stroke-width="1"/>
<line x1="536.08" y1="478.5" x2="543.28" y2="478.5" stroke="#00f" stroke-width="1"/>
<line x1="543.28" y1="477.5" x2="549.52" y2="477.5" stroke="#00f" stroke-width="1"/>
<line x1="549.52" y1="476.3" x2="555.02" y2="476.3" stroke="#00f" stroke-width="1"/>
<line x1="555.02" y1="475.1" x2="559.94" y2="475.1" stroke="#00f" stroke-width="1"/>
<line x1="559.94" y1="473.5" x2="570.36" y2="473.5" stroke="#00f" stroke-width="1"/>
<line x1="570.36" y1="474.9" x2="578.88" y2="474.9" stroke="#00f" stroke-width="1"/>
<line x1="578.88" y1="474.5" x2="586.08" y2="474.5" stroke="#00f" stroke-width="1"/>
<line x1="586.08" y1="472.9" x2="592.32" y2="472.9" stroke="#00f" stroke-width="1"/>
<line x1="592.32" y1="473.9" x2="602.74" y2="473.9" stroke="#00f" stroke-width="1"/>
<line x1="602.74" y1="474.9" x2="611.26" y2="474.9" stroke="#00f" stroke-width="1"/>
<path d="M455,486.9 h5.6 l-2.8,4.6 z" fill="#00f"/>
<path d="M464.3,487.7 h5.6 l-2.8,4.6 z" fill="#00f"/>
<path d="M475.6,481.3 h5.6 l-2.8,4.6 z" fill="#00f"/>
<path d="M487.2,480.1 h5.6 l-2.8,4.6 z" fill="#00f"/>
<path d="M496.8,478.3 h5.6 l-2.8,4.6 z" fill="#00f"/>
<path d="M508.1,476.7 h5.6 l-2.8,4.6 z" fill="#00f"/>
<path d="M519.7,478.5 h5.6 l-2.8,4.6 z" fill="#00f"/>
<path d="M529.3,476.9 h5.6 l-2.8,4.6 z" fill="#00f"/>
<path d="M537.1,476.3 h5.6 l-2.8,4.6 z" fill="#00f"/>
<path d="M543.6,475.3 h5.6 l-2.8,4.6 z" fill="#00f"/>
<path d="M549.4,474.1 h5.6 l-2.8,4.6 z" fill="#00f"/>
<path d="M554.7,472.9 h5.6 l-2.8,4.6 z" fill="#00f"/>
<path d="M562.6,471.3 h5.6 l-2.8,4.6 z" fill="#00f"/>
<path d="M571.8,472.7 h5.6 l-2.8,4.6 z" fill="#00f"/>
<path d="M579.8,472.3 h5.6 l-2.8,4.6 z" fill="#00f"/>
<path d="M586.5,470.7 h5.6 l-2.8,4.6 z" fill="#00f"/>
<path d="M595,471.7 h5.6 l-2.8,4.6 z" fill="#00f"/>
<path d="M604.3,472.7 h5.6 l-2.8,4.6 z" fill="#00f"/>
<rect x="57.5" y="599.5" width="248" height="233" fill="none" stroke="#000" stroke-width="1"/>
<line x1="57.5" y1="761.5" x2="305.5" y2="761.5" stroke="#000" stroke-width="1"/>
<line x1="57.5" y1="761.57" x2="61.8" y2="761.57" stroke="#000" stroke-width="1"/>
<line x1="305.5" y1="761.57" x2="301.2" y2="761.57" stroke="#000" stroke-width="1"/>
<line x1="57.5" y1="756.8" x2="61.8" y2="756.8" stroke="#000" stroke-width="1"/>
<line x1="305.5" y1="756.8" x2="301.2" y2="756.8" stroke="#000" stroke-width="1"/>
<line x1="57.5" y1="752.03" x2="61.8" y2="752.03" stroke="#000" stroke-width="1"/>
<line x1="305.5" y1="752.03" x2="301.2" y2="752.03" stroke="#000" stroke-width="1"/>
<line x1="57.5" y1="747.27" x2="61.8" y2="747.27" stroke="#000" stroke-width="1"/>
<line x1="305.5" y1="747.27" x2="301.2" y2="747.27" stroke="#000" stroke-width="1"/>
<line x1="57.5" y1="742.5" x2="66" y2="742.5" stroke="#000" stroke-width="1"/>
<line x1="305.5" y1="742.5" x2="297" y2="742.5" stroke="#000" stroke-width="1"/>
<line x1="57.5" y1="737.73" x2="61.8" y2="737.73" stroke="#000" stroke-width="1"/>
<line x1="305.5" y1="737.73" x2="301.2" y2="737.73" stroke="#000" stroke-width="1"/>
<line x1="57.5" y1="732.97" x2="61.8" y2="732.97" stroke="#000" stroke-width="1"/>
<line x1="305.5" y1="732.97" x2="301.2" y2="732.97" stroke="#000" stroke-width="1"/>
<line x1="57.5" y1="728.2" x2="61.8" y2="728.2" stroke="#000" stroke-width="1"/>
<line x1="305.5" y1="728.2" x2="301.2" y2="728.2" stroke="#000" stroke-width="1"/>
<line x1="57.5" y1="723.43" x2="61.8" y2="723.43" stroke="#000" stroke-width="1"/>
<line x1="305.5" y1="723.43" x2="301.2" y2="723.43" stroke="#000" stroke-width="1"/>
<line x1="57.5" y1="718.67" x2="66" y2="718.67" stroke="#000" stroke-width="1"/>
<line x1="305.5" y1="718.67" x2="297" y2="718.67" stroke="#000" stroke-width="1"/>
<line x1="57.5" y1="713.9" x2="61.8" y2="713.9" stroke="#000" stroke-width="1"/>
<line x1="305.5" y1="713.9" x2="301.2" y2="713.9" stroke="#000" stroke-width="1"/>
<line x1="57.5" y1="709.13" x2="61.8" y2="709.13" stroke="#000" stroke-width="1"/>
<line x1="305.5" y1="709.13" x2="301.2" y2="709.13" stroke="#000" stroke-width="1"/>
<line x1="57.5" y1="704.37" x2="61.8" y2="704.37" stroke="#000" stroke-width="1"/>
<line x1="305.5" y1="704.37" x2="301.2" y2="704.37" stroke="#000" stroke-width="1"/>
<line x1="57.5" y1="699.6" x2="61.8" y2="699.6" stroke="#000" stroke-width="1"/>
<line x1="305.5" y1="699.6" x2="301.2" y2="699.6" stroke="#000" stroke-width="1"/>
<line x1="57.5" y1="694.83" x2="66" y2="694.83" stroke="#000" stroke-width="1"/>
<line x1="305.5" y1="694.83" x2="297" y2="694.83" stroke="#000" stroke-width="1"/>
<line x1="57.5" y1="690.07" x2="61.8" y2="690.07" stroke="#000" stroke-width="1"/>
<line x1="305.5" y1="690.07" x2="301.2" y2="690.07" stroke="#000" stroke-width="1"/>
<line x1="57.5" y1="685.3" x2="61.8" y2="685.3" stroke="#000" stroke-width="1"/>
<line x1="305.5" y1="685.3" x2="301.2" y2="685.3" stroke="#000" stroke-width="1"/>
<line x1="57.5" y1="680.53" x2="61.8" y2="680.53" stroke="#000" stroke-width="1"/>
<line x1="305.5" y1="680.53" x2="301.2" y2="680.53" stroke="#000" stroke-width="1"/>
<line x1="57.5" y1="675.77" x2="61.8" y2="675.77" stroke="#000" stroke-width="1"/>
<line x1="305.5" y1="675.77" x2="301.2" y2="675.77" stroke="#000" stroke-width="1"/>
<line x1="57.5" y1="671" x2="66" y2="671" stroke="#000" stroke-width="1"/>
<line x1="305.5" y1="671" x2="297" y2="671" stroke="#000" stroke-width="1"/>
<line x1="57.5" y1="666.23" x2="61.8" y2="666.23" stroke="#000" stroke-width="1"/>
<line x1="305.5" y1="666.23" x2="301.2" y2="666.23" stroke="#000" stroke-width="1"/>
<line x1="57.5" y1="661.47" x2="61.8" y2="661.47" stroke="#000" stroke-width="1"/>
<line x1="305.5" y1="661.47" x2="301.2" y2="661.47" stroke="#000" stroke-width="1"/>
<line x1="57.5" y1="656.7" x2="61.8" y2="656.7" stroke="#000" stroke-width="1"/>
<line x1="305.5" y1="656.7" x2="301.2" y2="656.7" stroke="#000" stroke-width="1"/>
<line x1="57.5" y1="651.93" x2="61.8" y2="651.93" stroke="#000" stroke-width="1"/>
<line x1="305.5" y1="651.93" x2="301.2" y2="651.93" stroke="#000" stroke-width="1"/>
<line x1="57.5" y1="647.17" x2="66" y2="647.17" stroke="#000" stroke-width="1"/>
<line x1="305.5" y1="647.17" x2="297" y2="647.17" stroke="#000" stroke-width="1"/>
<line x1="57.5" y1="642.4" x2="61.8" y2="642.4" stroke="#000" stroke-width="1"/>
<line x1="305.5" y1="642.4" x2="301.2" y2="642.4" stroke="#000" stroke-width="1"/>
<line x1="57.5" y1="637.63" x2="61.8" y2="637.63" stroke="#000" stroke-width="1"/>
<line x1="305.5" y1="637.63" x2="301.2" y2="637.63" stroke="#000" stroke-width="1"/>
<line x1="57.5" y1="632.87" x2="61.8" y2="632.87" stroke="#000" stroke-width="1"/>
<line x1="305.5" y1="632.87" x2="301.2" y2="632.87" stroke="#000" stroke-width="1"/>
<line x1="57.5" y1="628.1" x2="61.8" y2="628.1" stroke="#000" stroke-width="1"/>
<line x1="305.5" y1="628.1" x2="301.2" y2="628.1" stroke="#000" stroke-width="1"/>
<line x1="57.5" y1="623.33" x2="66" y2="623.33" stroke="#000" stroke-width="1"/>
<line x1="305.5" y1="623.33" x2="297" y2="623.33" stroke="#000" stroke-width="1"/>
<line x1="57.5" y1="618.57" x2="61.8" y2="618.57" stroke="#000" stroke-width="1"/>
<line x1="305.5" y1="618.57" x2="301.2" y2="618.57" stroke="#000" stroke-width="1"/>
<line x1="57.5" y1="613.8" x2="61.8" y2="613.8" stroke="#000" stroke-width="1"/>
<line x1="305.5" y1="613.8" x2="301.2" y2="613.8" stroke="#000" stroke-width="1"/>
<line x1="57.5" y1="609.03" x2="61.8" y2="609.03" stroke="#000" stroke-width="1"/>
<line x1="305.5" y1="609.03" x2="301.2" y2="609.03" stroke="#000" stroke-width="1"/>
<line x1="57.5" y1="604.27" x2="61.8" y2="604.27" stroke="#000" stroke-width="1"/>
<line x1="305.5" y1="604.27" x2="301.2" y2="604.27" stroke="#000" stroke-width="1"/>
<line x1="57.5" y1="599.5" x2="66" y2="599.5" stroke="#000" stroke-width="1"/>
<line x1="305.5" y1="599.5" x2="297" y2="599.5" stroke="#000" stroke-width="1"/>
<line x1="57.5" y1="766.9" x2="63.4" y2="766.9" stroke="#000" stroke-width="1"/>
<line x1="305.5" y1="766.9" x2="299.6" y2="766.9" stroke="#000" stroke-width="1"/>
<line x1="57.5" y1="786.4" x2="63.4" y2="786.4" stroke="#000" stroke-width="1"/>
<line x1="305.5" y1="786.4" x2="299.6" y2="786.4" stroke="#000" stroke-width="1"/>
<line x1="57.5" y1="805.9" x2="63.4" y2="805.9" stroke="#000" stroke-width="1"/>
<line x1="305.5" y1="805.9" x2="299.6" y2="805.9" stroke="#000" stroke-width="1"/>
<line x1="57.5" y1="825.4" x2="63.4" y2="825.4" stroke="#000" stroke-width="1"/>
<line x1="305.5" y1="825.4" x2="299.6" y2="825.4" stroke="#000" stroke-width="1"/>
<line x1="89.94" y1="599.5" x2="89.94" y2="601.9" stroke="#000" stroke-width="1"/>
<line x1="89.94" y1="761.5" x2="89.94" y2="759.1" stroke="#000" stroke-width="1"/>
<line x1="89.94" y1="761.5" x2="89.94" y2="763" stroke="#000" stroke-width="1"/>
<line x1="89.94" y1="832.5" x2="89.94" y2="831" stroke="#000" stroke-width="1"/>
<line x1="108.92" y1="599.5" x2="108.92" y2="601.9" stroke="#000" stroke-width="1"/>
<line x1="108.92" y1="761.5" x2="108.92" y2="759.1" stroke="#000" stroke-width="1"/>
<line x1="108.92" y1="761.5" x2="108.92" y2="763" stroke="#000" stroke-width="1"/>
<line x1="108.92" y1="832.5" x2="108.92" y2="831" stroke="#000" stroke-width="1"/>
<line x1="122.39" y1="599.5" x2="122.39" y2="601.9" stroke="#000" stroke-width="1"/>
<line x1="122.39" y1="761.5" x2="122.39" y2="759.1" stroke="#000" stroke-width="1"/>
<line x1="122.39" y1="761.5" x2="122.39" y2="763" stroke="#000" stroke-width="1"/>
<line x1="122.39" y1="832.5" x2="122.39" y2="831" stroke="#000" stroke-width="1"/>
<line x1="132.83" y1="599.5" x2="132.83" y2="601.9" stroke="#000" stroke-width="1"/>
<line x1="132.83" y1="761.5" x2="132.83" y2="759.1" stroke="#000" stroke-width="1"/>
<line x1="132.83" y1="761.5" x2="132.83" y2="763" stroke="#000" stroke-width="1"/>
<line x1="132.83" y1="832.5" x2="132.83" y2="831" stroke="#000" stroke-width="1"/>
<line x1="141.37" y1="599.5" x2="141.37" y2="601.9" stroke="#000" stroke-width="1"/>
<line x1="141.37" y1="761.5" x2="141.37" y2="759.1" stroke="#000" stroke-width="1"/>
<line x1="141.37" y1="761.5" x2="141.37" y2="763" stroke="#000" stroke-width="1"/>
<line x1="141.37" y1="832.5" x2="141.37" y2="831" stroke="#000" stroke-width="1"/>
<line x1="148.58" y1="599.5" x2="148.58" y2="601.9" stroke="#000" stroke-width="1"/>
<line x1="148.58" y1="761.5" x2="148.58" y2="759.1" stroke="#000" stroke-width="1"/>
<line x1="148.58" y1="761.5" x2="148.58" y2="763" stroke="#000" stroke-width="1"/>
<line x1="148.58" y1="832.5" x2="148.58" y2="831" stroke="#000" stroke-width="1"/>
<line x1="154.83" y1="599.5" x2="154.83" y2="601.9" stroke="#000" stroke-width="1"/>
<line x1="154.83" y1="761.5" x2="154.83" y2="759.1" stroke="#000" stroke-width="1"/>
<line x1="154.83" y1="761.5" x2="154.83" y2="763" stroke="#000" stroke-width="1"/>
<line x1="154.83" y1="832.5" x2="154.83" y2="831" stroke="#000" stroke-width="1"/>
<line x1="160.35" y1="599.5" x2="160.35" y2="601.9" stroke="#000" stroke-width="1"/>
<line x1="160.35" y1="761.5" x2="160.35" y2="759.1" stroke="#000" stroke-width="1"/>
<line x1="160.35" y1="761.5" x2="160.35" y2="763" stroke="#000" stroke-width="1"/>
<line x1="160.35" y1="832.5" x2="160.35" y2="831" stroke="#000" stroke-width="1"/>
<line x1="165.28" y1="599.5" x2="165.28" y2="603.7" stroke="#000" stroke-width="1"/>
<line x1="165.28" y1="761.5" x2="165.28" y2="757.3" stroke="#000" stroke-width="1"/>
<line x1="165.28" y1="761.5" x2="165.28" y2="764.1" stroke="#000" stroke-width="1"/>
<line x1="165.28" y1="832.5" x2="165.28" y2="829.9" stroke="#000" stroke-width="1"/>
<line x1="197.72" y1="599.5" x2="197.72" y2="601.9" stroke="#000" stroke-width="1"/>
<line x1="197.72" y1="761.5" x2="197.72" y2="759.1" stroke="#000" stroke-width="1"/>
<line x1="197.72" y1="761.5" x2="197.72" y2="763" stroke="#000" stroke-width="1"/>
<line x1="197.72" y1="832.5" x2="197.72" y2="831" stroke="#000" stroke-width="1"/>
<line x1="216.7" y1="599.5" x2="216.7" y2="601.9" stroke="#000" stroke-width="1"/>
<line x1="216.7" y1="761.5" x2="216.7" y2="759.1" stroke="#000" stroke-width="1"/>
<line x1="216.7" y1="761.5" x2="216.7" y2="763" stroke="#000" stroke-width="1"/>
<line x1="216.7" y1="832.5" x2="216.7" y2="831" stroke="#000" stroke-width="1"/>
<line x1="230.17" y1="599.5" x2="230.17" y2="601.9" stroke="#000" stroke-width="1"/>
<line x1="230.17" y1="761.5" x2="230.17" y2="759.1" stroke="#000" stroke-width="1"/>
<line x1="230.17" y1="761.5" x2="230.17" y2="763" stroke="#000" stroke-width="1"/>
<line x1="230.17" y1="832.5" x2="230.17" y2="831" stroke="#000" stroke-width="1"/>
<line x1="240.61" y1="599.5" x2="240.61" y2="601.9" stroke="#000" stroke-width="1"/>
<line x1="240.61" y1="761.5" x2="240.61" y2="759.1" stroke="#000" stroke-width="1"/>
<line x1="240.61" y1="761.5" x2="240.61" y2="763" stroke="#000" stroke-width="1"/>
<line x1="240.61" y1="832.5" x2="240.61" y2="831" stroke="#000" stroke-width="1"/>
<line x1="249.15" y1="599.5" x2="249.15" y2="601.9" stroke="#000" stroke-width="1"/>
<line x1="249.15" y1="761.5" x2="249.15" y2="759.1" stroke="#000" stroke-width="1"/>
<line x1="249.15" y1="761.5" x2="249.15" y2="763" stroke="#000" stroke-width="1"/>
<line x1="249.15" y1="832.5" x2="249.15" y2="831" stroke="#000" stroke-width="1"/>
<line x1="256.36" y1="599.5" x2="256.36" y2="601.9" stroke="#000" stroke-width="1"/>
<line x1="256.36" y1="761.5" x2="256.36" y2="759.1" stroke="#000" stroke-width="1"/>
<line x1="256.36" y1="761.5" x2="256.36" y2="763" stroke="#000" stroke-width="1"/>
<line x1="256.36" y1="832.5" x2="256.36" y2="831" stroke="#000" stroke-width="1"/>
<line x1="262.61" y1="599.5" x2="262.61" y2="601.9" stroke="#000" stroke-width="1"/>
<line x1="262.61" y1="761.5" x2="262.61" y2="759.1" stroke="#000" stroke-width="1"/>
<line x1="262.61" y1="761.5" x2="262.61" y2="763" stroke="#000" stroke-width="1"/>
<line x1="262.61" y1="832.5" x2="262.61" y2="831" stroke="#000" stroke-width="1"/>
<line x1="268.12" y1="599.5" x2="268.12" y2="601.9" stroke="#000" stroke-width="1"/>
<line x1="268.12" y1="761.5" x2="268.12" y2="759.1" stroke="#000" stroke-width="1"/>
<line x1="268.12" y1="761.5" x2="268.12" y2="763" stroke="#000" stroke-width="1"/>
<line x1="268.12" y1="832.5" x2="268.12" y2="831" stroke="#000" stroke-width="1"/>
<line x1="273.06" y1="599.5" x2="273.06" y2="603.7" stroke="#000" stroke-width="1"/>
<line x1="273.06" y1="761.5" x2="273.06" y2="757.3" stroke="#000" stroke-width="1"/>
<line x1="273.06" y1="761.5" x2="273.06" y2="764.1" stroke="#000" stroke-width="1"/>
<line x1="273.06" y1="832.5" x2="273.06" y2="829.9" stroke="#000" stroke-width="1"/>
<line x1="57.5" y1="742.5" x2="305.5" y2="742.5" stroke="#222" stroke-width="1" stroke-dasharray="1.5 1.95"/>
<line x1="57.5" y1="786.4" x2="305.5" y2="786.4" stroke="#222" stroke-width="1" stroke-dasharray="1.65 1.8"/>
<text x="55.7" y="605.4" text-anchor="end" font-size="13.6" ><tspan class="h">1</tspan>.3</text>
<path d="M41.58,605.4 L41.58,595.76 L40.83,595.76 C40.57,596.78 40.36,596.9 39.12,597.04 L38.15,597.16 L38.15,598.06 L40.44,598.06 L40.44,605.4 Z" fill="#000"/>
<text x="55.7" y="628.73" text-anchor="end" font-size="13.6" ><tspan class="h">1</tspan>.25</text>
<path d="M34.02,628.73 L34.02,619.09 L33.27,619.09 C33.01,620.11 32.79,620.23 31.55,620.37 L30.59,620.49 L30.59,621.39 L32.87,621.39 L32.87,628.73 Z" fill="#000"/>
<text x="55.7" y="652.57" text-anchor="end" font-size="13.6" ><tspan class="h">1</tspan>.2</text>
<path d="M41.58,652.57 L41.58,642.92 L40.83,642.92 C40.57,643.94 40.36,644.07 39.12,644.2 L38.15,644.33 L38.15,645.22 L40.44,645.22 L40.44,652.57 Z" fill="#000"/>
<text x="55.7" y="676.4" text-anchor="end" font-size="13.6" ><tspan class="h">1</tspan>.<tspan class="h">1</tspan>5</text>
<path d="M34.02,676.4 L34.02,666.76 L33.27,666.76 C33.01,667.78 32.79,667.9 31.55,668.04 L30.59,668.16 L30.59,669.06 L32.87,669.06 L32.87,676.4 Z" fill="#000"/>
<path d="M45.36,676.4 L45.36,666.76 L44.61,666.76 C44.35,667.78 44.13,667.9 42.9,668.04 L41.93,668.16 L41.93,669.06 L44.22,669.06 L44.22,676.4 Z" fill="#000"/>
<text x="55.7" y="700.23" text-anchor="end" font-size="13.6" ><tspan class="h">1</tspan>.<tspan class="h">1</tspan></text>
<path d="M41.58,700.23 L41.58,690.59 L40.83,690.59 C40.57,691.61 40.36,691.73 39.12,691.87 L38.15,691.99 L38.15,692.89 L40.44,692.89 L40.44,700.23 Z" fill="#000"/>
<path d="M52.92,700.23 L52.92,690.59 L52.17,690.59 C51.92,691.61 51.7,691.73 50.46,691.87 L49.5,691.99 L49.5,692.89 L51.78,692.89 L51.78,700.23 Z" fill="#000"/>
<text x="55.7" y="724.07" text-anchor="end" font-size="13.6" ><tspan class="h">1</tspan>.05</text>
<path d="M34.02,724.07 L34.02,714.42 L33.27,714.42 C33.01,715.44 32.79,715.57 31.55,715.7 L30.59,715.83 L30.59,716.72 L32.87,716.72 L32.87,724.07 Z" fill="#000"/>
<text x="55.7" y="747.9" text-anchor="end" font-size="13.6" ><tspan class="h">1</tspan></text>
<path d="M52.92,747.9 L52.92,738.26 L52.17,738.26 C51.92,739.28 51.7,739.4 50.46,739.54 L49.5,739.66 L49.5,740.56 L51.78,740.56 L51.78,747.9 Z" fill="#000"/>
<text x="55.7" y="772.3" text-anchor="end" font-size="13.6" >0.02</text>
<text x="55.7" y="791.8" text-anchor="end" font-size="13.6" >0</text>
<text x="55.7" y="811.3" text-anchor="end" font-size="13.6" >-0.02</text>
<text x="55.7" y="830.8" text-anchor="end" font-size="13.6" >-0.04</text>
<text x="89.94" y="850" text-anchor="middle" font-size="13.6" >20</text>
<text x="154.57" y="850" text-anchor="start" font-size="13.6" ><tspan class="h">1</tspan>0</text>
<path d="M159.36,850 L159.36,840.36 L158.61,840.36 C158.35,841.38 158.13,841.5 156.9,841.64 L155.93,841.76 L155.93,842.66 L158.22,842.66 L158.22,850 Z" fill="#000"/>
<text x="169.7" y="843.8" text-anchor="start" font-size="9.5" >2</text>
<text x="262.55" y="850" text-anchor="start" font-size="13.6" ><tspan class="h">1</tspan>0</text>
<path d="M267.34,850 L267.34,840.36 L266.59,840.36 C266.33,841.38 266.11,841.5 264.87,841.64 L263.91,841.76 L263.91,842.66 L266.19,842.66 L266.19,850 Z" fill="#000"/>
<text x="277.68" y="843.8" text-anchor="start" font-size="9.5" >3</text>
<text x="180.07" y="850" text-anchor="start" font-size="13.6" >2</text>
<path d="M187.67,842.3 L194.27,849.3 M194.27,842.3 L187.67,849.3" stroke="#000" stroke-width="1.05" fill="none"/>
<text x="195.07" y="850" text-anchor="start" font-size="13.6" ><tspan class="h">1</tspan>0</text>
<path d="M199.86,850 L199.86,840.36 L199.11,840.36 C198.85,841.38 198.64,841.5 197.4,841.64 L196.43,841.76 L196.43,842.66 L198.72,842.66 L198.72,850 Z" fill="#000"/>
<text x="208.82" y="843.8" text-anchor="start" font-size="9.5" >2</text>
<text x="287.85" y="850" text-anchor="start" font-size="13.6" >2</text>
<path d="M295.45,842.3 L302.05,849.3 M302.05,842.3 L295.45,849.3" stroke="#000" stroke-width="1.05" fill="none"/>
<text x="302.85" y="850" text-anchor="start" font-size="13.6" ><tspan class="h">1</tspan>0</text>
<path d="M307.64,850 L307.64,840.36 L306.89,840.36 C306.63,841.38 306.41,841.5 305.18,841.64 L304.21,841.76 L304.21,842.66 L306.49,842.66 L306.49,850 Z" fill="#000"/>
<text x="316.6" y="843.8" text-anchor="start" font-size="9.5" >3</text>
<text x="240.5" y="868.7" font-size="13.6"><tspan font-style="italic">p</tspan><tspan font-size="9.5" dy="-5.5">truth</tspan></text>
<text x="249.3" y="875" font-size="9.5">T</text>
<text x="305.3" y="868.7" font-size="13.6" text-anchor="end">[GeV]</text>
<text transform="translate(12.4,729.6) rotate(-90)" font-size="13.6">Response (<tspan font-style="italic">p</tspan><tspan font-size="9" dy="5.4">T</tspan><tspan font-size="9.2" dx="-5.5" dy="-11.4">reco</tspan><tspan dy="6">/</tspan><tspan font-style="italic">p</tspan><tspan font-size="9" dy="5.4">T</tspan><tspan font-size="9.2" dx="-5.5" dy="-11.4">truth</tspan><tspan dy="6">)</tspan></text>
<text transform="translate(14.4,801.3) rotate(-90)" font-size="14.2" font-style="italic">R' - R</text>
<text x="67.6" y="614.7" font-size="12.7"><tspan font-weight="bold" font-style="italic">ATLAS</tspan></text>
<text x="113.2" y="614.7" font-size="12.7">Simulation</text>
<text x="67.6" y="630.7" font-size="12.7">P<tspan font-size="9.0">YTHIA</tspan>8 Dijet</text>
<text x="72.6" y="645.6" font-size="12.0">η</text>
<text x="79.2" y="651.6" font-size="8.2">det</text>
<text x="97.5" y="646.8" font-size="10.8">&lt;</text>
<text x="107.3" y="646.8" font-size="12.0">0.3</text>
<line x1="68.85" y1="636.3" x2="68.85" y2="647.4" stroke="#000" stroke-width="1.05"/>
<line x1="95.5" y1="636.3" x2="95.5" y2="647.4" stroke="#000" stroke-width="1.05"/>
<text x="67.6" y="663.3" font-size="12.7">anti-<tspan font-style="italic">k</tspan><tspan font-style="italic" font-size="9" dy="3.3">t</tspan><tspan dy="-3.3">, </tspan><tspan font-style="italic">R</tspan>=0.4, <tspan font-style="italic">b</tspan> jets</text>
<path d="M216.4,610.2 l0.9,-0.5 l1.3,5.6 l1.7,-11.5 h6.9" fill="none" stroke="#000" stroke-width="0.9"/>
<text x="220.8" y="614.8" font-size="12.7">s = 8 TeV</text>
<text x="216.2" y="634.2" font-size="12.7">EM+JES</text>
<circle cx="215.9" cy="648.1" r="2.15" fill="#000"/>
<text x="224" y="650.5" font-size="12.7">w/o GS</text>
<rect x="213.8" y="662.4" width="4.2" height="4.2" fill="#f00"/>
<text x="224" y="667.2" font-size="12.7">GS<tspan font-size="8.4" dy="3.6">calo</tspan></text>
<path d="M213.4,678 h5 l-2.5,4.3 z" fill="#00f"/>
<text x="224" y="683" font-size="12.7">GS</text>
<line x1="95.3" y1="716.7" x2="95.3" y2="726.7" stroke="#000" stroke-width="1"/>
<line x1="104.6" y1="728.3" x2="104.6" y2="736.3" stroke="#000" stroke-width="1"/>
<line x1="89.94" y1="721.7" x2="100.39" y2="721.7" stroke="#000" stroke-width="1"/>
<line x1="100.39" y1="732.3" x2="108.92" y2="732.3" stroke="#000" stroke-width="1"/>
<line x1="108.92" y1="732.7" x2="122.39" y2="732.7" stroke="#000" stroke-width="1"/>
<line x1="122.39" y1="728.9" x2="132.83" y2="728.9" stroke="#000" stroke-width="1"/>
<line x1="132.83" y1="726.7" x2="141.37" y2="726.7" stroke="#000" stroke-width="1"/>
<line x1="141.37" y1="728.7" x2="154.83" y2="728.7" stroke="#000" stroke-width="1"/>
<line x1="154.83" y1="728.7" x2="165.28" y2="728.7" stroke="#000" stroke-width="1"/>
<line x1="165.28" y1="730.3" x2="173.81" y2="730.3" stroke="#000" stroke-width="1"/>
<line x1="173.81" y1="730.3" x2="181.03" y2="730.3" stroke="#000" stroke-width="1"/>
<line x1="181.03" y1="732.9" x2="187.28" y2="732.9" stroke="#000" stroke-width="1"/>
<line x1="187.28" y1="734.3" x2="192.79" y2="734.3" stroke="#000" stroke-width="1"/>
<line x1="192.79" y1="733.9" x2="197.72" y2="733.9" stroke="#000" stroke-width="1"/>
<line x1="197.72" y1="736.7" x2="208.17" y2="736.7" stroke="#000" stroke-width="1"/>
<line x1="208.17" y1="738.9" x2="216.7" y2="738.9" stroke="#000" stroke-width="1"/>
<line x1="216.7" y1="739.5" x2="223.92" y2="739.5" stroke="#000" stroke-width="1"/>
<line x1="223.92" y1="740.3" x2="230.17" y2="740.3" stroke="#000" stroke-width="1"/>
<line x1="230.17" y1="740.7" x2="240.61" y2="740.7" stroke="#000" stroke-width="1"/>
<line x1="240.61" y1="742.7" x2="249.15" y2="742.7" stroke="#000" stroke-width="1"/>
<line x1="249.15" y1="743.9" x2="262.61" y2="743.9" stroke="#000" stroke-width="1"/>
<line x1="262.61" y1="744.9" x2="273.06" y2="744.9" stroke="#000" stroke-width="1"/>
<line x1="273.06" y1="744.9" x2="281.59" y2="744.9" stroke="#000" stroke-width="1"/>
<circle cx="95.3" cy="721.7" r="2.5" fill="#000"/>
<circle cx="104.6" cy="732.3" r="2.5" fill="#000"/>
<circle cx="115.9" cy="732.7" r="2.5" fill="#000"/>
<circle cx="127.5" cy="728.9" r="2.5" fill="#000"/>
<circle cx="137.1" cy="726.7" r="2.5" fill="#000"/>
<circle cx="148.4" cy="728.7" r="2.5" fill="#000"/>
<circle cx="160" cy="728.7" r="2.5" fill="#000"/>
<circle cx="169.6" cy="730.3" r="2.5" fill="#000"/>
<circle cx="177.4" cy="730.3" r="2.5" fill="#000"/>
<circle cx="183.9" cy="732.9" r="2.5" fill="#000"/>
<circle cx="189.7" cy="734.3" r="2.5" fill="#000"/>
<circle cx="195" cy="733.9" r="2.5" fill="#000"/>
<circle cx="202.9" cy="736.7" r="2.5" fill="#000"/>
<circle cx="212.1" cy="738.9" r="2.5" fill="#000"/>
<circle cx="220.1" cy="739.5" r="2.5" fill="#000"/>
<circle cx="226.8" cy="740.3" r="2.5" fill="#000"/>
<circle cx="235.3" cy="740.7" r="2.5" fill="#000"/>
<circle cx="244.6" cy="742.7" r="2.5" fill="#000"/>
<circle cx="255.9" cy="743.9" r="2.5" fill="#000"/>
<circle cx="267.6" cy="744.9" r="2.5" fill="#000"/>
<circle cx="277.3" cy="744.9" r="2.5" fill="#000"/>
<line x1="95.3" y1="723.7" x2="95.3" y2="729.7" stroke="#f00" stroke-width="1"/>
<line x1="89.94" y1="726.7" x2="100.39" y2="726.7" stroke="#f00" stroke-width="1"/>
<line x1="100.39" y1="727.9" x2="108.92" y2="727.9" stroke="#f00" stroke-width="1"/>
<line x1="108.92" y1="732.9" x2="122.39" y2="732.9" stroke="#f00" stroke-width="1"/>
<line x1="122.39" y1="733.5" x2="132.83" y2="733.5" stroke="#f00" stroke-width="1"/>
<line x1="132.83" y1="730.9" x2="141.37" y2="730.9" stroke="#f00" stroke-width="1"/>
<line x1="141.37" y1="730.9" x2="154.83" y2="730.9" stroke="#f00" stroke-width="1"/>
<line x1="154.83" y1="731.9" x2="165.28" y2="731.9" stroke="#f00" stroke-width="1"/>
<line x1="165.28" y1="733.5" x2="173.81" y2="733.5" stroke="#f00" stroke-width="1"/>
<line x1="173.81" y1="735.3" x2="181.03" y2="735.3" stroke="#f00" stroke-width="1"/>
<line x1="181.03" y1="735.9" x2="187.28" y2="735.9" stroke="#f00" stroke-width="1"/>
<line x1="187.28" y1="736.7" x2="192.79" y2="736.7" stroke="#f00" stroke-width="1"/>
<line x1="192.79" y1="735.5" x2="197.72" y2="735.5" stroke="#f00" stroke-width="1"/>
<line x1="197.72" y1="739.3" x2="208.17" y2="739.3" stroke="#f00" stroke-width="1"/>
<line x1="208.17" y1="740.9" x2="216.7" y2="740.9" stroke="#f00" stroke-width="1"/>
<line x1="216.7" y1="742.3" x2="223.92" y2="742.3" stroke="#f00" stroke-width="1"/>
<line x1="223.92" y1="741.3" x2="230.17" y2="741.3" stroke="#f00" stroke-width="1"/>
<line x1="230.17" y1="743.3" x2="240.61" y2="743.3" stroke="#f00" stroke-width="1"/>
<line x1="240.61" y1="743.9" x2="249.15" y2="743.9" stroke="#f00" stroke-width="1"/>
<line x1="249.15" y1="744.3" x2="262.61" y2="744.3" stroke="#f00" stroke-width="1"/>
<line x1="262.61" y1="745.5" x2="273.06" y2="745.5" stroke="#f00" stroke-width="1"/>
<line x1="273.06" y1="745.1" x2="281.59" y2="745.1" stroke="#f00" stroke-width="1"/>
<rect x="92.9" y="724.3" width="4.8" height="4.8" fill="#f00"/>
<rect x="102.2" y="725.5" width="4.8" height="4.8" fill="#f00"/>
<rect x="113.5" y="730.5" width="4.8" height="4.8" fill="#f00"/>
<rect x="125.1" y="731.1" width="4.8" height="4.8" fill="#f00"/>
<rect x="134.7" y="728.5" width="4.8" height="4.8" fill="#f00"/>
<rect x="146" y="728.5" width="4.8" height="4.8" fill="#f00"/>
<rect x="157.6" y="729.5" width="4.8" height="4.8" fill="#f00"/>
<rect x="167.2" y="731.1" width="4.8" height="4.8" fill="#f00"/>
<rect x="175" y="732.9" width="4.8" height="4.8" fill="#f00"/>
<rect x="181.5" y="733.5" width="4.8" height="4.8" fill="#f00"/>
<rect x="187.3" y="734.3" width="4.8" height="4.8" fill="#f00"/>
<rect x="192.6" y="733.1" width="4.8" height="4.8" fill="#f00"/>
<rect x="200.5" y="736.9" width="4.8" height="4.8" fill="#f00"/>
<rect x="209.7" y="738.5" width="4.8" height="4.8" fill="#f00"/>
<rect x="217.7" y="739.9" width="4.8" height="4.8" fill="#f00"/>
<rect x="224.4" y="738.9" width="4.8" height="4.8" fill="#f00"/>
<rect x="232.9" y="740.9" width="4.8" height="4.8" fill="#f00"/>
<rect x="242.2" y="741.5" width="4.8" height="4.8" fill="#f00"/>
<rect x="253.5" y="741.9" width="4.8" height="4.8" fill="#f00"/>
<rect x="265.2" y="743.1" width="4.8" height="4.8" fill="#f00"/>
<rect x="274.9" y="742.7" width="4.8" height="4.8" fill="#f00"/>
<line x1="95.3" y1="725.1" x2="95.3" y2="736.1" stroke="#00f" stroke-width="1"/>
<line x1="104.6" y1="723.1" x2="104.6" y2="730.1" stroke="#00f" stroke-width="1"/>
<line x1="89.94" y1="730.6" x2="100.39" y2="730.6" stroke="#00f" stroke-width="1"/>
<line x1="100.39" y1="726.6" x2="108.92" y2="726.6" stroke="#00f" stroke-width="1"/>
<line x1="108.92" y1="732.6" x2="122.39" y2="732.6" stroke="#00f" stroke-width="1"/>
<line x1="122.39" y1="737.6" x2="132.83" y2="737.6" stroke="#00f" stroke-width="1"/>
<line x1="132.83" y1="736.2" x2="141.37" y2="736.2" stroke="#00f" stroke-width="1"/>
<line x1="141.37" y1="739.6" x2="154.83" y2="739.6" stroke="#00f" stroke-width="1"/>
<line x1="154.83" y1="739.6" x2="165.28" y2="739.6" stroke="#00f" stroke-width="1"/>
<line x1="165.28" y1="739.6" x2="173.81" y2="739.6" stroke="#00f" stroke-width="1"/>
<line x1="173.81" y1="740.6" x2="181.03" y2="740.6" stroke="#00f" stroke-width="1"/>
<line x1="181.03" y1="739.6" x2="187.28" y2="739.6" stroke="#00f" stroke-width="1"/>
<line x1="187.28" y1="741.6" x2="192.79" y2="741.6" stroke="#00f" stroke-width="1"/>
<line x1="192.79" y1="740.4" x2="197.72" y2="740.4" stroke="#00f" stroke-width="1"/>
<line x1="197.72" y1="742.6" x2="208.17" y2="742.6" stroke="#00f" stroke-width="1"/>
<line x1="208.17" y1="742.6" x2="216.7" y2="742.6" stroke="#00f" stroke-width="1"/>
<line x1="216.7" y1="743" x2="223.92" y2="743" stroke="#00f" stroke-width="1"/>
<line x1="223.92" y1="742.2" x2="230.17" y2="742.2" stroke="#00f" stroke-width="1"/>
<line x1="230.17" y1="742.6" x2="240.61" y2="742.6" stroke="#00f" stroke-width="1"/>
<line x1="240.61" y1="742.6" x2="249.15" y2="742.6" stroke="#00f" stroke-width="1"/>
<line x1="249.15" y1="743" x2="262.61" y2="743" stroke="#00f" stroke-width="1"/>
<line x1="262.61" y1="743.2" x2="273.06" y2="743.2" stroke="#00f" stroke-width="1"/>
<line x1="273.06" y1="741.6" x2="281.59" y2="741.6" stroke="#00f" stroke-width="1"/>
<path d="M92.5,728.4 h5.6 l-2.8,4.6 z" fill="#00f"/>
<path d="M101.8,724.4 h5.6 l-2.8,4.6 z" fill="#00f"/>
<path d="M113.1,730.4 h5.6 l-2.8,4.6 z" fill="#00f"/>
<path d="M124.7,735.4 h5.6 l-2.8,4.6 z" fill="#00f"/>
<path d="M134.3,734 h5.6 l-2.8,4.6 z" fill="#00f"/>
<path d="M145.6,737.4 h5.6 l-2.8,4.6 z" fill="#00f"/>
<path d="M157.2,737.4 h5.6 l-2.8,4.6 z" fill="#00f"/>
<path d="M166.8,737.4 h5.6 l-2.8,4.6 z" fill="#00f"/>
<path d="M174.6,738.4 h5.6 l-2.8,4.6 z" fill="#00f"/>
<path d="M181.1,737.4 h5.6 l-2.8,4.6 z" fill="#00f"/>
<path d="M186.9,739.4 h5.6 l-2.8,4.6 z" fill="#00f"/>
<path d="M192.2,738.2 h5.6 l-2.8,4.6 z" fill="#00f"/>
<path d="M200.1,740.4 h5.6 l-2.8,4.6 z" fill="#00f"/>
<path d="M209.3,740.4 h5.6 l-2.8,4.6 z" fill="#00f"/>
<path d="M217.3,740.8 h5.6 l-2.8,4.6 z" fill="#00f"/>
<path d="M224,740 h5.6 l-2.8,4.6 z" fill="#00f"/>
<path d="M232.5,740.4 h5.6 l-2.8,4.6 z" fill="#00f"/>
<path d="M241.8,740.4 h5.6 l-2.8,4.6 z" fill="#00f"/>
<path d="M253.1,740.8 h5.6 l-2.8,4.6 z" fill="#00f"/>
<path d="M264.8,741 h5.6 l-2.8,4.6 z" fill="#00f"/>
<path d="M274.5,739.4 h5.6 l-2.8,4.6 z" fill="#00f"/>
<line x1="89.94" y1="796.3" x2="100.39" y2="796.3" stroke="#f00" stroke-width="1"/>
<line x1="100.39" y1="776.7" x2="108.92" y2="776.7" stroke="#f00" stroke-width="1"/>
<line x1="108.92" y1="787.7" x2="122.39" y2="787.7" stroke="#f00" stroke-width="1"/>
<line x1="122.39" y1="795.7" x2="132.83" y2="795.7" stroke="#f00" stroke-width="1"/>
<line x1="132.83" y1="795.7" x2="141.37" y2="795.7" stroke="#f00" stroke-width="1"/>
<line x1="141.37" y1="791.5" x2="154.83" y2="791.5" stroke="#f00" stroke-width="1"/>
<line x1="154.83" y1="792.5" x2="165.28" y2="792.5" stroke="#f00" stroke-width="1"/>
<line x1="165.28" y1="792.3" x2="173.81" y2="792.3" stroke="#f00" stroke-width="1"/>
<line x1="173.81" y1="795.7" x2="181.03" y2="795.7" stroke="#f00" stroke-width="1"/>
<line x1="181.03" y1="793.3" x2="187.28" y2="793.3" stroke="#f00" stroke-width="1"/>
<line x1="187.28" y1="791.5" x2="192.79" y2="791.5" stroke="#f00" stroke-width="1"/>
<line x1="192.79" y1="791.5" x2="197.72" y2="791.5" stroke="#f00" stroke-width="1"/>
<line x1="197.72" y1="792.3" x2="208.17" y2="792.3" stroke="#f00" stroke-width="1"/>
<line x1="208.17" y1="791.3" x2="216.7" y2="791.3" stroke="#f00" stroke-width="1"/>
<line x1="216.7" y1="792.3" x2="223.92" y2="792.3" stroke="#f00" stroke-width="1"/>
<line x1="223.92" y1="788.3" x2="230.17" y2="788.3" stroke="#f00" stroke-width="1"/>
<line x1="230.17" y1="790.9" x2="240.61" y2="790.9" stroke="#f00" stroke-width="1"/>
<line x1="240.61" y1="789.3" x2="249.15" y2="789.3" stroke="#f00" stroke-width="1"/>
<line x1="249.15" y1="788.7" x2="262.61" y2="788.7" stroke="#f00" stroke-width="1"/>
<line x1="262.61" y1="789.3" x2="273.06" y2="789.3" stroke="#f00" stroke-width="1"/>
<line x1="273.06" y1="788.9" x2="281.59" y2="788.9" stroke="#f00" stroke-width="1"/>
<rect x="92.9" y="793.9" width="4.8" height="4.8" fill="#f00"/>
<rect x="102.2" y="774.3" width="4.8" height="4.8" fill="#f00"/>
<rect x="113.5" y="785.3" width="4.8" height="4.8" fill="#f00"/>
<rect x="125.1" y="793.3" width="4.8" height="4.8" fill="#f00"/>
<rect x="134.7" y="793.3" width="4.8" height="4.8" fill="#f00"/>
<rect x="146" y="789.1" width="4.8" height="4.8" fill="#f00"/>
<rect x="157.6" y="790.1" width="4.8" height="4.8" fill="#f00"/>
<rect x="167.2" y="789.9" width="4.8" height="4.8" fill="#f00"/>
<rect x="175" y="793.3" width="4.8" height="4.8" fill="#f00"/>
<rect x="181.5" y="790.9" width="4.8" height="4.8" fill="#f00"/>
<rect x="187.3" y="789.1" width="4.8" height="4.8" fill="#f00"/>
<rect x="192.6" y="789.1" width="4.8" height="4.8" fill="#f00"/>
<rect x="200.5" y="789.9" width="4.8" height="4.8" fill="#f00"/>
<rect x="209.7" y="788.9" width="4.8" height="4.8" fill="#f00"/>
<rect x="217.7" y="789.9" width="4.8" height="4.8" fill="#f00"/>
<rect x="224.4" y="785.9" width="4.8" height="4.8" fill="#f00"/>
<rect x="232.9" y="788.5" width="4.8" height="4.8" fill="#f00"/>
<rect x="242.2" y="786.9" width="4.8" height="4.8" fill="#f00"/>
<rect x="253.5" y="786.3" width="4.8" height="4.8" fill="#f00"/>
<rect x="265.2" y="786.9" width="4.8" height="4.8" fill="#f00"/>
<rect x="274.9" y="786.5" width="4.8" height="4.8" fill="#f00"/>
<line x1="89.94" y1="805.5" x2="100.39" y2="805.5" stroke="#00f" stroke-width="1"/>
<line x1="100.39" y1="775.5" x2="108.92" y2="775.5" stroke="#00f" stroke-width="1"/>
<line x1="108.92" y1="786.5" x2="122.39" y2="786.5" stroke="#00f" stroke-width="1"/>
<line x1="122.39" y1="804.9" x2="132.83" y2="804.9" stroke="#00f" stroke-width="1"/>
<line x1="132.83" y1="806.9" x2="141.37" y2="806.9" stroke="#00f" stroke-width="1"/>
<line x1="141.37" y1="808.5" x2="154.83" y2="808.5" stroke="#00f" stroke-width="1"/>
<line x1="154.83" y1="808.1" x2="165.28" y2="808.1" stroke="#00f" stroke-width="1"/>
<line x1="165.28" y1="804.9" x2="173.81" y2="804.9" stroke="#00f" stroke-width="1"/>
<line x1="173.81" y1="807.1" x2="181.03" y2="807.1" stroke="#00f" stroke-width="1"/>
<line x1="181.03" y1="800.5" x2="187.28" y2="800.5" stroke="#00f" stroke-width="1"/>
<line x1="187.28" y1="801.7" x2="192.79" y2="801.7" stroke="#00f" stroke-width="1"/>
<line x1="192.79" y1="800.7" x2="197.72" y2="800.7" stroke="#00f" stroke-width="1"/>
<line x1="197.72" y1="798.1" x2="208.17" y2="798.1" stroke="#00f" stroke-width="1"/>
<line x1="208.17" y1="794.1" x2="216.7" y2="794.1" stroke="#00f" stroke-width="1"/>
<line x1="216.7" y1="793.5" x2="223.92" y2="793.5" stroke="#00f" stroke-width="1"/>
<line x1="223.92" y1="790.9" x2="230.17" y2="790.9" stroke="#00f" stroke-width="1"/>
<line x1="230.17" y1="791.1" x2="240.61" y2="791.1" stroke="#00f" stroke-width="1"/>
<line x1="240.61" y1="787.1" x2="249.15" y2="787.1" stroke="#00f" stroke-width="1"/>
<line x1="249.15" y1="785.7" x2="262.61" y2="785.7" stroke="#00f" stroke-width="1"/>
<line x1="262.61" y1="784.1" x2="273.06" y2="784.1" stroke="#00f" stroke-width="1"/>
<line x1="273.06" y1="781.1" x2="281.59" y2="781.1" stroke="#00f" stroke-width="1"/>
<path d="M92.5,803.3 h5.6 l-2.8,4.6 z" fill="#00f"/>
<path d="M101.8,773.3 h5.6 l-2.8,4.6 z" fill="#00f"/>
<path d="M113.1,784.3 h5.6 l-2.8,4.6 z" fill="#00f"/>
<path d="M124.7,802.7 h5.6 l-2.8,4.6 z" fill="#00f"/>
<path d="M134.3,804.7 h5.6 l-2.8,4.6 z" fill="#00f"/>
<path d="M145.6,806.3 h5.6 l-2.8,4.6 z" fill="#00f"/>
<path d="M157.2,805.9 h5.6 l-2.8,4.6 z" fill="#00f"/>
<path d="M166.8,802.7 h5.6 l-2.8,4.6 z" fill="#00f"/>
<path d="M174.6,804.9 h5.6 l-2.8,4.6 z" fill="#00f"/>
<path d="M181.1,798.3 h5.6 l-2.8,4.6 z" fill="#00f"/>
<path d="M186.9,799.5 h5.6 l-2.8,4.6 z" fill="#00f"/>
<path d="M192.2,798.5 h5.6 l-2.8,4.6 z" fill="#00f"/>
<path d="M200.1,795.9 h5.6 l-2.8,4.6 z" fill="#00f"/>
<path d="M209.3,791.9 h5.6 l-2.8,4.6 z" fill="#00f"/>
<path d="M217.3,791.3 h5.6 l-2.8,4.6 z" fill="#00f"/>
<path d="M224,788.7 h5.6 l-2.8,4.6 z" fill="#00f"/>
<path d="M232.5,788.9 h5.6 l-2.8,4.6 z" fill="#00f"/>
<path d="M241.8,784.9 h5.6 l-2.8,4.6 z" fill="#00f"/>
<path d="M253.1,783.5 h5.6 l-2.8,4.6 z" fill="#00f"/>
<path d="M264.8,781.9 h5.6 l-2.8,4.6 z" fill="#00f"/>
<path d="M274.5,778.9 h5.6 l-2.8,4.6 z" fill="#00f"/>
<rect x="420" y="599.5" width="247.5" height="233" fill="none" stroke="#000" stroke-width="1"/>
<line x1="420" y1="761.5" x2="667.5" y2="761.5" stroke="#000" stroke-width="1"/>
<line x1="420" y1="761.57" x2="424.3" y2="761.57" stroke="#000" stroke-width="1"/>
<line x1="667.5" y1="761.57" x2="663.2" y2="761.57" stroke="#000" stroke-width="1"/>
<line x1="420" y1="756.8" x2="424.3" y2="756.8" stroke="#000" stroke-width="1"/>
<line x1="667.5" y1="756.8" x2="663.2" y2="756.8" stroke="#000" stroke-width="1"/>
<line x1="420" y1="752.03" x2="424.3" y2="752.03" stroke="#000" stroke-width="1"/>
<line x1="667.5" y1="752.03" x2="663.2" y2="752.03" stroke="#000" stroke-width="1"/>
<line x1="420" y1="747.27" x2="424.3" y2="747.27" stroke="#000" stroke-width="1"/>
<line x1="667.5" y1="747.27" x2="663.2" y2="747.27" stroke="#000" stroke-width="1"/>
<line x1="420" y1="742.5" x2="428.5" y2="742.5" stroke="#000" stroke-width="1"/>
<line x1="667.5" y1="742.5" x2="659" y2="742.5" stroke="#000" stroke-width="1"/>
<line x1="420" y1="737.73" x2="424.3" y2="737.73" stroke="#000" stroke-width="1"/>
<line x1="667.5" y1="737.73" x2="663.2" y2="737.73" stroke="#000" stroke-width="1"/>
<line x1="420" y1="732.97" x2="424.3" y2="732.97" stroke="#000" stroke-width="1"/>
<line x1="667.5" y1="732.97" x2="663.2" y2="732.97" stroke="#000" stroke-width="1"/>
<line x1="420" y1="728.2" x2="424.3" y2="728.2" stroke="#000" stroke-width="1"/>
<line x1="667.5" y1="728.2" x2="663.2" y2="728.2" stroke="#000" stroke-width="1"/>
<line x1="420" y1="723.43" x2="424.3" y2="723.43" stroke="#000" stroke-width="1"/>
<line x1="667.5" y1="723.43" x2="663.2" y2="723.43" stroke="#000" stroke-width="1"/>
<line x1="420" y1="718.67" x2="428.5" y2="718.67" stroke="#000" stroke-width="1"/>
<line x1="667.5" y1="718.67" x2="659" y2="718.67" stroke="#000" stroke-width="1"/>
<line x1="420" y1="713.9" x2="424.3" y2="713.9" stroke="#000" stroke-width="1"/>
<line x1="667.5" y1="713.9" x2="663.2" y2="713.9" stroke="#000" stroke-width="1"/>
<line x1="420" y1="709.13" x2="424.3" y2="709.13" stroke="#000" stroke-width="1"/>
<line x1="667.5" y1="709.13" x2="663.2" y2="709.13" stroke="#000" stroke-width="1"/>
<line x1="420" y1="704.37" x2="424.3" y2="704.37" stroke="#000" stroke-width="1"/>
<line x1="667.5" y1="704.37" x2="663.2" y2="704.37" stroke="#000" stroke-width="1"/>
<line x1="420" y1="699.6" x2="424.3" y2="699.6" stroke="#000" stroke-width="1"/>
<line x1="667.5" y1="699.6" x2="663.2" y2="699.6" stroke="#000" stroke-width="1"/>
<line x1="420" y1="694.83" x2="428.5" y2="694.83" stroke="#000" stroke-width="1"/>
<line x1="667.5" y1="694.83" x2="659" y2="694.83" stroke="#000" stroke-width="1"/>
<line x1="420" y1="690.07" x2="424.3" y2="690.07" stroke="#000" stroke-width="1"/>
<line x1="667.5" y1="690.07" x2="663.2" y2="690.07" stroke="#000" stroke-width="1"/>
<line x1="420" y1="685.3" x2="424.3" y2="685.3" stroke="#000" stroke-width="1"/>
<line x1="667.5" y1="685.3" x2="663.2" y2="685.3" stroke="#000" stroke-width="1"/>
<line x1="420" y1="680.53" x2="424.3" y2="680.53" stroke="#000" stroke-width="1"/>
<line x1="667.5" y1="680.53" x2="663.2" y2="680.53" stroke="#000" stroke-width="1"/>
<line x1="420" y1="675.77" x2="424.3" y2="675.77" stroke="#000" stroke-width="1"/>
<line x1="667.5" y1="675.77" x2="663.2" y2="675.77" stroke="#000" stroke-width="1"/>
<line x1="420" y1="671" x2="428.5" y2="671" stroke="#000" stroke-width="1"/>
<line x1="667.5" y1="671" x2="659" y2="671" stroke="#000" stroke-width="1"/>
<line x1="420" y1="666.23" x2="424.3" y2="666.23" stroke="#000" stroke-width="1"/>
<line x1="667.5" y1="666.23" x2="663.2" y2="666.23" stroke="#000" stroke-width="1"/>
<line x1="420" y1="661.47" x2="424.3" y2="661.47" stroke="#000" stroke-width="1"/>
<line x1="667.5" y1="661.47" x2="663.2" y2="661.47" stroke="#000" stroke-width="1"/>
<line x1="420" y1="656.7" x2="424.3" y2="656.7" stroke="#000" stroke-width="1"/>
<line x1="667.5" y1="656.7" x2="663.2" y2="656.7" stroke="#000" stroke-width="1"/>
<line x1="420" y1="651.93" x2="424.3" y2="651.93" stroke="#000" stroke-width="1"/>
<line x1="667.5" y1="651.93" x2="663.2" y2="651.93" stroke="#000" stroke-width="1"/>
<line x1="420" y1="647.17" x2="428.5" y2="647.17" stroke="#000" stroke-width="1"/>
<line x1="667.5" y1="647.17" x2="659" y2="647.17" stroke="#000" stroke-width="1"/>
<line x1="420" y1="642.4" x2="424.3" y2="642.4" stroke="#000" stroke-width="1"/>
<line x1="667.5" y1="642.4" x2="663.2" y2="642.4" stroke="#000" stroke-width="1"/>
<line x1="420" y1="637.63" x2="424.3" y2="637.63" stroke="#000" stroke-width="1"/>
<line x1="667.5" y1="637.63" x2="663.2" y2="637.63" stroke="#000" stroke-width="1"/>
<line x1="420" y1="632.87" x2="424.3" y2="632.87" stroke="#000" stroke-width="1"/>
<line x1="667.5" y1="632.87" x2="663.2" y2="632.87" stroke="#000" stroke-width="1"/>
<line x1="420" y1="628.1" x2="424.3" y2="628.1" stroke="#000" stroke-width="1"/>
<line x1="667.5" y1="628.1" x2="663.2" y2="628.1" stroke="#000" stroke-width="1"/>
<line x1="420" y1="623.33" x2="428.5" y2="623.33" stroke="#000" stroke-width="1"/>
<line x1="667.5" y1="623.33" x2="659" y2="623.33" stroke="#000" stroke-width="1"/>
<line x1="420" y1="618.57" x2="424.3" y2="618.57" stroke="#000" stroke-width="1"/>
<line x1="667.5" y1="618.57" x2="663.2" y2="618.57" stroke="#000" stroke-width="1"/>
<line x1="420" y1="613.8" x2="424.3" y2="613.8" stroke="#000" stroke-width="1"/>
<line x1="667.5" y1="613.8" x2="663.2" y2="613.8" stroke="#000" stroke-width="1"/>
<line x1="420" y1="609.03" x2="424.3" y2="609.03" stroke="#000" stroke-width="1"/>
<line x1="667.5" y1="609.03" x2="663.2" y2="609.03" stroke="#000" stroke-width="1"/>
<line x1="420" y1="604.27" x2="424.3" y2="604.27" stroke="#000" stroke-width="1"/>
<line x1="667.5" y1="604.27" x2="663.2" y2="604.27" stroke="#000" stroke-width="1"/>
<line x1="420" y1="599.5" x2="428.5" y2="599.5" stroke="#000" stroke-width="1"/>
<line x1="667.5" y1="599.5" x2="659" y2="599.5" stroke="#000" stroke-width="1"/>
<line x1="420" y1="766.9" x2="425.9" y2="766.9" stroke="#000" stroke-width="1"/>
<line x1="667.5" y1="766.9" x2="661.6" y2="766.9" stroke="#000" stroke-width="1"/>
<line x1="420" y1="786.4" x2="425.9" y2="786.4" stroke="#000" stroke-width="1"/>
<line x1="667.5" y1="786.4" x2="661.6" y2="786.4" stroke="#000" stroke-width="1"/>
<line x1="420" y1="805.9" x2="425.9" y2="805.9" stroke="#000" stroke-width="1"/>
<line x1="667.5" y1="805.9" x2="661.6" y2="805.9" stroke="#000" stroke-width="1"/>
<line x1="420" y1="825.4" x2="425.9" y2="825.4" stroke="#000" stroke-width="1"/>
<line x1="667.5" y1="825.4" x2="661.6" y2="825.4" stroke="#000" stroke-width="1"/>
<line x1="452.38" y1="599.5" x2="452.38" y2="601.9" stroke="#000" stroke-width="1"/>
<line x1="452.38" y1="761.5" x2="452.38" y2="759.1" stroke="#000" stroke-width="1"/>
<line x1="452.38" y1="761.5" x2="452.38" y2="763" stroke="#000" stroke-width="1"/>
<line x1="452.38" y1="832.5" x2="452.38" y2="831" stroke="#000" stroke-width="1"/>
<line x1="471.32" y1="599.5" x2="471.32" y2="601.9" stroke="#000" stroke-width="1"/>
<line x1="471.32" y1="761.5" x2="471.32" y2="759.1" stroke="#000" stroke-width="1"/>
<line x1="471.32" y1="761.5" x2="471.32" y2="763" stroke="#000" stroke-width="1"/>
<line x1="471.32" y1="832.5" x2="471.32" y2="831" stroke="#000" stroke-width="1"/>
<line x1="484.76" y1="599.5" x2="484.76" y2="601.9" stroke="#000" stroke-width="1"/>
<line x1="484.76" y1="761.5" x2="484.76" y2="759.1" stroke="#000" stroke-width="1"/>
<line x1="484.76" y1="761.5" x2="484.76" y2="763" stroke="#000" stroke-width="1"/>
<line x1="484.76" y1="832.5" x2="484.76" y2="831" stroke="#000" stroke-width="1"/>
<line x1="495.18" y1="599.5" x2="495.18" y2="601.9" stroke="#000" stroke-width="1"/>
<line x1="495.18" y1="761.5" x2="495.18" y2="759.1" stroke="#000" stroke-width="1"/>
<line x1="495.18" y1="761.5" x2="495.18" y2="763" stroke="#000" stroke-width="1"/>
<line x1="495.18" y1="832.5" x2="495.18" y2="831" stroke="#000" stroke-width="1"/>
<line x1="503.7" y1="599.5" x2="503.7" y2="601.9" stroke="#000" stroke-width="1"/>
<line x1="503.7" y1="761.5" x2="503.7" y2="759.1" stroke="#000" stroke-width="1"/>
<line x1="503.7" y1="761.5" x2="503.7" y2="763" stroke="#000" stroke-width="1"/>
<line x1="503.7" y1="832.5" x2="503.7" y2="831" stroke="#000" stroke-width="1"/>
<line x1="510.9" y1="599.5" x2="510.9" y2="601.9" stroke="#000" stroke-width="1"/>
<line x1="510.9" y1="761.5" x2="510.9" y2="759.1" stroke="#000" stroke-width="1"/>
<line x1="510.9" y1="761.5" x2="510.9" y2="763" stroke="#000" stroke-width="1"/>
<line x1="510.9" y1="832.5" x2="510.9" y2="831" stroke="#000" stroke-width="1"/>
<line x1="517.14" y1="599.5" x2="517.14" y2="601.9" stroke="#000" stroke-width="1"/>
<line x1="517.14" y1="761.5" x2="517.14" y2="759.1" stroke="#000" stroke-width="1"/>
<line x1="517.14" y1="761.5" x2="517.14" y2="763" stroke="#000" stroke-width="1"/>
<line x1="517.14" y1="832.5" x2="517.14" y2="831" stroke="#000" stroke-width="1"/>
<line x1="522.64" y1="599.5" x2="522.64" y2="601.9" stroke="#000" stroke-width="1"/>
<line x1="522.64" y1="761.5" x2="522.64" y2="759.1" stroke="#000" stroke-width="1"/>
<line x1="522.64" y1="761.5" x2="522.64" y2="763" stroke="#000" stroke-width="1"/>
<line x1="522.64" y1="832.5" x2="522.64" y2="831" stroke="#000" stroke-width="1"/>
<line x1="527.56" y1="599.5" x2="527.56" y2="603.7" stroke="#000" stroke-width="1"/>
<line x1="527.56" y1="761.5" x2="527.56" y2="757.3" stroke="#000" stroke-width="1"/>
<line x1="527.56" y1="761.5" x2="527.56" y2="764.1" stroke="#000" stroke-width="1"/>
<line x1="527.56" y1="832.5" x2="527.56" y2="829.9" stroke="#000" stroke-width="1"/>
<line x1="559.94" y1="599.5" x2="559.94" y2="601.9" stroke="#000" stroke-width="1"/>
<line x1="559.94" y1="761.5" x2="559.94" y2="759.1" stroke="#000" stroke-width="1"/>
<line x1="559.94" y1="761.5" x2="559.94" y2="763" stroke="#000" stroke-width="1"/>
<line x1="559.94" y1="832.5" x2="559.94" y2="831" stroke="#000" stroke-width="1"/>
<line x1="578.88" y1="599.5" x2="578.88" y2="601.9" stroke="#000" stroke-width="1"/>
<line x1="578.88" y1="761.5" x2="578.88" y2="759.1" stroke="#000" stroke-width="1"/>
<line x1="578.88" y1="761.5" x2="578.88" y2="763" stroke="#000" stroke-width="1"/>
<line x1="578.88" y1="832.5" x2="578.88" y2="831" stroke="#000" stroke-width="1"/>
<line x1="592.32" y1="599.5" x2="592.32" y2="601.9" stroke="#000" stroke-width="1"/>
<line x1="592.32" y1="761.5" x2="592.32" y2="759.1" stroke="#000" stroke-width="1"/>
<line x1="592.32" y1="761.5" x2="592.32" y2="763" stroke="#000" stroke-width="1"/>
<line x1="592.32" y1="832.5" x2="592.32" y2="831" stroke="#000" stroke-width="1"/>
<line x1="602.74" y1="599.5" x2="602.74" y2="601.9" stroke="#000" stroke-width="1"/>
<line x1="602.74" y1="761.5" x2="602.74" y2="759.1" stroke="#000" stroke-width="1"/>
<line x1="602.74" y1="761.5" x2="602.74" y2="763" stroke="#000" stroke-width="1"/>
<line x1="602.74" y1="832.5" x2="602.74" y2="831" stroke="#000" stroke-width="1"/>
<line x1="611.26" y1="599.5" x2="611.26" y2="601.9" stroke="#000" stroke-width="1"/>
<line x1="611.26" y1="761.5" x2="611.26" y2="759.1" stroke="#000" stroke-width="1"/>
<line x1="611.26" y1="761.5" x2="611.26" y2="763" stroke="#000" stroke-width="1"/>
<line x1="611.26" y1="832.5" x2="611.26" y2="831" stroke="#000" stroke-width="1"/>
<line x1="618.46" y1="599.5" x2="618.46" y2="601.9" stroke="#000" stroke-width="1"/>
<line x1="618.46" y1="761.5" x2="618.46" y2="759.1" stroke="#000" stroke-width="1"/>
<line x1="618.46" y1="761.5" x2="618.46" y2="763" stroke="#000" stroke-width="1"/>
<line x1="618.46" y1="832.5" x2="618.46" y2="831" stroke="#000" stroke-width="1"/>
<line x1="624.7" y1="599.5" x2="624.7" y2="601.9" stroke="#000" stroke-width="1"/>
<line x1="624.7" y1="761.5" x2="624.7" y2="759.1" stroke="#000" stroke-width="1"/>
<line x1="624.7" y1="761.5" x2="624.7" y2="763" stroke="#000" stroke-width="1"/>
<line x1="624.7" y1="832.5" x2="624.7" y2="831" stroke="#000" stroke-width="1"/>
<line x1="630.2" y1="599.5" x2="630.2" y2="601.9" stroke="#000" stroke-width="1"/>
<line x1="630.2" y1="761.5" x2="630.2" y2="759.1" stroke="#000" stroke-width="1"/>
<line x1="630.2" y1="761.5" x2="630.2" y2="763" stroke="#000" stroke-width="1"/>
<line x1="630.2" y1="832.5" x2="630.2" y2="831" stroke="#000" stroke-width="1"/>
<line x1="635.12" y1="599.5" x2="635.12" y2="603.7" stroke="#000" stroke-width="1"/>
<line x1="635.12" y1="761.5" x2="635.12" y2="757.3" stroke="#000" stroke-width="1"/>
<line x1="635.12" y1="761.5" x2="635.12" y2="764.1" stroke="#000" stroke-width="1"/>
<line x1="635.12" y1="832.5" x2="635.12" y2="829.9" stroke="#000" stroke-width="1"/>
<line x1="420" y1="742.5" x2="667.5" y2="742.5" stroke="#222" stroke-width="1" stroke-dasharray="1.5 1.95"/>
<line x1="420" y1="786.4" x2="667.5" y2="786.4" stroke="#222" stroke-width="1" stroke-dasharray="1.65 1.8"/>
<text x="418.2" y="605.4" text-anchor="end" font-size="13.6" ><tspan class="h">1</tspan>.3</text>
<path d="M404.08,605.4 L404.08,595.76 L403.33,595.76 C403.07,596.78 402.86,596.9 401.62,597.04 L400.65,597.16 L400.65,598.06 L402.94,598.06 L402.94,605.4 Z" fill="#000"/>
<text x="418.2" y="628.73" text-anchor="end" font-size="13.6" ><tspan class="h">1</tspan>.25</text>
<path d="M396.52,628.73 L396.52,619.09 L395.77,619.09 C395.51,620.11 395.29,620.23 394.05,620.37 L393.09,620.49 L393.09,621.39 L395.37,621.39 L395.37,628.73 Z" fill="#000"/>
<text x="418.2" y="652.57" text-anchor="end" font-size="13.6" ><tspan class="h">1</tspan>.2</text>
<path d="M404.08,652.57 L404.08,642.92 L403.33,642.92 C403.07,643.94 402.86,644.07 401.62,644.2 L400.65,644.33 L400.65,645.22 L402.94,645.22 L402.94,652.57 Z" fill="#000"/>
<text x="418.2" y="676.4" text-anchor="end" font-size="13.6" ><tspan class="h">1</tspan>.<tspan class="h">1</tspan>5</text>
<path d="M396.52,676.4 L396.52,666.76 L395.77,666.76 C395.51,667.78 395.29,667.9 394.05,668.04 L393.09,668.16 L393.09,669.06 L395.37,669.06 L395.37,676.4 Z" fill="#000"/>
<path d="M407.86,676.4 L407.86,666.76 L407.11,666.76 C406.85,667.78 406.63,667.9 405.4,668.04 L404.43,668.16 L404.43,669.06 L406.72,669.06 L406.72,676.4 Z" fill="#000"/>
<text x="418.2" y="700.23" text-anchor="end" font-size="13.6" ><tspan class="h">1</tspan>.<tspan class="h">1</tspan></text>
<path d="M404.08,700.23 L404.08,690.59 L403.33,690.59 C403.07,691.61 402.86,691.73 401.62,691.87 L400.65,691.99 L400.65,692.89 L402.94,692.89 L402.94,700.23 Z" fill="#000"/>
<path d="M415.42,700.23 L415.42,690.59 L414.67,690.59 C414.42,691.61 414.2,691.73 412.96,691.87 L412,691.99 L412,692.89 L414.28,692.89 L414.28,700.23 Z" fill="#000"/>
<text x="418.2" y="724.07" text-anchor="end" font-size="13.6" ><tspan class="h">1</tspan>.05</text>
<path d="M396.52,724.07 L396.52,714.42 L395.77,714.42 C395.51,715.44 395.29,715.57 394.05,715.7 L393.09,715.83 L393.09,716.72 L395.37,716.72 L395.37,724.07 Z" fill="#000"/>
<text x="418.2" y="747.9" text-anchor="end" font-size="13.6" ><tspan class="h">1</tspan></text>
<path d="M415.42,747.9 L415.42,738.26 L414.67,738.26 C414.42,739.28 414.2,739.4 412.96,739.54 L412,739.66 L412,740.56 L414.28,740.56 L414.28,747.9 Z" fill="#000"/>
<text x="418.2" y="772.3" text-anchor="end" font-size="13.6" >0.02</text>
<text x="418.2" y="791.8" text-anchor="end" font-size="13.6" >0</text>
<text x="418.2" y="811.3" text-anchor="end" font-size="13.6" >-0.02</text>
<text x="418.2" y="830.8" text-anchor="end" font-size="13.6" >-0.04</text>
<text x="452.38" y="850" text-anchor="middle" font-size="13.6" >20</text>
<text x="516.85" y="850" text-anchor="start" font-size="13.6" ><tspan class="h">1</tspan>0</text>
<path d="M521.64,850 L521.64,840.36 L520.89,840.36 C520.64,841.38 520.42,841.5 519.18,841.64 L518.21,841.76 L518.21,842.66 L520.5,842.66 L520.5,850 Z" fill="#000"/>
<text x="531.98" y="843.8" text-anchor="start" font-size="9.5" >2</text>
<text x="624.61" y="850" text-anchor="start" font-size="13.6" ><tspan class="h">1</tspan>0</text>
<path d="M629.4,850 L629.4,840.36 L628.65,840.36 C628.4,841.38 628.18,841.5 626.94,841.64 L625.97,841.76 L625.97,842.66 L628.26,842.66 L628.26,850 Z" fill="#000"/>
<text x="639.74" y="843.8" text-anchor="start" font-size="9.5" >3</text>
<text x="542.29" y="850" text-anchor="start" font-size="13.6" >2</text>
<path d="M549.89,842.3 L556.49,849.3 M556.49,842.3 L549.89,849.3" stroke="#000" stroke-width="1.05" fill="none"/>
<text x="557.29" y="850" text-anchor="start" font-size="13.6" ><tspan class="h">1</tspan>0</text>
<path d="M562.08,850 L562.08,840.36 L561.33,840.36 C561.07,841.38 560.85,841.5 559.62,841.64 L558.65,841.76 L558.65,842.66 L560.93,842.66 L560.93,850 Z" fill="#000"/>
<text x="571.04" y="843.8" text-anchor="start" font-size="9.5" >2</text>
<text x="649.85" y="850" text-anchor="start" font-size="13.6" >2</text>
<path d="M657.45,842.3 L664.05,849.3 M664.05,842.3 L657.45,849.3" stroke="#000" stroke-width="1.05" fill="none"/>
<text x="664.85" y="850" text-anchor="start" font-size="13.6" ><tspan class="h">1</tspan>0</text>
<path d="M669.64,850 L669.64,840.36 L668.89,840.36 C668.63,841.38 668.41,841.5 667.18,841.64 L666.21,841.76 L666.21,842.66 L668.49,842.66 L668.49,850 Z" fill="#000"/>
<text x="678.6" y="843.8" text-anchor="start" font-size="9.5" >3</text>
<text x="603" y="868.7" font-size="13.6"><tspan font-style="italic">p</tspan><tspan font-size="9.5" dy="-5.5">truth</tspan></text>
<text x="611.8" y="875" font-size="9.5">T</text>
<text x="667.8" y="868.7" font-size="13.6" text-anchor="end">[GeV]</text>
<text transform="translate(374.9,729.6) rotate(-90)" font-size="13.6">Response (<tspan font-style="italic">p</tspan><tspan font-size="9" dy="5.4">T</tspan><tspan font-size="9.2" dx="-5.5" dy="-11.4">reco</tspan><tspan dy="6">/</tspan><tspan font-style="italic">p</tspan><tspan font-size="9" dy="5.4">T</tspan><tspan font-size="9.2" dx="-5.5" dy="-11.4">truth</tspan><tspan dy="6">)</tspan></text>
<text transform="translate(376.9,801.3) rotate(-90)" font-size="14.2" font-style="italic">R' - R</text>
<text x="430.1" y="614.7" font-size="12.7"><tspan font-weight="bold" font-style="italic">ATLAS</tspan></text>
<text x="475.7" y="614.7" font-size="12.7">Simulation</text>
<text x="430.1" y="630.7" font-size="12.7">P<tspan font-size="9.0">YTHIA</tspan>8 Dijet</text>
<text x="430.5" y="646.8" font-size="12.0">2.<tspan class="h">1</tspan></text>
<path d="M444.73,646.8 L444.73,638.29 L444.07,638.29 C443.84,639.19 443.65,639.3 442.56,639.42 L441.71,639.53 L441.71,640.32 L443.72,640.32 L443.72,646.8 Z" fill="#000"/>
<text x="448.6" y="646.8" font-size="10.8">&lt;</text>
<text x="460.4" y="645.6" font-size="12.0">η</text>
<text x="467" y="651.6" font-size="8.2">det</text>
<text x="484.8" y="646.8" font-size="10.8">&lt;</text>
<text x="494.6" y="646.8" font-size="12.0">2.4</text>
<line x1="456.2" y1="636.3" x2="456.2" y2="647.4" stroke="#000" stroke-width="1.05"/>
<line x1="482.6" y1="636.3" x2="482.6" y2="647.4" stroke="#000" stroke-width="1.05"/>
<text x="430.1" y="663.3" font-size="12.7">anti-<tspan font-style="italic">k</tspan><tspan font-style="italic" font-size="9" dy="3.3">t</tspan><tspan dy="-3.3">, </tspan><tspan font-style="italic">R</tspan>=0.4, <tspan font-style="italic">b</tspan> jets</text>
<path d="M578.9,610.2 l0.9,-0.5 l1.3,5.6 l1.7,-11.5 h6.9" fill="none" stroke="#000" stroke-width="0.9"/>
<text x="583.3" y="614.8" font-size="12.7">s = 8 TeV</text>
<text x="578.7" y="634.2" font-size="12.7">EM+JES</text>
<circle cx="578.4" cy="648.1" r="2.15" fill="#000"/>
<text x="586.5" y="650.5" font-size="12.7">w/o GS</text>
<rect x="576.3" y="662.4" width="4.2" height="4.2" fill="#f00"/>
<text x="586.5" y="667.2" font-size="12.7">GS<tspan font-size="8.4" dy="3.6">calo</tspan></text>
<path d="M575.9,678 h5 l-2.5,4.3 z" fill="#00f"/>
<text x="586.5" y="683" font-size="12.7">GS</text>
<line x1="452.38" y1="735.3" x2="462.8" y2="735.3" stroke="#000" stroke-width="1"/>
<line x1="462.8" y1="737.3" x2="471.32" y2="737.3" stroke="#000" stroke-width="1"/>
<line x1="471.32" y1="737.9" x2="484.76" y2="737.9" stroke="#000" stroke-width="1"/>
<line x1="484.76" y1="734.3" x2="495.18" y2="734.3" stroke="#000" stroke-width="1"/>
<line x1="495.18" y1="735.3" x2="503.7" y2="735.3" stroke="#000" stroke-width="1"/>
<line x1="503.7" y1="737.9" x2="517.14" y2="737.9" stroke="#000" stroke-width="1"/>
<line x1="517.14" y1="740.3" x2="527.56" y2="740.3" stroke="#000" stroke-width="1"/>
<line x1="527.56" y1="741.3" x2="536.08" y2="741.3" stroke="#000" stroke-width="1"/>
<line x1="536.08" y1="742.9" x2="543.28" y2="742.9" stroke="#000" stroke-width="1"/>
<line x1="543.28" y1="742.9" x2="549.52" y2="742.9" stroke="#000" stroke-width="1"/>
<line x1="549.52" y1="742.7" x2="555.02" y2="742.7" stroke="#000" stroke-width="1"/>
<line x1="555.02" y1="741.5" x2="559.94" y2="741.5" stroke="#000" stroke-width="1"/>
<line x1="559.94" y1="743.3" x2="570.36" y2="743.3" stroke="#000" stroke-width="1"/>
<line x1="570.36" y1="748.7" x2="578.88" y2="748.7" stroke="#000" stroke-width="1"/>
<line x1="578.88" y1="749.3" x2="586.08" y2="749.3" stroke="#000" stroke-width="1"/>
<line x1="586.08" y1="745.9" x2="592.32" y2="745.9" stroke="#000" stroke-width="1"/>
<line x1="592.32" y1="745.3" x2="602.74" y2="745.3" stroke="#000" stroke-width="1"/>
<circle cx="457.8" cy="735.3" r="2.5" fill="#000"/>
<circle cx="467.1" cy="737.3" r="2.5" fill="#000"/>
<circle cx="478.4" cy="737.9" r="2.5" fill="#000"/>
<circle cx="490" cy="734.3" r="2.5" fill="#000"/>
<circle cx="499.6" cy="735.3" r="2.5" fill="#000"/>
<circle cx="510.9" cy="737.9" r="2.5" fill="#000"/>
<circle cx="522.5" cy="740.3" r="2.5" fill="#000"/>
<circle cx="532.1" cy="741.3" r="2.5" fill="#000"/>
<circle cx="539.9" cy="742.9" r="2.5" fill="#000"/>
<circle cx="546.4" cy="742.9" r="2.5" fill="#000"/>
<circle cx="552.2" cy="742.7" r="2.5" fill="#000"/>
<circle cx="557.5" cy="741.5" r="2.5" fill="#000"/>
<circle cx="565.4" cy="743.3" r="2.5" fill="#000"/>
<circle cx="574.6" cy="748.7" r="2.5" fill="#000"/>
<circle cx="582.6" cy="749.3" r="2.5" fill="#000"/>
<circle cx="589.3" cy="745.9" r="2.5" fill="#000"/>
<circle cx="597.8" cy="745.3" r="2.5" fill="#000"/>
<line x1="457.8" y1="732.7" x2="457.8" y2="738.7" stroke="#f00" stroke-width="1"/>
<line x1="452.38" y1="735.7" x2="462.8" y2="735.7" stroke="#f00" stroke-width="1"/>
<line x1="462.8" y1="737.3" x2="471.32" y2="737.3" stroke="#f00" stroke-width="1"/>
<line x1="471.32" y1="737.3" x2="484.76" y2="737.3" stroke="#f00" stroke-width="1"/>
<line x1="484.76" y1="736.3" x2="495.18" y2="736.3" stroke="#f00" stroke-width="1"/>
<line x1="495.18" y1="737.9" x2="503.7" y2="737.9" stroke="#f00" stroke-width="1"/>
<line x1="503.7" y1="736.7" x2="517.14" y2="736.7" stroke="#f00" stroke-width="1"/>
<line x1="517.14" y1="739.9" x2="527.56" y2="739.9" stroke="#f00" stroke-width="1"/>
<line x1="527.56" y1="739.7" x2="536.08" y2="739.7" stroke="#f00" stroke-width="1"/>
<line x1="536.08" y1="740.7" x2="543.28" y2="740.7" stroke="#f00" stroke-width="1"/>
<line x1="543.28" y1="743.3" x2="549.52" y2="743.3" stroke="#f00" stroke-width="1"/>
<line x1="549.52" y1="744.5" x2="555.02" y2="744.5" stroke="#f00" stroke-width="1"/>
<line x1="555.02" y1="742.7" x2="559.94" y2="742.7" stroke="#f00" stroke-width="1"/>
<line x1="559.94" y1="743.3" x2="570.36" y2="743.3" stroke="#f00" stroke-width="1"/>
<line x1="570.36" y1="746.3" x2="578.88" y2="746.3" stroke="#f00" stroke-width="1"/>
<line x1="578.88" y1="750.3" x2="586.08" y2="750.3" stroke="#f00" stroke-width="1"/>
<line x1="586.08" y1="752.9" x2="592.32" y2="752.9" stroke="#f00" stroke-width="1"/>
<line x1="592.32" y1="746.3" x2="602.74" y2="746.3" stroke="#f00" stroke-width="1"/>
<rect x="455.4" y="733.3" width="4.8" height="4.8" fill="#f00"/>
<rect x="464.7" y="734.9" width="4.8" height="4.8" fill="#f00"/>
<rect x="476" y="734.9" width="4.8" height="4.8" fill="#f00"/>
<rect x="487.6" y="733.9" width="4.8" height="4.8" fill="#f00"/>
<rect x="497.2" y="735.5" width="4.8" height="4.8" fill="#f00"/>
<rect x="508.5" y="734.3" width="4.8" height="4.8" fill="#f00"/>
<rect x="520.1" y="737.5" width="4.8" height="4.8" fill="#f00"/>
<rect x="529.7" y="737.3" width="4.8" height="4.8" fill="#f00"/>
<rect x="537.5" y="738.3" width="4.8" height="4.8" fill="#f00"/>
<rect x="544" y="740.9" width="4.8" height="4.8" fill="#f00"/>
<rect x="549.8" y="742.1" width="4.8" height="4.8" fill="#f00"/>
<rect x="555.1" y="740.3" width="4.8" height="4.8" fill="#f00"/>
<rect x="563" y="740.9" width="4.8" height="4.8" fill="#f00"/>
<rect x="572.2" y="743.9" width="4.8" height="4.8" fill="#f00"/>
<rect x="580.2" y="747.9" width="4.8" height="4.8" fill="#f00"/>
<rect x="586.9" y="750.5" width="4.8" height="4.8" fill="#f00"/>
<rect x="595.4" y="743.9" width="4.8" height="4.8" fill="#f00"/>
<line x1="457.8" y1="729" x2="457.8" y2="739" stroke="#00f" stroke-width="1"/>
<line x1="467.1" y1="736.7" x2="467.1" y2="743.7" stroke="#00f" stroke-width="1"/>
<line x1="452.38" y1="734" x2="462.8" y2="734" stroke="#00f" stroke-width="1"/>
<line x1="462.8" y1="740.2" x2="471.32" y2="740.2" stroke="#00f" stroke-width="1"/>
<line x1="471.32" y1="738.6" x2="484.76" y2="738.6" stroke="#00f" stroke-width="1"/>
<line x1="484.76" y1="737.6" x2="495.18" y2="737.6" stroke="#00f" stroke-width="1"/>
<line x1="495.18" y1="741.6" x2="503.7" y2="741.6" stroke="#00f" stroke-width="1"/>
<line x1="503.7" y1="738.6" x2="517.14" y2="738.6" stroke="#00f" stroke-width="1"/>
<line x1="517.14" y1="741" x2="527.56" y2="741" stroke="#00f" stroke-width="1"/>
<line x1="527.56" y1="742.2" x2="536.08" y2="742.2" stroke="#00f" stroke-width="1"/>
<line x1="536.08" y1="741.6" x2="543.28" y2="741.6" stroke="#00f" stroke-width="1"/>
<line x1="543.28" y1="742.4" x2="549.52" y2="742.4" stroke="#00f" stroke-width="1"/>
<line x1="549.52" y1="743.8" x2="555.02" y2="743.8" stroke="#00f" stroke-width="1"/>
<line x1="555.02" y1="742.6" x2="559.94" y2="742.6" stroke="#00f" stroke-width="1"/>
<line x1="559.94" y1="742.6" x2="570.36" y2="742.6" stroke="#00f" stroke-width="1"/>
<line x1="570.36" y1="743.6" x2="578.88" y2="743.6" stroke="#00f" stroke-width="1"/>
<line x1="578.88" y1="746.2" x2="586.08" y2="746.2" stroke="#00f" stroke-width="1"/>
<line x1="586.08" y1="743.6" x2="592.32" y2="743.6" stroke="#00f" stroke-width="1"/>
<line x1="592.32" y1="742.2" x2="602.74" y2="742.2" stroke="#00f" stroke-width="1"/>
<path d="M455,731.8 h5.6 l-2.8,4.6 z" fill="#00f"/>
<path d="M464.3,738 h5.6 l-2.8,4.6 z" fill="#00f"/>
<path d="M475.6,736.4 h5.6 l-2.8,4.6 z" fill="#00f"/>
<path d="M487.2,735.4 h5.6 l-2.8,4.6 z" fill="#00f"/>
<path d="M496.8,739.4 h5.6 l-2.8,4.6 z" fill="#00f"/>
<path d="M508.1,736.4 h5.6 l-2.8,4.6 z" fill="#00f"/>
<path d="M519.7,738.8 h5.6 l-2.8,4.6 z" fill="#00f"/>
<path d="M529.3,740 h5.6 l-2.8,4.6 z" fill="#00f"/>
<path d="M537.1,739.4 h5.6 l-2.8,4.6 z" fill="#00f"/>
<path d="M543.6,740.2 h5.6 l-2.8,4.6 z" fill="#00f"/>
<path d="M549.4,741.6 h5.6 l-2.8,4.6 z" fill="#00f"/>
<path d="M554.7,740.4 h5.6 l-2.8,4.6 z" fill="#00f"/>
<path d="M562.6,740.4 h5.6 l-2.8,4.6 z" fill="#00f"/>
<path d="M571.8,741.4 h5.6 l-2.8,4.6 z" fill="#00f"/>
<path d="M579.8,744 h5.6 l-2.8,4.6 z" fill="#00f"/>
<path d="M586.5,741.4 h5.6 l-2.8,4.6 z" fill="#00f"/>
<path d="M595,740 h5.6 l-2.8,4.6 z" fill="#00f"/>
<line x1="452.38" y1="790.3" x2="462.8" y2="790.3" stroke="#f00" stroke-width="1"/>
<line x1="462.8" y1="786.7" x2="471.32" y2="786.7" stroke="#f00" stroke-width="1"/>
<line x1="471.32" y1="785.9" x2="484.76" y2="785.9" stroke="#f00" stroke-width="1"/>
<line x1="484.76" y1="792.7" x2="495.18" y2="792.7" stroke="#f00" stroke-width="1"/>
<line x1="495.18" y1="790.7" x2="503.7" y2="790.7" stroke="#f00" stroke-width="1"/>
<line x1="503.7" y1="786.1" x2="517.14" y2="786.1" stroke="#f00" stroke-width="1"/>
<line x1="517.14" y1="786.3" x2="527.56" y2="786.3" stroke="#f00" stroke-width="1"/>
<line x1="527.56" y1="783.3" x2="536.08" y2="783.3" stroke="#f00" stroke-width="1"/>
<line x1="536.08" y1="781.9" x2="543.28" y2="781.9" stroke="#f00" stroke-width="1"/>
<line x1="543.28" y1="786.9" x2="549.52" y2="786.9" stroke="#f00" stroke-width="1"/>
<line x1="549.52" y1="789.3" x2="555.02" y2="789.3" stroke="#f00" stroke-width="1"/>
<line x1="555.02" y1="789.7" x2="559.94" y2="789.7" stroke="#f00" stroke-width="1"/>
<line x1="559.94" y1="784.7" x2="570.36" y2="784.7" stroke="#f00" stroke-width="1"/>
<line x1="570.36" y1="782.7" x2="578.88" y2="782.7" stroke="#f00" stroke-width="1"/>
<line x1="578.88" y1="786.3" x2="586.08" y2="786.3" stroke="#f00" stroke-width="1"/>
<line x1="586.08" y1="799.9" x2="592.32" y2="799.9" stroke="#f00" stroke-width="1"/>
<line x1="592.32" y1="786.3" x2="602.74" y2="786.3" stroke="#f00" stroke-width="1"/>
<rect x="455.4" y="787.9" width="4.8" height="4.8" fill="#f00"/>
<rect x="464.7" y="784.3" width="4.8" height="4.8" fill="#f00"/>
<rect x="476" y="783.5" width="4.8" height="4.8" fill="#f00"/>
<rect x="487.6" y="790.3" width="4.8" height="4.8" fill="#f00"/>
<rect x="497.2" y="788.3" width="4.8" height="4.8" fill="#f00"/>
<rect x="508.5" y="783.7" width="4.8" height="4.8" fill="#f00"/>
<rect x="520.1" y="783.9" width="4.8" height="4.8" fill="#f00"/>
<rect x="529.7" y="780.9" width="4.8" height="4.8" fill="#f00"/>
<rect x="537.5" y="779.5" width="4.8" height="4.8" fill="#f00"/>
<rect x="544" y="784.5" width="4.8" height="4.8" fill="#f00"/>
<rect x="549.8" y="786.9" width="4.8" height="4.8" fill="#f00"/>
<rect x="555.1" y="787.3" width="4.8" height="4.8" fill="#f00"/>
<rect x="563" y="782.3" width="4.8" height="4.8" fill="#f00"/>
<rect x="572.2" y="780.3" width="4.8" height="4.8" fill="#f00"/>
<rect x="580.2" y="783.9" width="4.8" height="4.8" fill="#f00"/>
<rect x="586.9" y="797.5" width="4.8" height="4.8" fill="#f00"/>
<rect x="595.4" y="783.9" width="4.8" height="4.8" fill="#f00"/>
<line x1="452.38" y1="784.5" x2="462.8" y2="784.5" stroke="#00f" stroke-width="1"/>
<line x1="462.8" y1="792.5" x2="471.32" y2="792.5" stroke="#00f" stroke-width="1"/>
<line x1="471.32" y1="788.5" x2="484.76" y2="788.5" stroke="#00f" stroke-width="1"/>
<line x1="484.76" y1="793.1" x2="495.18" y2="793.1" stroke="#00f" stroke-width="1"/>
<line x1="495.18" y1="800.5" x2="503.7" y2="800.5" stroke="#00f" stroke-width="1"/>
<line x1="503.7" y1="790.5" x2="517.14" y2="790.5" stroke="#00f" stroke-width="1"/>
<line x1="517.14" y1="788.9" x2="527.56" y2="788.9" stroke="#00f" stroke-width="1"/>
<line x1="527.56" y1="789.5" x2="536.08" y2="789.5" stroke="#00f" stroke-width="1"/>
<line x1="536.08" y1="784.5" x2="543.28" y2="784.5" stroke="#00f" stroke-width="1"/>
<line x1="543.28" y1="786.1" x2="549.52" y2="786.1" stroke="#00f" stroke-width="1"/>
<line x1="549.52" y1="789.5" x2="555.02" y2="789.5" stroke="#00f" stroke-width="1"/>
<line x1="555.02" y1="789.9" x2="559.94" y2="789.9" stroke="#00f" stroke-width="1"/>
<line x1="559.94" y1="784.5" x2="570.36" y2="784.5" stroke="#00f" stroke-width="1"/>
<line x1="570.36" y1="776.5" x2="578.88" y2="776.5" stroke="#00f" stroke-width="1"/>
<line x1="578.88" y1="778.9" x2="586.08" y2="778.9" stroke="#00f" stroke-width="1"/>
<line x1="586.08" y1="780.9" x2="592.32" y2="780.9" stroke="#00f" stroke-width="1"/>
<line x1="592.32" y1="778.1" x2="602.74" y2="778.1" stroke="#00f" stroke-width="1"/>
<path d="M455,782.3 h5.6 l-2.8,4.6 z" fill="#00f"/>
<path d="M464.3,790.3 h5.6 l-2.8,4.6 z" fill="#00f"/>
<path d="M475.6,786.3 h5.6 l-2.8,4.6 z" fill="#00f"/>
<path d="M487.2,790.9 h5.6 l-2.8,4.6 z" fill="#00f"/>
<path d="M496.8,798.3 h5.6 l-2.8,4.6 z" fill="#00f"/>
<path d="M508.1,788.3 h5.6 l-2.8,4.6 z" fill="#00f"/>
<path d="M519.7,786.7 h5.6 l-2.8,4.6 z" fill="#00f"/>
<path d="M529.3,787.3 h5.6 l-2.8,4.6 z" fill="#00f"/>
<path d="M537.1,782.3 h5.6 l-2.8,4.6 z" fill="#00f"/>
<path d="M543.6,783.9 h5.6 l-2.8,4.6 z" fill="#00f"/>
<path d="M549.4,787.3 h5.6 l-2.8,4.6 z" fill="#00f"/>
<path d="M554.7,787.7 h5.6 l-2.8,4.6 z" fill="#00f"/>
<path d="M562.6,782.3 h5.6 l-2.8,4.6 z" fill="#00f"/>
<path d="M571.8,774.3 h5.6 l-2.8,4.6 z" fill="#00f"/>
<path d="M579.8,776.7 h5.6 l-2.8,4.6 z" fill="#00f"/>
<path d="M586.5,778.7 h5.6 l-2.8,4.6 z" fill="#00f"/>
<path d="M595,775.9 h5.6 l-2.8,4.6 z" fill="#00f"/>
</svg>
</body></html>
